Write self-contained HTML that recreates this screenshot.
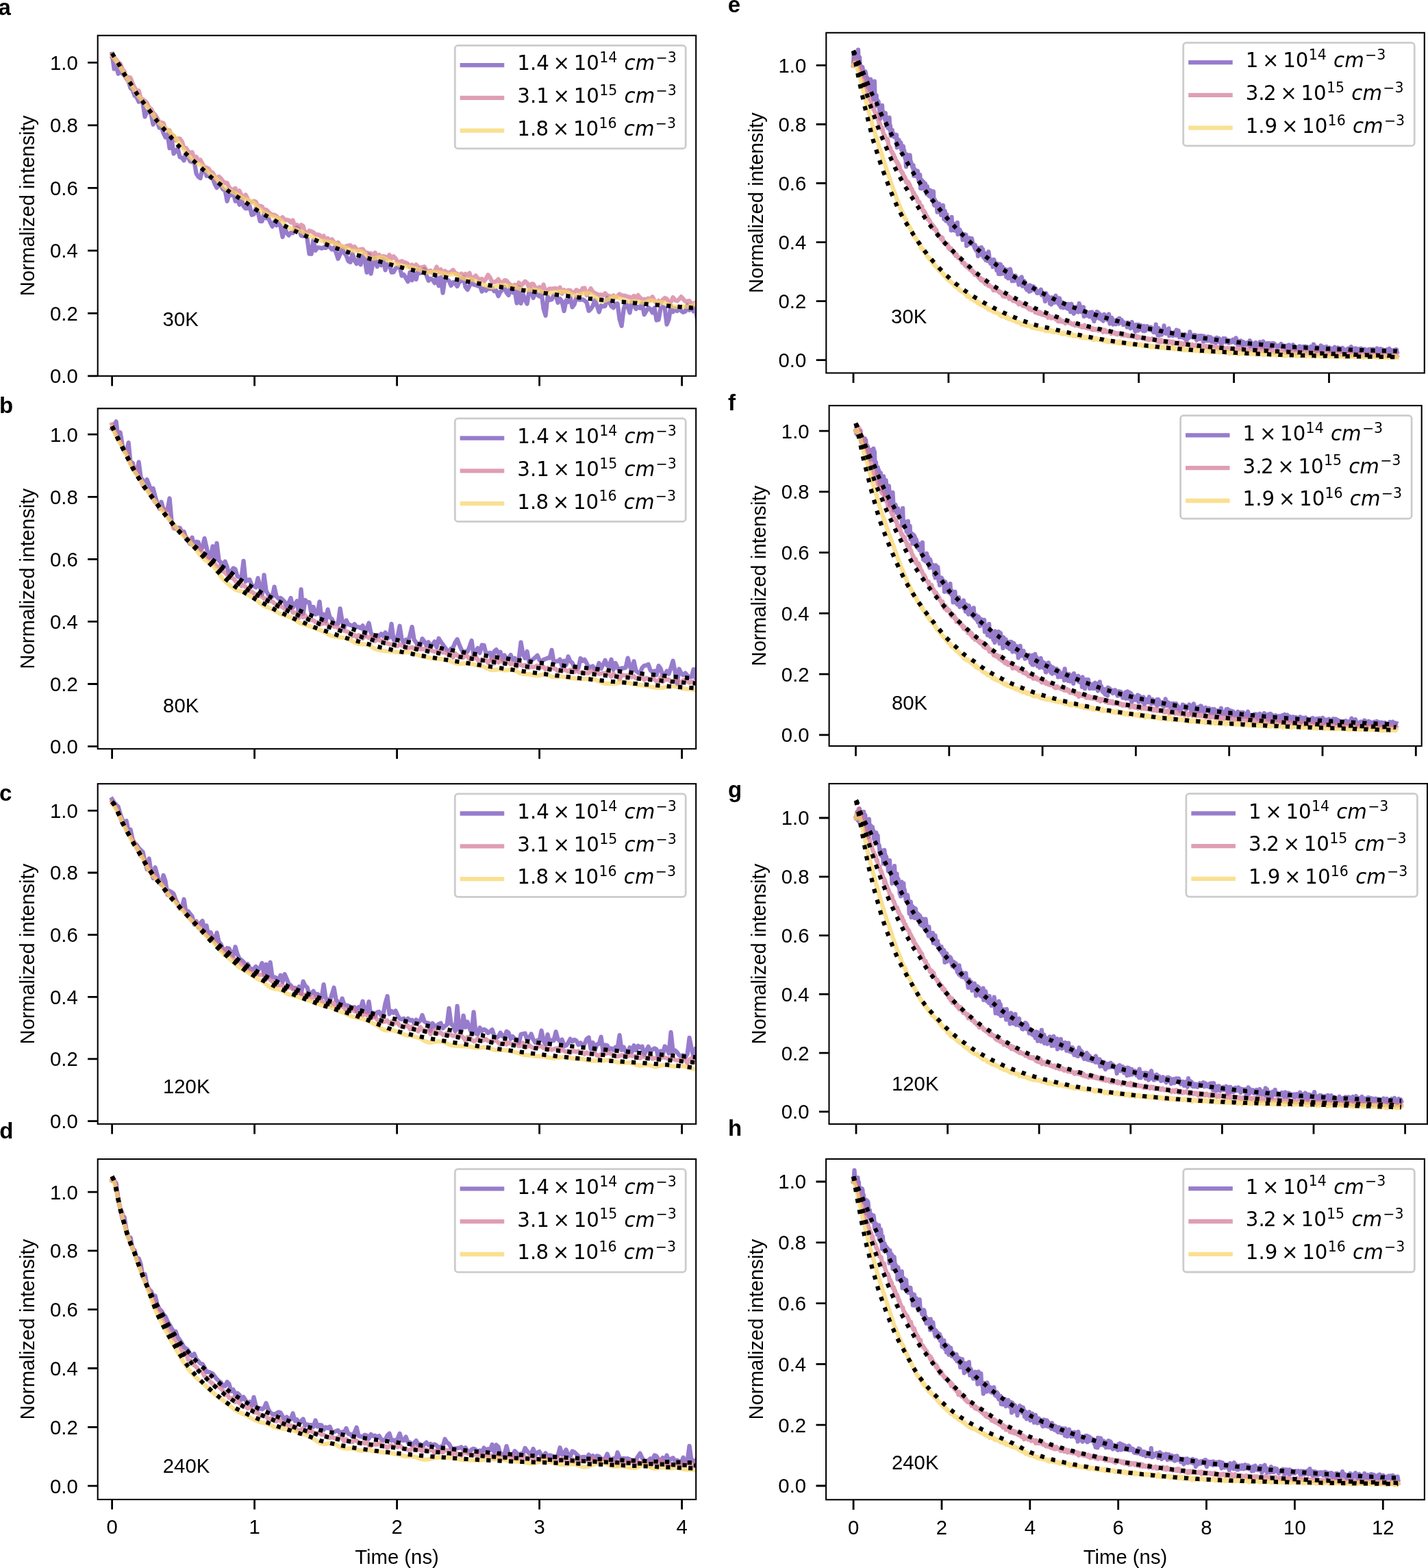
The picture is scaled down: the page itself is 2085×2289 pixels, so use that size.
<!DOCTYPE html>
<html><head><meta charset="utf-8"><title>Normalized intensity decay</title>
<style>html,body{margin:0;padding:0;background:#fff;} svg{display:block;}</style>
</head><body>
<svg xmlns="http://www.w3.org/2000/svg" width="2085" height="2289" viewBox="0 0 2085 2289">
<rect x="0" y="0" width="2085" height="2289" fill="#ffffff"/>
<defs>
<clipPath id="clipa"><rect x="142.7" y="51.8" width="873.5" height="497.1"/></clipPath>
<clipPath id="clipb"><rect x="142.7" y="596.3" width="873.5" height="496.9"/></clipPath>
<clipPath id="clipc"><rect x="142.7" y="1144.2" width="873.5" height="496.6"/></clipPath>
<clipPath id="clipd"><rect x="142.7" y="1692.1" width="873.5" height="496.9"/></clipPath>
<clipPath id="clipe"><rect x="1206.3" y="47.8" width="873.5" height="496.7"/></clipPath>
<clipPath id="clipf"><rect x="1210.6" y="592.1" width="865.1" height="497.0"/></clipPath>
<clipPath id="clipg"><rect x="1210.5" y="1144.0" width="873.5" height="496.9"/></clipPath>
<clipPath id="cliph"><rect x="1206.1" y="1691.9" width="873.8" height="497.4"/></clipPath>
</defs>
<g id="panel-a">
<g clip-path="url(#clipa)"><g transform="scale(0.1)" fill="none" stroke-linejoin="round" stroke-linecap="square">
<path d="M1636,789l30,217 30-49 30,121 30-127 30,122 30,26 30,48 30,38 30,102 30,28 30,81 30,24 30,66 30-28 30,51 30,195 30-80 30,9 30,31 30,153 30-104 30,67 30,85 30-12 30,90 30,61 30-45 30,204 30-135 30,216 30-38 30-38 30,125 30,9 30,41 30-109 30,62 30,58 30,10 30-10 30,180 30,48 30,19 30-135 30-14 30,117 30-2 30,29 30,6 30,86 30,53 30-56 30,29 30,49 30,14 30,160 30-100 30,10 30-43 30,132 30-27 30,78 30-79 30,101 30,35 30-3 30-30 30,127 30-10 30-86 30,52 30,135 30,1 30-114 30,70 30-12 30,75 30,57 30-70 30,54 30-40 30,53 30,157 30-138 30,77 30,36 30-39 30,7 30-54 30-28 30,24 30,94 30,7 30-41 30,82 30,218 30,2 30-205 30,155 30-44 30,3 30,10 30-14 30,7 30-23 30,12 30,33 30-24 30,68 30,93 30-66 30-78 30,57 30,40 30,80 30,16 30-127 30,104 30,46 30-78 30,90 30-127 30,53 30,189 30-261 30,279 30-162 30-57 30,117 30-78 30,57 30-92 30,163 30-90 30,3 30,120 30-3 30-56 30-18 30-3 30,130 30-17 30,51 30,51 30-136 30,116 30-101 30,88 30-139 30,47 30-29 30-29 30,88 30,81 30-30 30,19 30,45 30-85 30,126 30-124 30,228 30-214 30,22 30,15 30,70 30-49 30,16 30,43 30-63 30-17 30-54 30,144 30,41 30-60 30-82 30,67 30,6 30,14 30-10 30,90 30-43 30,31 30-37 30,12 30-17 30,50 30-9 30,80 30-60 30-32 30-42 30,86 30,34 30-133 30,96 30-27 30,182 30-231 30,233 30-136 30,87 30,56 30-183 30-28 30,126 30-92 30,47 30,21 30-47 30,229 30,99 30-279 30,50 30-6 30-63 30,6 30,104 30-58 30,42 30,137 30-155 30,22 30-71 30,148 30-41 30-107 30,37 30,4 30-6 30,17 30,27 30,123 30-27 30-46 30-87 30,80 30,96 30-92 30,12 30-7 30-120 30,66 30,57 30,23 30-56 30-5 30,227 30,99 30-241 30-100 30,60 30,88 30-158 30,51 30,52 30-31 30,19 30-70 30,164 30-51 30-50 30,20 30,53 30-68 30,179 30-7 30-168 30-19 30,15 30,241 30-77 30-197 30,90 30-49 30,36 30-60 30,59 30,20 30-12 30-90 30,71 30-54 30,70 30-56 30,220" stroke="#6f4ab8" stroke-opacity="0.72" stroke-width="63"/>
<path d="M1636,825l30,7 30,37 30,43 30,16 30,79 30,35 30,97 30-12 30,9 30,82 30,62 30,47 30-4 30,113 30,15 30,22 30,29 30,70 30,18 30,58 30,30 30,46 30,63 30,2 30,8 30,85 30,14 30,8 30,82 30-1 30,67 30-27 30-1 30,40 30,92 30,4 30,46 30,28 30-12 30,105 30-38 30,57 30-13 30,60 30,51 30,2 30,16 30,47 30,13 30,51 30,67 30-62 30,28 30,39 30,27 30-2 30,65 30,28 30,4 30-19 30,88 30-52 30,70 30,34 30-45 30,59 30,54 30-6 30-15 30,12 30,63 30-4 30,9 30,56 30-10 30,28 30,31 30,15 30,1 30,18 30,32 30,12 30-26 30,40 30-3 30,6 30,32 30-32 30,99 30-31 30,45 30-46 30,18 30,114 30-14 30-32 30,9 30,15 30,34 30-2 30,7 30,32 30-19 30,102 30-68 30,57 30-43 30,43 30,29 30-24 30,46 30,10 30,28 30-32 30-5 30-5 30,42 30-24 30,38 30,12 30-9 30-5 30,47 30,6 30,7 30,2 30,35 30-44 30,47 30-15 30,44 30-25 30,8 30,30 30-58 30,53 30-30 30,30 30,52 30,0 30-14 30,17 30,8 30,16 30,49 30-36 30,62 30-64 30,37 30,6 30-6 30-7 30,53 30,16 30-13 30,34 30-23 30-64 30,79 30-41 30,62 30-40 30,23 30-1 30-11 30-27 30,49 30,7 30,36 30-37 30,28 30-24 30,30 30-44 30,107 30-41 30-27 30,39 30,17 30-9 30,36 30-37 30-58 30,40 30,67 30-2 30-8 30-34 30,54 30,1 30-38 30,5 30,38 30,25 30,16 30-19 30,46 30-77 30,42 30-26 30-34 30,23 30,68 30-52 30-3 30,56 30,10 30-20 30,45 30-80 30,110 30-31 30-20 30,3 30-7 30,1 30,17 30-33 30,93 30-55 30,24 30-20 30,1 30,35 30-4 30-36 30,16 30,32 30-72 30-4 30,107 30-45 30-57 30,51 30,18 30,15 30,13 30-6 30,12 30-32 30,34 30,4 30,24 30-29 30,26 30-16 30-31 30,21 30-1 30,7 30,11 30,8 30,7 30-26 30,53 30-64 30,38 30,24 30-4 30,8 30-21 30,27 30-49 30,56 30,43 30-40 30,38 30-52 30-27 30,13 30,57 30-13 30-67 30,43 30,11 30-27 30-35 30,34 30,34 30-3 30-5 30,36 30,15 30-28 30,30" stroke="#d27895" stroke-opacity="0.72" stroke-width="63"/>
<path d="M1636,805l30,47 30,42 30,41 30,47 30,49 30,51 30,49 30,47 30,51 30,51 30,48 30,44 30,39 30,37 30,35 30,37 30,39 30,37 30,43 30,47 30,46 30,39 30,30 30,25 30,22 30,23 30,27 30,26 30,28 30,30 30,34 30,40 30,42 30,45 30,41 30,41 30,37 30,35 30,32 30,26 30,19 30,15 30,17 30,22 30,30 30,33 30,30 30,25 30,21 30,20 30,28 30,35 30,38 30,34 30,27 30,18 30,12 30,13 30,14 30,15 30,18 30,22 30,20 30,16 30,12 30,8 30,9 30,16 30,22 30,30 30,34 30,30 30,25 30,20 30,15 30,15 30,13 30,12 30,10 30,9 30,16 30,21 30,27 30,33 30,30 30,21 30,12 30,7 30,4 30,6 30,12 30,13 30,15 30,17 30,16 30,13 30,12 30,14 30,12 30,13 30,12 30,11 30,5 30,6 30,3 30,3 30,7 30,11 30,14 30,13 30,10 30,10 30,9 30,14 30,16 30,15 30,10 30,3 30,0 30,0 30,6 30,14 30,22 30,26 30,25 30,15 30,4 30-4 30-8 30-6 30,0 30,7 30,15 30,18 30,19 30,13 30,12 30,8 30,9 30,10 30,11 30,9 30,4 30,3 30,3 30,6 30,9 30,8 30,11 30,11 30,13 30,13 30,8 30,2 30-5 30-3 30,0 30,3 30,4 30,5 30,8 30,8 30,9 30,1 30-5 30-3 30,0 30,12 30,17 30,19 30,15 30,8 30,3 30,1 30,3 30,9 30,13 30,16 30,16 30,13 30,12 30,11 30,11 30,8 30,5 30-3 30-9 30-12 30-9 30-1 30,5 30,5 30,4 30,2 30,5 30,7 30,12 30,13 30,10 30,5 30,3 30,2 30-1 30-3 30,0 30,2 30,5 30,10 30,12 30,9 30,8 30,4 30,2 30-8 30-5 30-5 30-3 30-2 30,0 30,1 30,4 30,8 30,18 30,12 30,11 30,1 30-6 30-12 30-10 30-4 30-1 30,2 30,10 30,15 30,24 30,24 30,23 30,14 30,3 30-7 30-12 30-14 30-16 30-9 30,0 30,6 30,12 30,13 30,14 30,10 30,7 30,4 30-2 30-4 30,0 30,6 30,9 30,6 30-2 30-8 30-14 30-7 30,2 30,7 30,8 30,5 30,3 30,3 30,7 30,12 30,15 30,15 30,11 30,6 30,0 30-3 30-3 30-1 30,3 30,1 30-2 30-9 30-13 30-7 30-3" stroke="#f8d466" stroke-opacity="0.72" stroke-width="63"/>
<path d="M1636,777l30,50 30,49 30,48 30,52 30,55 30,52 30,47 30,44 30,45 30,48 30,50 30,47 30,42 30,41 30,39 30,40 30,38 30,39 30,40 30,43 30,43 30,40 30,37 30,34 30,34 30,35 30,35 30,35 30,35 30,34 30,34 30,34 30,33 30,32 30,32 30,31 30,29 30,29 30,28 30,27 30,28 30,28 30,27 30,27 30,28 30,29 30,29 30,28 30,26 30,24 30,22 30,23 30,22 30,25 30,25 30,25 30,24 30,21 30,19 30,19 30,18 30,19 30,20 30,21 30,21 30,21 30,21 30,21 30,20 30,20 30,19 30,18 30,18 30,18 30,18 30,17 30,18 30,17 30,16 30,17 30,16 30,16 30,16 30,15 30,16 30,15 30,15 30,14 30,15 30,14 30,14 30,14 30,13 30,14 30,13 30,13 30,13 30,13 30,12 30,13 30,12 30,12 30,12 30,11 30,12 30,11 30,11 30,11 30,11 30,11 30,10 30,11 30,10 30,10 30,10 30,9 30,10 30,9 30,9 30,9 30,9 30,9 30,9 30,9 30,8 30,9 30,8 30,9 30,8 30,8 30,9 30,8 30,9 30,8 30,8 30,8 30,8 30,8 30,8 30,8 30,8 30,7 30,7 30,8 30,7 30,7 30,7 30,7 30,7 30,7 30,7 30,6 30,7 30,7 30,6 30,7 30,6 30,7 30,6 30,6 30,6 30,6 30,7 30,6 30,5 30,6 30,6 30,6 30,6 30,5 30,6 30,5 30,6 30,5 30,5 30,6 30,5 30,5 30,5 30,5 30,5 30,5 30,5 30,5 30,4 30,5 30,5 30,4 30,5 30,5 30,4 30,5 30,4 30,4 30,5 30,4 30,4 30,5 30,4 30,4 30,4 30,4 30,5 30,4 30,4 30,4 30,4 30,4 30,4 30,4 30,4 30,3 30,4 30,4 30,4 30,4 30,4 30,3 30,4 30,4 30,3 30,4 30,4 30,3 30,4 30,3 30,4 30,3 30,4 30,3 30,3 30,4 30,3 30,3 30,4 30,3 30,3 30,3 30,3 30,3 30,3 30,3 30,3 30,3 30,3 30,3 30,3 30,3 30,2 30,3 30,3 30,3 30,2 30,3 30,2 30,3 30,3 30,2 30,3 30,2 30,3 30,2 30,3 30,2 30,3 30,2 30,3 30,3 30,2 30,3 30,2 30,3 30,2 30,3 30,2 30,3 30,2 30,3 30,2 30,3 30,2 30,3 30,2 30,3 30,2" stroke="#000" stroke-width="62" stroke-dasharray="62 102" stroke-linecap="butt"/>
</g></g>
<rect x="142.7" y="51.8" width="873.5" height="497.1" fill="none" stroke="#000" stroke-width="2.1" stroke-linejoin="miter"/>
<path d="M142.7,548.9 H128.1 M142.7,457.4 H128.1 M142.7,365.9 H128.1 M142.7,274.4 H128.1 M142.7,182.9 H128.1 M142.7,91.4 H128.1 M163.6,548.9 V563.5 M371.6,548.9 V563.5 M579.6,548.9 V563.5 M787.6,548.9 V563.5 M995.6,548.9 V563.5" stroke="#000" stroke-width="2.8" fill="none"/>
<g font-family="'Liberation Sans', Arial, sans-serif" font-size="29.3" fill="#000">
<text x="113.7" y="559.3" text-anchor="end">0.0</text>
<text x="113.7" y="467.8" text-anchor="end">0.2</text>
<text x="113.7" y="376.3" text-anchor="end">0.4</text>
<text x="113.7" y="284.8" text-anchor="end">0.6</text>
<text x="113.7" y="193.3" text-anchor="end">0.8</text>
<text x="113.7" y="101.8" text-anchor="end">1.0</text>
<text transform="translate(50.4,300.3) rotate(-90)" text-anchor="middle">Normalized intensity</text>
<text x="237.6" y="475.8">30K</text>
</g>
<text x="-2.5" y="21.5" font-family="'Liberation Sans', Arial, sans-serif" font-weight="bold" font-size="33" fill="#000">a</text>
<rect x="664.3" y="66.4" width="336.9" height="150.5" rx="4.5" ry="4.5" fill="#fff" fill-opacity="0.8" stroke="#cccccc" stroke-width="2.8"/>
<path d="M674.8,95.1 H733.1" stroke="#6f4ab8" stroke-opacity="0.72" stroke-width="6.3" stroke-linecap="square"/>
<text font-family="'DejaVu Sans', sans-serif" fill="#000"><tspan x="755.30" y="102.40" font-size="29.3">1</tspan><tspan x="773.91" y="102.40" font-size="29.3">.</tspan><tspan x="783.21" y="102.40" font-size="29.3">4</tspan><tspan x="807.52" y="102.40" font-size="29.3">×</tspan><tspan x="837.72" y="102.40" font-size="29.3">1</tspan><tspan x="856.33" y="102.40" font-size="29.3">0</tspan><tspan x="875.22" y="91.30" font-size="20.51">1</tspan><tspan x="888.25" y="91.30" font-size="20.51">4</tspan><tspan x="957.49" y="91.30" font-size="20.51">−</tspan><tspan x="974.64" y="91.30" font-size="20.51">3</tspan><tspan x="911.56" y="102.40" font-size="29.3" font-style="oblique">c</tspan><tspan x="927.65" y="102.40" font-size="29.3" font-style="oblique">m</tspan></text>
<path d="M674.8,142.9 H733.1" stroke="#d27895" stroke-opacity="0.72" stroke-width="6.3" stroke-linecap="square"/>
<text font-family="'DejaVu Sans', sans-serif" fill="#000"><tspan x="755.30" y="150.20" font-size="29.3">3</tspan><tspan x="773.91" y="150.20" font-size="29.3">.</tspan><tspan x="783.21" y="150.20" font-size="29.3">1</tspan><tspan x="807.52" y="150.20" font-size="29.3">×</tspan><tspan x="837.72" y="150.20" font-size="29.3">1</tspan><tspan x="856.33" y="150.20" font-size="29.3">0</tspan><tspan x="875.22" y="139.10" font-size="20.51">1</tspan><tspan x="888.25" y="139.10" font-size="20.51">5</tspan><tspan x="957.49" y="139.10" font-size="20.51">−</tspan><tspan x="974.64" y="139.10" font-size="20.51">3</tspan><tspan x="911.56" y="150.20" font-size="29.3" font-style="oblique">c</tspan><tspan x="927.65" y="150.20" font-size="29.3" font-style="oblique">m</tspan></text>
<path d="M674.8,190.7 H733.1" stroke="#f8d466" stroke-opacity="0.72" stroke-width="6.3" stroke-linecap="square"/>
<text font-family="'DejaVu Sans', sans-serif" fill="#000"><tspan x="755.30" y="198.00" font-size="29.3">1</tspan><tspan x="773.91" y="198.00" font-size="29.3">.</tspan><tspan x="782.46" y="198.00" font-size="29.3">8</tspan><tspan x="806.77" y="198.00" font-size="29.3">×</tspan><tspan x="836.97" y="198.00" font-size="29.3">1</tspan><tspan x="855.58" y="198.00" font-size="29.3">0</tspan><tspan x="874.47" y="186.90" font-size="20.51">1</tspan><tspan x="887.50" y="186.90" font-size="20.51">6</tspan><tspan x="956.74" y="186.90" font-size="20.51">−</tspan><tspan x="973.89" y="186.90" font-size="20.51">3</tspan><tspan x="910.81" y="198.00" font-size="29.3" font-style="oblique">c</tspan><tspan x="926.90" y="198.00" font-size="29.3" font-style="oblique">m</tspan></text>
</g>
<g id="panel-b">
<g clip-path="url(#clipb)"><g transform="scale(0.1)" fill="none" stroke-linejoin="round" stroke-linecap="square">
<path d="M1636,6259l30-42 30-64 30,246 30-86 30,183 30,92 30,20 30-147 30,307 30-11 30,116 30,46 30-174 30,223 30,49 30,55 30-71 30,80 30,75 30-25 30,115 30,98 30,81 30-98 30,107 30,4 30,2 30-165 30,340 30,46 30,56 30-11 30,0 30,64 30-9 30,97 30,41 30,41 30-92 30,142 30-81 30,4 30,114 30-35 30-133 30,132 30,147 30-2 30-162 30,181 30-225 30,254 30,27 30,86 30-101 30,78 30,121 30-54 30-47 30,16 30,104 30,11 30,0 30-237 30,300 30-22 30-4 30,87 30,5 30,20 30-135 30,129 30,112 30-285 30,230 30,52 30,26 30,7 30-143 30,139 30,32 30-9 30,24 30,34 30,80 30-70 30-66 30,136 30-46 30-47 30,202 30-372 30,355 30-199 30,31 30,0 30,164 30-95 30,109 30-12 30-173 30,267 30-83 30,101 30-172 30,115 30,25 30,64 30,6 30,0 30-223 30,183 30,97 30-108 30,58 30,11 30,14 30-29 30,44 30-2 30,19 30-37 30,143 30-108 30-73 30,146 30,33 30,41 30-46 30,18 30-35 30,32 30-53 30,49 30,25 30-198 30,229 30,17 30-66 30-150 30,197 30,50 30-48 30,40 30-104 30-122 30,187 30,40 30,53 30-2 30-105 30,39 30,60 30-49 30,55 30-20 30-42 30,81 30-128 30,48 30,41 30,41 30,43 30,15 30-39 30-18 30-71 30-48 30,81 30,67 30,54 30-25 30,4 30-75 30-86 30,213 30-55 30-49 30,72 30-116 30,1 30,123 30-6 30-5 30,103 30-124 30-25 30,52 30-18 30,113 30-66 30,52 30-4 30-52 30,68 30-21 30,61 30-52 30-240 30,171 30,59 30-97 30,164 30-27 30-25 30-25 30-29 30,68 30,26 30-32 30-10 30-15 30,2 30-118 30,182 30-18 30,0 30-26 30,98 30-78 30,60 30-123 30,68 30,24 30,67 30,25 30-20 30-138 30,38 30-21 30,56 30,65 30-13 30-10 30,53 30,0 30-98 30,80 30-57 30-64 30,78 30,6 30-95 30,149 30-98 30,62 30,58 30-44 30-1 30-8 30-140 30,109 30,92 30-154 30,139 30,26 30,5 30-76 30-28 30-7 30-15 30,86 30,29 30-17 30,59 30-135 30,39 30,107 30-12 30-57 30,42 30-92 30-98 30,150 30,191 30-222 30,62 30,26 30-29 30,34 30,27 30-5 30-111 30,130 30-185" stroke="#6f4ab8" stroke-opacity="0.72" stroke-width="63"/>
<path d="M1636,6195l30,72 30,79 30,64 30,15 30,95 30,60 30,27 30,67 30,71 30,75 30,3 30,86 30,46 30,61 30,70 30,43 30,10 30,39 30,51 30,58 30,46 30,21 30,60 30-3 30,34 30,8 30,73 30,64 30,41 30,83 30-16 30,27 30,13 30,38 30,31 30,36 30,22 30,14 30,75 30,18 30,45 30-26 30,33 30,38 30,63 30,2 30,34 30,21 30,31 30,13 30,42 30,2 30,36 30,34 30,20 30,30 30,0 30,43 30,12 30,34 30,42 30-22 30,56 30-13 30,24 30,56 30,5 30,10 30,23 30,24 30-17 30,35 30,4 30,31 30,2 30,34 30,3 30,4 30,26 30,24 30,27 30-8 30,12 30,25 30,24 30-10 30-21 30,64 30,1 30,11 30,65 30-37 30,27 30-26 30,42 30,23 30,3 30,5 30,25 30,2 30,35 30-11 30-8 30-12 30,32 30,18 30-6 30,13 30-2 30,20 30,32 30,2 30,11 30,7 30,11 30,27 30,33 30-17 30,33 30-30 30,10 30,38 30-35 30,5 30,22 30-21 30,5 30,64 30-32 30,18 30,8 30-3 30,37 30,4 30,11 30,4 30-6 30,30 30-1 30-24 30,18 30-3 30,47 30-14 30,1 30-5 30,17 30-22 30,24 30,4 30,6 30-8 30,27 30-23 30,17 30,11 30,8 30-4 30-3 30,6 30,16 30-4 30,19 30-16 30,29 30,42 30-57 30,27 30,29 30-13 30,17 30-49 30,34 30,42 30-34 30,22 30-38 30,59 30,26 30-37 30,12 30,5 30,36 30-42 30-19 30,70 30-52 30,36 30-49 30,39 30,16 30-19 30,14 30,25 30-20 30,26 30,28 30-66 30,47 30,9 30-13 30,38 30,0 30-11 30,4 30-7 30-15 30,32 30-14 30,2 30,35 30-21 30,25 30-33 30,15 30,11 30,29 30-23 30,19 30-23 30,18 30,16 30-28 30,7 30,27 30-29 30,30 30,4 30-5 30,19 30-2 30-2 30-28 30,4 30,35 30-31 30,33 30-5 30-6 30,14 30-36 30,43 30,29 30-43 30,35 30,1 30,51 30-69 30,6 30,3 30,0 30-11 30,35 30-15 30,33 30-4 30-23 30,15 30,34 30-28 30,12 30,14 30-20 30,18 30,24 30-6 30-50 30,63 30-29 30-5 30,2 30,36 30-13 30-6 30-10 30,29 30,12 30-37 30,0 30,16 30,20 30-16 30,8 30-11 30,40" stroke="#d27895" stroke-opacity="0.72" stroke-width="63"/>
<path d="M1636,6237l30,65 30,64 30,60 30,54 30,50 30,56 30,62 30,64 30,67 30,59 30,49 30,41 30,41 30,43 30,46 30,48 30,48 30,46 30,45 30,40 30,37 30,37 30,39 30,41 30,40 30,39 30,34 30,34 30,34 30,37 30,38 30,37 30,37 30,32 30,29 30,28 30,30 30,32 30,33 30,36 30,40 30,40 30,38 30,34 30,27 30,21 30,18 30,20 30,26 30,36 30,43 30,44 30,42 30,36 30,30 30,27 30,26 30,24 30,24 30,19 30,14 30,9 30,7 30,11 30,16 30,18 30,19 30,17 30,17 30,21 30,25 30,25 30,23 30,19 30,12 30,11 30,12 30,15 30,17 30,17 30,19 30,14 30,13 30,8 30,8 30,8 30,12 30,17 30,21 30,20 30,20 30,12 30,11 30,8 30,9 30,10 30,12 30,12 30,12 30,10 30,10 30,11 30,15 30,17 30,19 30,15 30,12 30,6 30,5 30,5 30,3 30,4 30,5 30,7 30,9 30,14 30,18 30,17 30,15 30,9 30,2 30-1 30,1 30,6 30,12 30,17 30,18 30,16 30,11 30,7 30,5 30,5 30,4 30,3 30,1 30,1 30,4 30,3 30,5 30,3 30,0 30-2 30,0 30,0 30,3 30,6 30,10 30,10 30,12 30,11 30,7 30,6 30,7 30,5 30,7 30,5 30,5 30,1 30,1 30,2 30,3 30,4 30,6 30,10 30,13 30,12 30,12 30,7 30,2 30-1 30-2 30-1 30-1 30,2 30,6 30,8 30,8 30,6 30,6 30,5 30,8 30,13 30,16 30,14 30,6 30-1 30-4 30-4 30,1 30,5 30,4 30,1 30-2 30-3 30,1 30,9 30,15 30,16 30,12 30,7 30,1 30,0 30,1 30,6 30,7 30,5 30,2 30-3 30-6 30-3 30,1 30,6 30,10 30,11 30,7 30-1 30-5 30-4 30,1 30,5 30,8 30,7 30,4 30,1 30,2 30,4 30,2 30,2 30,1 30,0 30-2 30,0 30,0 30,4 30,7 30,13 30,13 30,14 30,11 30,5 30,2 30,1 30,0 30,0 30-2 30-4 30-9 30-5 30-3 30,3 30,7 30,9 30,7 30,7 30,5 30,4 30,2 30,3 30,4 30,6 30,5 30,7 30,5 30,4 30,4 30,1 30,2 30-3 30-5 30-4 30-6 30-4 30-1 30,3 30,9 30,8 30,8 30,6 30,4 30,2 30,4 30,2 30,2 30,2 30,0" stroke="#f8d466" stroke-opacity="0.72" stroke-width="63"/>
<path d="M1636,6224l30,61 30,63 30,61 30,60 30,59 30,60 30,60 30,59 30,61 30,58 30,54 30,50 30,48 30,49 30,47 30,44 30,42 30,39 30,40 30,40 30,42 30,41 30,40 30,39 30,39 30,38 30,38 30,36 30,37 30,36 30,36 30,35 30,33 30,32 30,31 30,30 30,28 30,27 30,26 30,26 30,24 30,24 30,24 30,23 30,23 30,22 30,22 30,21 30,22 30,21 30,21 30,21 30,21 30,21 30,21 30,21 30,21 30,21 30,22 30,22 30,22 30,23 30,22 30,20 30,19 30,18 30,17 30,18 30,18 30,19 30,18 30,18 30,17 30,16 30,15 30,14 30,14 30,14 30,15 30,16 30,16 30,16 30,15 30,15 30,15 30,15 30,14 30,13 30,12 30,11 30,10 30,11 30,11 30,12 30,13 30,13 30,13 30,12 30,12 30,11 30,11 30,11 30,11 30,10 30,9 30,9 30,9 30,9 30,10 30,9 30,9 30,9 30,9 30,9 30,9 30,10 30,10 30,10 30,9 30,9 30,8 30,8 30,8 30,8 30,8 30,8 30,8 30,8 30,8 30,8 30,7 30,7 30,7 30,6 30,6 30,6 30,5 30,5 30,5 30,5 30,5 30,6 30,5 30,6 30,5 30,6 30,5 30,6 30,6 30,5 30,6 30,6 30,5 30,6 30,6 30,5 30,6 30,6 30,5 30,6 30,6 30,5 30,6 30,5 30,6 30,5 30,6 30,5 30,5 30,5 30,6 30,5 30,5 30,5 30,4 30,5 30,5 30,5 30,4 30,5 30,4 30,4 30,5 30,4 30,4 30,5 30,4 30,4 30,4 30,4 30,4 30,4 30,4 30,4 30,4 30,4 30,4 30,4 30,3 30,4 30,4 30,4 30,3 30,4 30,4 30,3 30,4 30,4 30,3 30,4 30,3 30,4 30,3 30,4 30,3 30,4 30,3 30,4 30,3 30,4 30,3 30,3 30,4 30,3 30,3 30,3 30,4 30,3 30,3 30,3 30,3 30,4 30,3 30,3 30,3 30,3 30,3 30,3 30,3 30,3 30,3 30,3 30,3 30,3 30,3 30,3 30,3 30,3 30,3 30,3 30,3 30,3 30,3 30,3 30,3 30,3 30,3 30,3 30,3 30,3 30,2 30,3 30,3 30,3 30,3 30,3 30,3 30,3 30,2 30,3 30,3 30,3 30,3 30,2 30,3 30,3 30,3 30,2 30,3 30,3 30,3 30,2 30,3 30,3 30,3" stroke="#000" stroke-width="62" stroke-dasharray="62 102" stroke-linecap="butt"/>
<path d="M1636,6224l30,61 30,63 30,61 30,60 30,59 30,60 30,60 30,59 30,61 30,58 30,54 30,50 30,48 30,49 30,47 30,44 30,42 30,39 30,40 30,40 30,42 30,41 30,40 30,39 30,39 30,38 30,38 30,36 30,37 30,36 30,36 30,35 30,33 30,32 30,30 30,30 30,29 30,29 30,29 30,29 30,29 30,28 30,28 30,27 30,28 30,27 30,27 30,26 30,26 30,26 30,25 30,25 30,25 30,24 30,24 30,23 30,24 30,22 30,23 30,22 30,22 30,21 30,20 30,19 30,19 30,18 30,18 30,18 30,18 30,18 30,17 30,17 30,16 30,16 30,15 30,15 30,16 30,15 30,16 30,16 30,15 30,15 30,15 30,14 30,15 30,14 30,14 30,13 30,13 30,12 30,11 30,12 30,11 30,13 30,12 30,13 30,13 30,13 30,12 30,11 30,11 30,10 30,10 30,9 30,10 30,10 30,10 30,10 30,10 30,10 30,9 30,9 30,10 30,9 30,9 30,9 30,9 30,9 30,9 30,8 30,8 30,9 30,7 30,8 30,8 30,9 30,8 30,8 30,8 30,8 30,7 30,7 30,7 30,6 30,6 30,6 30,6 30,6 30,5 30,6 30,6 30,6 30,6 30,5 30,6 30,6 30,5 30,6 30,5 30,6 30,5 30,6 30,5 30,6 30,5 30,6 30,5 30,5 30,6 30,5 30,5 30,5 30,6 30,5 30,5 30,5 30,5 30,5 30,5 30,5 30,5 30,5 30,4 30,5 30,5 30,4 30,5 30,5 30,4 30,5 30,4 30,4 30,5 30,4 30,5 30,4 30,4 30,5 30,4 30,4 30,4 30,4 30,4 30,5 30,4 30,4 30,4 30,4 30,4 30,4 30,4 30,4 30,3 30,4 30,4 30,4 30,4 30,3 30,4 30,4 30,3 30,4 30,4 30,3 30,4 30,3 30,4 30,3 30,4 30,3 30,4 30,3 30,3 30,4 30,3 30,3 30,4 30,3 30,3 30,3 30,3 30,3 30,4 30,3 30,3 30,3 30,3 30,3 30,3 30,3 30,3 30,3 30,3 30,3 30,3 30,3 30,3 30,2 30,3 30,3 30,3 30,3 30,3 30,2 30,3 30,3 30,3 30,2 30,3 30,3 30,2 30,3 30,3 30,2 30,3 30,3 30,2 30,3 30,2 30,3 30,2 30,3 30,2 30,3 30,2 30,3 30,2 30,3 30,2 30,2 30,3 30,2 30,2 30,3 30,2" stroke="#000" stroke-width="62" stroke-dasharray="62 102" stroke-linecap="butt"/>
<path d="M1636,6224l30,61 30,63 30,61 30,60 30,59 30,60 30,60 30,59 30,61 30,58 30,54 30,50 30,48 30,49 30,47 30,44 30,42 30,39 30,40 30,40 30,42 30,41 30,40 30,39 30,39 30,38 30,38 30,36 30,37 30,36 30,36 30,35 30,33 30,31 30,30 30,30 30,31 30,31 30,32 30,32 30,32 30,32 30,32 30,33 30,32 30,32 30,31 30,31 30,31 30,30 30,30 30,29 30,28 30,28 30,27 30,26 30,25 30,24 30,24 30,22 30,21 30,20 30,18 30,18 30,19 30,18 30,19 30,18 30,17 30,17 30,17 30,15 30,16 30,15 30,17 30,16 30,17 30,17 30,16 30,15 30,15 30,14 30,14 30,14 30,14 30,13 30,14 30,14 30,13 30,13 30,13 30,12 30,13 30,12 30,13 30,13 30,13 30,13 30,12 30,11 30,10 30,9 30,10 30,9 30,10 30,10 30,11 30,12 30,10 30,11 30,10 30,9 30,9 30,10 30,8 30,9 30,8 30,9 30,8 30,8 30,8 30,8 30,8 30,8 30,8 30,8 30,8 30,9 30,8 30,8 30,7 30,7 30,7 30,6 30,6 30,6 30,7 30,6 30,7 30,6 30,7 30,6 30,6 30,6 30,6 30,5 30,6 30,6 30,5 30,6 30,5 30,5 30,5 30,6 30,5 30,5 30,5 30,5 30,5 30,5 30,5 30,5 30,4 30,5 30,5 30,5 30,4 30,5 30,5 30,4 30,5 30,4 30,5 30,5 30,4 30,5 30,4 30,5 30,4 30,5 30,4 30,5 30,4 30,4 30,5 30,4 30,5 30,4 30,4 30,5 30,4 30,5 30,4 30,4 30,4 30,5 30,4 30,4 30,4 30,4 30,4 30,4 30,4 30,4 30,4 30,4 30,4 30,4 30,4 30,4 30,3 30,4 30,4 30,4 30,3 30,4 30,3 30,4 30,3 30,4 30,3 30,4 30,3 30,3 30,4 30,3 30,3 30,4 30,3 30,3 30,3 30,3 30,4 30,3 30,3 30,3 30,3 30,3 30,3 30,3 30,3 30,3 30,3 30,2 30,3 30,3 30,3 30,3 30,2 30,3 30,3 30,3 30,2 30,3 30,2 30,3 30,3 30,2 30,3 30,2 30,2 30,3 30,2 30,3 30,2 30,2 30,3 30,2 30,2 30,2 30,3 30,2 30,2 30,2 30,2 30,2 30,3 30,2 30,2 30,2 30,2 30,2 30,2 30,2 30,2" stroke="#000" stroke-width="62" stroke-dasharray="62 102" stroke-linecap="butt"/>
</g></g>
<rect x="142.7" y="596.3" width="873.5" height="496.9" fill="none" stroke="#000" stroke-width="2.1" stroke-linejoin="miter"/>
<path d="M142.7,1089.6 H128.1 M142.7,998.5 H128.1 M142.7,907.4 H128.1 M142.7,816.4 H128.1 M142.7,725.3 H128.1 M142.7,634.2 H128.1 M163.6,1093.2 V1107.8 M371.6,1093.2 V1107.8 M579.6,1093.2 V1107.8 M787.6,1093.2 V1107.8 M995.6,1093.2 V1107.8" stroke="#000" stroke-width="2.8" fill="none"/>
<g font-family="'Liberation Sans', Arial, sans-serif" font-size="29.3" fill="#000">
<text x="113.7" y="1100.0" text-anchor="end">0.0</text>
<text x="113.7" y="1008.9" text-anchor="end">0.2</text>
<text x="113.7" y="917.8" text-anchor="end">0.4</text>
<text x="113.7" y="826.8" text-anchor="end">0.6</text>
<text x="113.7" y="735.7" text-anchor="end">0.8</text>
<text x="113.7" y="644.6" text-anchor="end">1.0</text>
<text transform="translate(50.4,844.8) rotate(-90)" text-anchor="middle">Normalized intensity</text>
<text x="238.1" y="1039.5">80K</text>
</g>
<text x="-1.0" y="603.0" font-family="'Liberation Sans', Arial, sans-serif" font-weight="bold" font-size="33" fill="#000">b</text>
<rect x="664.3" y="610.9" width="336.9" height="150.5" rx="4.5" ry="4.5" fill="#fff" fill-opacity="0.8" stroke="#cccccc" stroke-width="2.8"/>
<path d="M674.8,639.6 H733.1" stroke="#6f4ab8" stroke-opacity="0.72" stroke-width="6.3" stroke-linecap="square"/>
<text font-family="'DejaVu Sans', sans-serif" fill="#000"><tspan x="755.30" y="646.90" font-size="29.3">1</tspan><tspan x="773.91" y="646.90" font-size="29.3">.</tspan><tspan x="783.21" y="646.90" font-size="29.3">4</tspan><tspan x="807.52" y="646.90" font-size="29.3">×</tspan><tspan x="837.72" y="646.90" font-size="29.3">1</tspan><tspan x="856.33" y="646.90" font-size="29.3">0</tspan><tspan x="875.22" y="635.80" font-size="20.51">1</tspan><tspan x="888.25" y="635.80" font-size="20.51">4</tspan><tspan x="957.49" y="635.80" font-size="20.51">−</tspan><tspan x="974.64" y="635.80" font-size="20.51">3</tspan><tspan x="911.56" y="646.90" font-size="29.3" font-style="oblique">c</tspan><tspan x="927.65" y="646.90" font-size="29.3" font-style="oblique">m</tspan></text>
<path d="M674.8,687.4 H733.1" stroke="#d27895" stroke-opacity="0.72" stroke-width="6.3" stroke-linecap="square"/>
<text font-family="'DejaVu Sans', sans-serif" fill="#000"><tspan x="755.30" y="694.70" font-size="29.3">3</tspan><tspan x="773.91" y="694.70" font-size="29.3">.</tspan><tspan x="783.21" y="694.70" font-size="29.3">1</tspan><tspan x="807.52" y="694.70" font-size="29.3">×</tspan><tspan x="837.72" y="694.70" font-size="29.3">1</tspan><tspan x="856.33" y="694.70" font-size="29.3">0</tspan><tspan x="875.22" y="683.60" font-size="20.51">1</tspan><tspan x="888.25" y="683.60" font-size="20.51">5</tspan><tspan x="957.49" y="683.60" font-size="20.51">−</tspan><tspan x="974.64" y="683.60" font-size="20.51">3</tspan><tspan x="911.56" y="694.70" font-size="29.3" font-style="oblique">c</tspan><tspan x="927.65" y="694.70" font-size="29.3" font-style="oblique">m</tspan></text>
<path d="M674.8,735.2 H733.1" stroke="#f8d466" stroke-opacity="0.72" stroke-width="6.3" stroke-linecap="square"/>
<text font-family="'DejaVu Sans', sans-serif" fill="#000"><tspan x="755.30" y="742.50" font-size="29.3">1</tspan><tspan x="773.91" y="742.50" font-size="29.3">.</tspan><tspan x="782.46" y="742.50" font-size="29.3">8</tspan><tspan x="806.77" y="742.50" font-size="29.3">×</tspan><tspan x="836.97" y="742.50" font-size="29.3">1</tspan><tspan x="855.58" y="742.50" font-size="29.3">0</tspan><tspan x="874.47" y="731.40" font-size="20.51">1</tspan><tspan x="887.50" y="731.40" font-size="20.51">6</tspan><tspan x="956.74" y="731.40" font-size="20.51">−</tspan><tspan x="973.89" y="731.40" font-size="20.51">3</tspan><tspan x="910.81" y="742.50" font-size="29.3" font-style="oblique">c</tspan><tspan x="926.90" y="742.50" font-size="29.3" font-style="oblique">m</tspan></text>
</g>
<g id="panel-c">
<g clip-path="url(#clipc)"><g transform="scale(0.1)" fill="none" stroke-linejoin="round" stroke-linecap="square">
<path d="M1636,11667l30,48 30,32 30,30 30,104 30,86 30,28 30-12 30,157 30-28 30,148 30,50 30,24 30,46 30,29 30,29 30,143 30,110 30-157 30,187 30,98 30-156 30,107 30,119 30,25 30-136 30,88 30,197 30-57 30,18 30,26 30,84 30,58 30,67 30-5 30-126 30,193 30-19 30,37 30,39 30,117 30-48 30,94 30-65 30-33 30,119 30-50 30,164 30-65 30,76 30,57 30-128 30,131 30,39 30,66 30,59 30-71 30,8 30,72 30,28 30-126 30,106 30,68 30,19 30,28 30,36 30-7 30,57 30,26 30-13 30-32 30,37 30-12 30-75 30,164 30-146 30,186 30-216 30,215 30,1 30,15 30,37 30-79 30,100 30-116 30,70 30,71 30,23 30,42 30-5 30,33 30-52 30,112 30-188 30,63 30,24 30,112 30-25 30-33 30,58 30-15 30,27 30,26 30-192 30,197 30,30 30,8 30-89 30-100 30,177 30,30 30,61 30-110 30,91 30,9 30,6 30,16 30,18 30-14 30,55 30-55 30,20 30-105 30,146 30,15 30-157 30,228 30-64 30,51 30-58 30-9 30,55 30-18 30-159 30-104 30,260 30-43 30,26 30-31 30,69 30,48 30,9 30-13 30,51 30-52 30,31 30-9 30,44 30-47 30,43 30-31 30-79 30,93 30,19 30,2 30,115 30-110 30,42 30-6 30-24 30-14 30,75 30-33 30-20 30-240 30,229 30,26 30,82 30-368 30,348 30,18 30-227 30,170 30-79 30,94 30,65 30-302 30,314 30,10 30-96 30,49 30-25 30,16 30,38 30-23 30-27 30,96 30,21 30-14 30-57 30,51 30,10 30-80 30,20 30,87 30-33 30,32 30,16 30,45 30-126 30-6 30-7 30,95 30-30 30-56 30,82 30,44 30-34 30,10 30-151 30,151 30,49 30-144 30,131 30-48 30,6 30-129 30,111 30,27 30-23 30,92 30-4 30-41 30-57 30,39 30-27 30,15 30,60 30-29 30,42 30-26 30-72 30-23 30,168 30-92 30,110 30-85 30-7 30-103 30,212 30-94 30,9 30,55 30-13 30,21 30-38 30,18 30-194 30,217 30-43 30,67 30,10 30-72 30,65 30-93 30,69 30-65 30,25 30-17 30,124 30-64 30-56 30,64 30-19 30-20 30,15 30,139 30-114 30,60 30-129 30,26 30,77 30-308 30,280 30-15 30,26 30,44 30,7 30-8 30,31 30-49 30-237 30,157 30,117 30-117 30,60" stroke="#6f4ab8" stroke-opacity="0.72" stroke-width="63"/>
<path d="M1636,11701l30,38 30,62 30,41 30,88 30,89 30,19 30,80 30,37 30,55 30,39 30,55 30,79 30,43 30,73 30,0 30,74 30,30 30,77 30,75 30-24 30,66 30,38 30,40 30,26 30,39 30,75 30-11 30,68 30,35 30-5 30,48 30,55 30,60 30-4 30,26 30,43 30,52 30,24 30,39 30,5 30,20 30,28 30,63 30,13 30,25 30,50 30,23 30-12 30,63 30,15 30,52 30,18 30,58 30-5 30,4 30,8 30,40 30,34 30,35 30,35 30,14 30,8 30,47 30-11 30,55 30,34 30,4 30,30 30,12 30-28 30,41 30,8 30-1 30,14 30,47 30-18 30,31 30,22 30,6 30,48 30,2 30,1 30,0 30,30 30,9 30-8 30,4 30,24 30,3 30,42 30,10 30,0 30,22 30,15 30-28 30,45 30,24 30-15 30-14 30,42 30-10 30,40 30,11 30,14 30,0 30-27 30,64 30-41 30,57 30-5 30-10 30,13 30,16 30,44 30-28 30,35 30-56 30,59 30,2 30,33 30-2 30,24 30-32 30,33 30-5 30,32 30,7 30-23 30,51 30,25 30-30 30,37 30-3 30-15 30,40 30-22 30,36 30-31 30,11 30,40 30,3 30,18 30-12 30-11 30,54 30-36 30,47 30-2 30,23 30-64 30,43 30,2 30,23 30-26 30,63 30-33 30-34 30,53 30-2 30-6 30,32 30-10 30-12 30,19 30,2 30,18 30-7 30,10 30-21 30,18 30,23 30,44 30-52 30,3 30,35 30,24 30-11 30-33 30,41 30-7 30-8 30-13 30,26 30,6 30,13 30-36 30,15 30,25 30,28 30-7 30-21 30,28 30-26 30,14 30,5 30-3 30,7 30,28 30-5 30-45 30,68 30-10 30-24 30,26 30,15 30,13 30-30 30-5 30-4 30,28 30-14 30,41 30-19 30,19 30-12 30-8 30-2 30,40 30-37 30,34 30,13 30-12 30,27 30-24 30-2 30,12 30-11 30,19 30-3 30,29 30-24 30,19 30-5 30-4 30-2 30,36 30,1 30-21 30-11 30,4 30-7 30-5 30,17 30,12 30,21 30,1 30-7 30-11 30,3 30,7 30,5 30-12 30,10 30,1 30,2 30,18 30,11 30-26 30,4 30,14 30,6 30-47 30,58 30-8 30-6 30,28 30-21 30-28 30,18 30,8 30,4 30,11 30-13 30,23 30,7 30-7 30-11 30,13 30-4 30,52 30-55 30-18 30,21 30,33 30,12" stroke="#d27895" stroke-opacity="0.72" stroke-width="63"/>
<path d="M1636,11737l30,27 30,51 30,55 30,59 30,65 30,62 30,63 30,61 30,58 30,50 30,43 30,40 30,45 30,55 30,64 30,64 30,60 30,55 30,43 30,35 30,29 30,27 30,31 30,34 30,40 30,43 30,43 30,42 30,38 30,31 30,28 30,29 30,33 30,36 30,40 30,38 30,35 30,30 30,27 30,28 30,30 30,34 30,36 30,33 30,31 30,28 30,28 30,26 30,29 30,31 30,33 30,36 30,35 30,32 30,28 30,25 30,24 30,25 30,28 30,27 30,26 30,22 30,19 30,19 30,17 30,18 30,18 30,21 30,21 30,21 30,17 30,16 30,16 30,20 30,24 30,24 30,21 30,13 30,6 30,5 30,6 30,11 30,14 30,18 30,16 30,13 30,10 30,9 30,7 30,7 30,9 30,12 30,8 30,10 30,11 30,9 30,9 30,10 30,12 30,13 30,14 30,12 30,5 30,3 30,5 30,8 30,13 30,16 30,15 30,12 30,11 30,12 30,12 30,15 30,14 30,13 30,8 30,8 30,7 30,7 30,5 30,7 30,10 30,12 30,14 30,15 30,15 30,13 30,17 30,21 30,22 30,18 30,10 30,1 30-2 30-1 30,5 30,8 30,11 30,14 30,13 30,12 30,9 30,6 30,4 30,5 30,6 30,7 30,9 30,12 30,15 30,19 30,15 30,8 30,2 30-5 30-6 30-4 30-1 30,3 30,6 30,10 30,13 30,12 30,11 30,6 30,2 30,2 30,3 30,1 30,1 30,0 30,1 30,4 30,7 30,7 30,4 30,0 30-2 30-4 30-1 30,3 30,8 30,9 30,10 30,9 30,4 30,0 30-2 30-1 30,1 30,5 30,7 30,8 30,6 30,5 30,7 30,9 30,10 30,8 30,6 30,3 30,1 30,3 30,5 30,5 30,3 30,1 30-1 30,2 30,5 30,7 30,7 30,4 30,1 30-4 30-4 30-3 30-2 30,0 30,2 30,3 30,6 30,6 30,6 30,2 30,0 30,1 30,2 30,7 30,8 30,6 30,3 30,0 30-1 30,1 30,1 30,0 30-2 30-5 30-3 30,1 30,6 30,9 30,8 30,7 30,4 30,3 30,1 30-1 30,0 30,0 30,6 30,11 30,12 30,9 30,3 30-3 30-6 30-2 30,3 30,8 30,8 30,8 30,0 30-6 30-7 30-8 30-3 30,1 30,6 30,7 30,4 30,1 30-2 30-3 30,0 30,2 30,7 30,9 30,10 30,9 30,5 30,3 30,2" stroke="#f8d466" stroke-opacity="0.72" stroke-width="63"/>
<path d="M1636,11706l30,36 30,59 30,65 30,68 30,69 30,60 30,56 30,56 30,55 30,55 30,52 30,50 30,50 30,52 30,54 30,51 30,48 30,46 30,43 30,42 30,40 30,38 30,38 30,37 30,37 30,37 30,38 30,38 30,36 30,35 30,33 30,33 30,32 30,33 30,32 30,32 30,32 30,31 30,32 30,31 30,30 30,29 30,28 30,27 30,27 30,27 30,26 30,27 30,26 30,26 30,26 30,26 30,25 30,25 30,24 30,23 30,24 30,22 30,23 30,22 30,21 30,21 30,21 30,20 30,19 30,19 30,18 30,18 30,18 30,17 30,17 30,17 30,16 30,16 30,15 30,15 30,15 30,15 30,14 30,13 30,14 30,13 30,13 30,12 30,12 30,13 30,11 30,12 30,12 30,11 30,11 30,11 30,11 30,11 30,10 30,11 30,10 30,11 30,10 30,11 30,10 30,10 30,10 30,10 30,10 30,10 30,10 30,9 30,10 30,9 30,10 30,9 30,9 30,9 30,9 30,8 30,9 30,9 30,8 30,8 30,9 30,8 30,8 30,8 30,8 30,8 30,7 30,8 30,7 30,8 30,7 30,7 30,8 30,7 30,7 30,7 30,7 30,6 30,7 30,7 30,6 30,7 30,6 30,6 30,7 30,6 30,6 30,7 30,6 30,6 30,6 30,6 30,6 30,6 30,6 30,6 30,6 30,5 30,6 30,6 30,5 30,6 30,5 30,6 30,5 30,5 30,6 30,5 30,5 30,5 30,5 30,5 30,5 30,5 30,5 30,5 30,4 30,5 30,5 30,4 30,5 30,4 30,5 30,4 30,4 30,4 30,5 30,4 30,4 30,4 30,4 30,4 30,4 30,4 30,3 30,4 30,4 30,4 30,3 30,4 30,4 30,3 30,4 30,3 30,4 30,3 30,4 30,3 30,4 30,3 30,3 30,4 30,3 30,3 30,3 30,4 30,3 30,3 30,3 30,4 30,3 30,3 30,3 30,3 30,3 30,3 30,4 30,3 30,3 30,3 30,3 30,3 30,3 30,3 30,3 30,3 30,3 30,3 30,3 30,3 30,2 30,3 30,3 30,3 30,3 30,3 30,2 30,3 30,3 30,3 30,2 30,3 30,3 30,2 30,3 30,3 30,2 30,3 30,3 30,2 30,3 30,2 30,3 30,2 30,3 30,2 30,3 30,2 30,2 30,3 30,2 30,2 30,3 30,2 30,2 30,2 30,3 30,2 30,2 30,2 30,2 30,2 30,2 30,2 30,2" stroke="#000" stroke-width="62" stroke-dasharray="62 102" stroke-linecap="butt"/>
<path d="M1636,11706l30,36 30,59 30,65 30,68 30,69 30,60 30,56 30,56 30,55 30,55 30,52 30,50 30,50 30,52 30,54 30,51 30,48 30,46 30,43 30,42 30,40 30,38 30,38 30,37 30,37 30,37 30,38 30,38 30,36 30,35 30,33 30,33 30,32 30,33 30,32 30,32 30,31 30,32 30,31 30,31 30,32 30,31 30,31 30,31 30,31 30,30 30,30 30,29 30,28 30,28 30,27 30,27 30,27 30,26 30,25 30,24 30,25 30,24 30,23 30,23 30,23 30,22 30,21 30,21 30,20 30,19 30,19 30,18 30,17 30,17 30,17 30,16 30,16 30,15 30,16 30,14 30,15 30,14 30,14 30,14 30,14 30,13 30,13 30,13 30,13 30,12 30,13 30,12 30,12 30,11 30,12 30,11 30,12 30,11 30,11 30,11 30,10 30,11 30,11 30,10 30,11 30,10 30,10 30,10 30,10 30,9 30,10 30,9 30,9 30,10 30,9 30,9 30,9 30,9 30,9 30,10 30,9 30,9 30,9 30,9 30,10 30,9 30,10 30,10 30,10 30,9 30,10 30,10 30,10 30,10 30,10 30,9 30,9 30,10 30,9 30,8 30,9 30,8 30,8 30,7 30,7 30,7 30,7 30,7 30,7 30,6 30,7 30,6 30,6 30,6 30,6 30,6 30,6 30,6 30,6 30,5 30,6 30,6 30,5 30,5 30,6 30,5 30,5 30,5 30,5 30,5 30,5 30,5 30,5 30,5 30,5 30,4 30,5 30,5 30,4 30,5 30,4 30,5 30,4 30,5 30,4 30,4 30,5 30,4 30,4 30,4 30,5 30,4 30,4 30,4 30,4 30,4 30,4 30,4 30,4 30,4 30,4 30,3 30,4 30,4 30,4 30,3 30,4 30,4 30,3 30,4 30,3 30,4 30,3 30,4 30,3 30,3 30,4 30,3 30,3 30,4 30,3 30,3 30,3 30,3 30,3 30,4 30,3 30,3 30,3 30,3 30,3 30,2 30,3 30,3 30,3 30,3 30,2 30,3 30,3 30,2 30,3 30,3 30,2 30,3 30,2 30,2 30,3 30,2 30,3 30,2 30,2 30,3 30,2 30,2 30,3 30,2 30,2 30,3 30,2 30,2 30,3 30,2 30,2 30,3 30,2 30,2 30,3 30,2 30,2 30,3 30,2 30,2 30,3 30,2 30,3 30,2 30,3 30,2 30,3 30,3 30,3 30,2 30,3 30,3 30,3 30,3 30,3 30,2 30,3" stroke="#000" stroke-width="62" stroke-dasharray="62 102" stroke-linecap="butt"/>
<path d="M1636,11706l30,36 30,59 30,65 30,68 30,69 30,60 30,56 30,56 30,55 30,55 30,52 30,50 30,50 30,52 30,54 30,51 30,48 30,46 30,43 30,42 30,40 30,38 30,38 30,37 30,37 30,37 30,38 30,38 30,36 30,35 30,33 30,33 30,32 30,33 30,32 30,32 30,31 30,31 30,31 30,32 30,32 30,34 30,35 30,34 30,35 30,34 30,33 30,31 30,30 30,30 30,29 30,28 30,27 30,27 30,27 30,25 30,26 30,25 30,25 30,24 30,24 30,23 30,22 30,21 30,21 30,19 30,19 30,18 30,17 30,17 30,16 30,16 30,16 30,15 30,15 30,14 30,15 30,14 30,14 30,14 30,14 30,14 30,13 30,13 30,13 30,13 30,13 30,12 30,13 30,12 30,12 30,11 30,12 30,12 30,11 30,11 30,11 30,11 30,11 30,11 30,11 30,10 30,10 30,9 30,10 30,9 30,10 30,9 30,9 30,9 30,9 30,9 30,10 30,9 30,9 30,10 30,9 30,10 30,10 30,10 30,11 30,10 30,12 30,11 30,12 30,12 30,12 30,13 30,12 30,12 30,12 30,12 30,11 30,12 30,10 30,11 30,10 30,9 30,9 30,9 30,7 30,8 30,7 30,7 30,7 30,7 30,7 30,6 30,6 30,7 30,6 30,6 30,5 30,6 30,6 30,5 30,6 30,5 30,5 30,5 30,5 30,5 30,5 30,5 30,5 30,4 30,5 30,5 30,4 30,5 30,4 30,5 30,4 30,4 30,5 30,4 30,4 30,5 30,4 30,4 30,4 30,5 30,4 30,4 30,4 30,5 30,4 30,4 30,4 30,4 30,4 30,4 30,4 30,4 30,4 30,4 30,4 30,4 30,4 30,4 30,4 30,3 30,4 30,4 30,4 30,3 30,4 30,3 30,4 30,3 30,4 30,3 30,4 30,3 30,3 30,3 30,4 30,3 30,3 30,3 30,3 30,3 30,3 30,3 30,3 30,3 30,3 30,2 30,3 30,3 30,2 30,3 30,2 30,2 30,3 30,2 30,2 30,2 30,2 30,3 30,2 30,2 30,2 30,2 30,2 30,1 30,2 30,2 30,2 30,2 30,2 30,2 30,2 30,2 30,2 30,2 30,2 30,2 30,2 30,2 30,2 30,2 30,2 30,3 30,2 30,2 30,3 30,2 30,3 30,2 30,3 30,2 30,3 30,3 30,3 30,3 30,4 30,3 30,3 30,4 30,4 30,3 30,4 30,3 30,4" stroke="#000" stroke-width="62" stroke-dasharray="62 102" stroke-linecap="butt"/>
</g></g>
<rect x="142.7" y="1144.2" width="873.5" height="496.6" fill="none" stroke="#000" stroke-width="2.1" stroke-linejoin="miter"/>
<path d="M142.7,1636.6 H128.1 M142.7,1545.9 H128.1 M142.7,1455.3 H128.1 M142.7,1364.6 H128.1 M142.7,1274.0 H128.1 M142.7,1183.3 H128.1 M163.6,1640.8 V1655.4 M371.6,1640.8 V1655.4 M579.6,1640.8 V1655.4 M787.6,1640.8 V1655.4 M995.6,1640.8 V1655.4" stroke="#000" stroke-width="2.8" fill="none"/>
<g font-family="'Liberation Sans', Arial, sans-serif" font-size="29.3" fill="#000">
<text x="113.7" y="1647.0" text-anchor="end">0.0</text>
<text x="113.7" y="1556.3" text-anchor="end">0.2</text>
<text x="113.7" y="1465.7" text-anchor="end">0.4</text>
<text x="113.7" y="1375.0" text-anchor="end">0.6</text>
<text x="113.7" y="1284.4" text-anchor="end">0.8</text>
<text x="113.7" y="1193.7" text-anchor="end">1.0</text>
<text transform="translate(50.4,1392.5) rotate(-90)" text-anchor="middle">Normalized intensity</text>
<text x="238.0" y="1596.3">120K</text>
</g>
<text x="-1.1" y="1168.7" font-family="'Liberation Sans', Arial, sans-serif" font-weight="bold" font-size="33" fill="#000">c</text>
<rect x="664.3" y="1158.8" width="336.9" height="150.5" rx="4.5" ry="4.5" fill="#fff" fill-opacity="0.8" stroke="#cccccc" stroke-width="2.8"/>
<path d="M674.8,1187.5 H733.1" stroke="#6f4ab8" stroke-opacity="0.72" stroke-width="6.3" stroke-linecap="square"/>
<text font-family="'DejaVu Sans', sans-serif" fill="#000"><tspan x="755.30" y="1194.80" font-size="29.3">1</tspan><tspan x="773.91" y="1194.80" font-size="29.3">.</tspan><tspan x="783.21" y="1194.80" font-size="29.3">4</tspan><tspan x="807.52" y="1194.80" font-size="29.3">×</tspan><tspan x="837.72" y="1194.80" font-size="29.3">1</tspan><tspan x="856.33" y="1194.80" font-size="29.3">0</tspan><tspan x="875.22" y="1183.70" font-size="20.51">1</tspan><tspan x="888.25" y="1183.70" font-size="20.51">4</tspan><tspan x="957.49" y="1183.70" font-size="20.51">−</tspan><tspan x="974.64" y="1183.70" font-size="20.51">3</tspan><tspan x="911.56" y="1194.80" font-size="29.3" font-style="oblique">c</tspan><tspan x="927.65" y="1194.80" font-size="29.3" font-style="oblique">m</tspan></text>
<path d="M674.8,1235.3 H733.1" stroke="#d27895" stroke-opacity="0.72" stroke-width="6.3" stroke-linecap="square"/>
<text font-family="'DejaVu Sans', sans-serif" fill="#000"><tspan x="755.30" y="1242.60" font-size="29.3">3</tspan><tspan x="773.91" y="1242.60" font-size="29.3">.</tspan><tspan x="783.21" y="1242.60" font-size="29.3">1</tspan><tspan x="807.52" y="1242.60" font-size="29.3">×</tspan><tspan x="837.72" y="1242.60" font-size="29.3">1</tspan><tspan x="856.33" y="1242.60" font-size="29.3">0</tspan><tspan x="875.22" y="1231.50" font-size="20.51">1</tspan><tspan x="888.25" y="1231.50" font-size="20.51">5</tspan><tspan x="957.49" y="1231.50" font-size="20.51">−</tspan><tspan x="974.64" y="1231.50" font-size="20.51">3</tspan><tspan x="911.56" y="1242.60" font-size="29.3" font-style="oblique">c</tspan><tspan x="927.65" y="1242.60" font-size="29.3" font-style="oblique">m</tspan></text>
<path d="M674.8,1283.1 H733.1" stroke="#f8d466" stroke-opacity="0.72" stroke-width="6.3" stroke-linecap="square"/>
<text font-family="'DejaVu Sans', sans-serif" fill="#000"><tspan x="755.30" y="1290.40" font-size="29.3">1</tspan><tspan x="773.91" y="1290.40" font-size="29.3">.</tspan><tspan x="782.46" y="1290.40" font-size="29.3">8</tspan><tspan x="806.77" y="1290.40" font-size="29.3">×</tspan><tspan x="836.97" y="1290.40" font-size="29.3">1</tspan><tspan x="855.58" y="1290.40" font-size="29.3">0</tspan><tspan x="874.47" y="1279.30" font-size="20.51">1</tspan><tspan x="887.50" y="1279.30" font-size="20.51">6</tspan><tspan x="956.74" y="1279.30" font-size="20.51">−</tspan><tspan x="973.89" y="1279.30" font-size="20.51">3</tspan><tspan x="910.81" y="1290.40" font-size="29.3" font-style="oblique">c</tspan><tspan x="926.90" y="1290.40" font-size="29.3" font-style="oblique">m</tspan></text>
</g>
<g id="panel-d">
<g clip-path="url(#clipd)"><g transform="scale(0.1)" fill="none" stroke-linejoin="round" stroke-linecap="square">
<path d="M1636,17229l30,10 30,35 30,231 30,138 30,152 30-26 30,193 30,104 30,1 30,161 30,26 30,113 30,4 30,86 30,191 30-46 30,162 30,60 30,25 30,64 30,4 30,126 30,66 30,27 30,47 30,36 30,71 30,44 30,58 30,47 30-2 30,86 30,38 30,48 30,56 30,21 30,26 30,57 30,28 30-33 30,78 30,29 30,34 30,7 30,50 30,67 30-2 30,13 30,13 30,43 30,36 30,29 30,20 30,50 30,4 30-61 30,31 30,105 30-24 30,72 30-21 30,27 30,67 30-37 30,50 30,32 30-11 30,53 30-122 30,128 30,50 30-17 30,16 30-21 30-69 30,86 30,53 30,19 30,10 30-18 30-20 30,9 30,53 30,50 30-39 30,29 30,5 30-88 30,111 30-21 30,66 30-44 30-29 30,95 30-16 30,10 30-3 30,27 30-94 30,92 30-24 30,5 30,65 30-37 30,13 30-21 30,81 30-5 30-12 30-10 30,43 30-20 30,7 30-61 30,83 30,4 30,34 30-58 30-75 30,124 30,8 30,3 30-27 30,11 30,45 30-64 30,27 30-9 30,24 30-19 30,51 30,11 30-3 30-67 30-26 30,104 30-10 30,28 30-50 30-72 30,100 30,1 30-53 30,85 30-3 30,40 30-34 30-32 30,55 30-4 30,28 30-27 30-26 30,39 30-18 30,20 30-13 30,17 30,38 30-24 30-1 30-107 30,49 30,22 30,52 30,27 30-15 30-1 30-5 30-12 30,35 30-26 30,50 30,23 30-48 30-11 30,16 30,30 30-20 30,26 30-65 30,42 30-24 30,16 30-81 30,112 30-107 30,27 30,115 30-7 30,3 30-120 30,115 30,8 30,11 30-63 30,30 30,37 30-29 30,8 30-89 30,43 30,36 30,2 30-69 30,92 30-39 30-13 30,61 30-3 30-36 30,52 30-21 30,8 30,16 30-7 30-14 30-115 30,100 30-12 30-57 30,80 30,19 30-77 30,13 30,29 30,29 30,36 30-24 30,0 30,34 30-67 30,39 30-23 30,60 30-58 30,7 30,36 30,3 30-6 30-69 30,78 30,15 30-26 30,30 30-118 30,76 30,17 30-7 30,6 30-3 30,12 30,20 30-10 30-2 30-54 30-41 30,66 30,47 30,0 30-9 30-29 30,21 30-69 30,15 30,47 30,13 30-38 30,43 30-79 30,86 30-34 30-15 30,48 30-14 30,20 30,14 30-73 30,76 30-26 30-219 30,220 30-6 30,18 30-62" stroke="#6f4ab8" stroke-opacity="0.72" stroke-width="63"/>
<path d="M1636,17229l30-16 30,135 30,156 30,144 30,48 30,170 30,127 30,78 30,73 30,71 30,67 30,103 30,58 30,100 30,94 30,64 30,65 30,51 30,78 30,84 30,61 30,61 30,28 30,102 30,36 30,50 30,82 30,31 30,49 30,58 30,30 30,41 30,44 30,66 30,33 30,0 30,96 30,13 30,23 30,47 30,24 30,39 30,20 30,19 30,55 30,22 30,33 30,35 30,21 30,45 30-6 30,8 30,25 30,32 30,62 30-19 30,60 30,9 30-13 30,68 30-15 30,28 30,24 30,29 30-6 30,31 30-11 30,11 30,59 30-2 30,10 30,28 30,12 30-8 30,18 30,37 30-6 30-7 30,42 30,6 30-32 30,16 30,60 30,6 30-20 30,37 30-6 30,13 30-7 30,62 30,4 30-7 30-29 30,29 30,36 30-29 30,6 30,26 30,11 30-4 30-4 30,27 30,0 30,17 30,13 30,16 30-14 30,16 30,5 30-15 30,14 30-1 30,47 30-31 30,25 30,9 30,6 30-31 30,11 30,32 30,11 30-15 30,13 30-32 30,57 30,11 30-23 30-1 30,2 30-7 30-19 30,46 30,7 30,24 30-30 30-7 30,22 30-21 30,23 30-22 30,24 30,27 30-4 30,19 30,7 30-31 30-7 30-16 30,38 30,6 30,18 30-32 30,13 30,20 30-19 30,5 30,45 30-42 30,13 30,12 30,3 30-34 30,6 30-2 30,54 30-6 30-24 30,39 30-6 30,21 30-60 30,16 30,13 30,6 30,14 30,2 30-16 30,25 30-31 30,32 30,9 30-35 30,27 30-10 30,18 30,34 30-46 30,34 30-40 30,47 30,7 30-35 30,0 30,7 30,24 30-34 30,42 30-16 30,7 30-5 30-20 30,27 30-19 30-1 30,43 30-8 30-12 30,5 30-14 30,40 30-44 30,0 30,17 30,23 30-23 30,11 30-18 30,12 30-12 30,21 30-31 30,66 30-21 30-25 30,36 30-38 30,35 30-21 30,18 30-6 30-10 30,6 30,6 30-42 30,38 30,18 30-31 30,3 30-6 30-8 30,48 30-33 30,0 30,20 30-2 30,57 30-41 30-39 30,62 30-20 30-13 30-4 30-16 30,59 30-30 30-13 30,39 30-21 30-32 30,11 30,15 30,55 30-41 30-8 30,13 30-3 30-53 30,58 30,14 30-19 30,10 30,1 30-2 30-14 30,10 30,26 30-17 30-9 30,17 30-27 30,8 30,31 30-21 30-28 30,9" stroke="#d27895" stroke-opacity="0.72" stroke-width="63"/>
<path d="M1636,17229l30,15 30,127 30,150 30,140 30,112 30,102 30,100 30,95 30,89 30,75 30,76 30,85 30,85 30,80 30,78 30,74 30,77 30,83 30,83 30,81 30,77 30,69 30,63 30,56 30,57 30,58 30,56 30,58 30,54 30,53 30,52 30,52 30,52 30,52 30,48 30,46 30,41 30,35 30,33 30,32 30,31 30,30 30,26 30,25 30,25 30,26 30,28 30,28 30,27 30,26 30,25 30,24 30,21 30,19 30,21 30,23 30,26 30,26 30,26 30,21 30,18 30,16 30,14 30,12 30,13 30,15 30,17 30,18 30,16 30,14 30,12 30,10 30,7 30,6 30,8 30,10 30,13 30,14 30,13 30,10 30,7 30,5 30,5 30,3 30,3 30,3 30,6 30,8 30,11 30,12 30,11 30,11 30,9 30,10 30,12 30,14 30,17 30,19 30,19 30,20 30,16 30,12 30,5 30,0 30-4 30-4 30,0 30,7 30,14 30,18 30,16 30,12 30,7 30,3 30-1 30-1 30,2 30,7 30,8 30,9 30,5 30,1 30-2 30-3 30,0 30,4 30,5 30,5 30,5 30,4 30,4 30,3 30,3 30,2 30,3 30,5 30,5 30,6 30,6 30,8 30,8 30,8 30,4 30,2 30-1 30,0 30,4 30,8 30,11 30,11 30,8 30,4 30,0 30-3 30-9 30-8 30-5 30-6 30-2 30,1 30,0 30,1 30,0 30,3 30,3 30,4 30,6 30,5 30,6 30,5 30,5 30,3 30,1 30-1 30,1 30,0 30,2 30,1 30,0 30-5 30-6 30-6 30-2 30,0 30,1 30,1 30-1 30-2 30,0 30,3 30,6 30,8 30,8 30,5 30,1 30,2 30,0 30,2 30,4 30,5 30,5 30,6 30,6 30,3 30-2 30-5 30-10 30-11 30-8 30-3 30,2 30,5 30,8 30,8 30,8 30,8 30,8 30,6 30,4 30,2 30-1 30-4 30-4 30-2 30,1 30,6 30,11 30,11 30,11 30,4 30-4 30-8 30-11 30-12 30-10 30-10 30-7 30-4 30,1 30,7 30,12 30,15 30,12 30,8 30,3 30-1 30-4 30,0 30,2 30,5 30,5 30,7 30,6 30,2 30-3 30-10 30-14 30-12 30-5 30,4 30,12 30,16 30,13 30,6 30-1 30-7 30-7 30-3 30,4 30,7 30,5 30,1 30-6 30-4 30-1 30,6 30,8 30,8 30,4 30,2 30-2 30,1 30,2 30,5 30,4" stroke="#f8d466" stroke-opacity="0.72" stroke-width="63"/>
<path d="M1636,17174l30,63 30,124 30,147 30,141 30,115 30,108 30,103 30,93 30,83 30,70 30,73 30,86 30,85 30,83 30,78 30,76 30,69 30,63 30,58 30,56 30,55 30,54 30,52 30,52 30,53 30,54 30,54 30,49 30,47 30,45 30,46 30,45 30,43 30,38 30,34 30,33 30,32 30,34 30,35 30,35 30,32 30,29 30,28 30,28 30,28 30,30 30,31 30,30 30,29 30,28 30,27 30,26 30,26 30,25 30,26 30,25 30,24 30,22 30,21 30,20 30,20 30,19 30,19 30,19 30,18 30,17 30,16 30,15 30,14 30,14 30,13 30,14 30,14 30,14 30,13 30,13 30,13 30,13 30,13 30,12 30,12 30,12 30,11 30,10 30,11 30,11 30,10 30,10 30,10 30,10 30,9 30,10 30,9 30,9 30,8 30,9 30,8 30,8 30,8 30,7 30,7 30,7 30,7 30,6 30,6 30,7 30,6 30,5 30,6 30,6 30,5 30,6 30,5 30,5 30,5 30,5 30,5 30,5 30,5 30,4 30,5 30,4 30,5 30,4 30,4 30,5 30,4 30,4 30,4 30,4 30,4 30,4 30,4 30,4 30,4 30,4 30,4 30,3 30,4 30,4 30,4 30,4 30,3 30,4 30,4 30,3 30,4 30,4 30,4 30,3 30,4 30,3 30,4 30,4 30,3 30,4 30,3 30,4 30,3 30,4 30,3 30,3 30,4 30,3 30,3 30,3 30,4 30,3 30,3 30,3 30,3 30,3 30,3 30,3 30,3 30,3 30,3 30,2 30,3 30,3 30,2 30,3 30,3 30,2 30,3 30,2 30,2 30,3 30,2 30,2 30,3 30,2 30,2 30,2 30,2 30,2 30,2 30,2 30,2 30,2 30,2 30,2 30,2 30,2 30,2 30,2 30,1 30,2 30,2 30,2 30,1 30,2 30,2 30,2 30,1 30,2 30,1 30,2 30,2 30,1 30,2 30,1 30,2 30,1 30,2 30,1 30,2 30,1 30,2 30,1 30,2 30,1 30,1 30,2 30,1 30,2 30,1 30,1 30,2 30,1 30,1 30,2 30,1 30,1 30,2 30,1 30,1 30,1 30,2 30,1 30,1 30,1 30,1 30,2 30,1 30,1 30,1 30,1 30,1 30,2 30,1 30,1 30,1 30,1 30,1 30,1 30,1 30,1 30,1 30,1 30,1 30,1 30,1 30,1 30,1 30,1 30,1 30,1 30,1 30,1 30,1 30,1 30,1 30,1 30,1" stroke="#000" stroke-width="62" stroke-dasharray="62 102" stroke-linecap="butt"/>
<path d="M1636,17174l30,63 30,124 30,147 30,141 30,115 30,108 30,103 30,93 30,83 30,70 30,73 30,86 30,85 30,83 30,78 30,74 30,73 30,72 30,71 30,70 30,68 30,64 30,59 30,56 30,54 30,55 30,54 30,50 30,49 30,47 30,48 30,48 30,47 30,42 30,40 30,37 30,37 30,35 30,35 30,35 30,32 30,31 30,29 30,29 30,29 30,29 30,29 30,29 30,27 30,27 30,25 30,25 30,25 30,25 30,24 30,23 30,21 30,21 30,19 30,19 30,18 30,17 30,18 30,16 30,17 30,15 30,15 30,14 30,14 30,13 30,14 30,13 30,13 30,13 30,12 30,13 30,12 30,12 30,12 30,11 30,11 30,11 30,11 30,10 30,10 30,10 30,10 30,9 30,10 30,10 30,9 30,9 30,10 30,9 30,9 30,10 30,9 30,9 30,10 30,10 30,9 30,8 30,7 30,7 30,7 30,7 30,6 30,6 30,6 30,6 30,6 30,6 30,5 30,6 30,5 30,5 30,5 30,5 30,4 30,5 30,5 30,4 30,5 30,4 30,4 30,4 30,4 30,4 30,4 30,4 30,4 30,4 30,3 30,4 30,4 30,3 30,4 30,3 30,4 30,3 30,3 30,4 30,3 30,4 30,3 30,3 30,3 30,4 30,3 30,3 30,3 30,3 30,3 30,4 30,3 30,3 30,3 30,2 30,3 30,3 30,3 30,3 30,3 30,2 30,3 30,3 30,2 30,3 30,3 30,2 30,3 30,2 30,2 30,3 30,2 30,3 30,2 30,2 30,2 30,3 30,2 30,2 30,2 30,2 30,2 30,2 30,2 30,2 30,2 30,2 30,1 30,2 30,2 30,2 30,1 30,2 30,1 30,2 30,2 30,1 30,2 30,1 30,2 30,1 30,2 30,1 30,1 30,2 30,1 30,1 30,2 30,1 30,1 30,2 30,1 30,1 30,2 30,1 30,1 30,1 30,2 30,1 30,1 30,1 30,2 30,1 30,1 30,1 30,2 30,1 30,1 30,1 30,2 30,1 30,1 30,1 30,2 30,1 30,1 30,1 30,2 30,1 30,1 30,1 30,2 30,1 30,1 30,1 30,2 30,1 30,1 30,1 30,1 30,2 30,1 30,1 30,1 30,1 30,2 30,1 30,1 30,1 30,1 30,2 30,1 30,1 30,1 30,1 30,1 30,2 30,1 30,1 30,1 30,1 30,1 30,1 30,2 30,1 30,1 30,1 30,1 30,1 30,1 30,1 30,1" stroke="#000" stroke-width="62" stroke-dasharray="62 102" stroke-linecap="butt"/>
<path d="M1636,17174l30,63 30,124 30,147 30,141 30,115 30,108 30,103 30,93 30,83 30,70 30,73 30,86 30,85 30,83 30,78 30,73 30,75 30,82 30,84 30,84 30,81 30,74 30,66 30,60 30,56 30,55 30,54 30,52 30,50 30,49 30,50 30,51 30,50 30,47 30,45 30,43 30,40 30,37 30,36 30,34 30,33 30,32 30,30 30,30 30,30 30,28 30,27 30,27 30,26 30,26 30,24 30,24 30,24 30,23 30,22 30,21 30,20 30,19 30,17 30,17 30,17 30,15 30,16 30,15 30,14 30,15 30,13 30,14 30,13 30,13 30,13 30,12 30,13 30,12 30,12 30,11 30,12 30,11 30,11 30,10 30,10 30,10 30,10 30,10 30,9 30,10 30,9 30,10 30,9 30,9 30,10 30,9 30,10 30,9 30,10 30,10 30,10 30,11 30,12 30,12 30,12 30,9 30,8 30,8 30,7 30,7 30,7 30,6 30,7 30,6 30,6 30,6 30,5 30,6 30,5 30,6 30,5 30,5 30,4 30,5 30,5 30,4 30,4 30,5 30,4 30,4 30,4 30,4 30,3 30,4 30,4 30,3 30,4 30,3 30,3 30,4 30,3 30,3 30,3 30,3 30,3 30,3 30,3 30,3 30,3 30,3 30,3 30,2 30,3 30,3 30,3 30,2 30,3 30,2 30,3 30,2 30,3 30,2 30,3 30,2 30,2 30,2 30,3 30,2 30,2 30,2 30,2 30,2 30,2 30,2 30,2 30,2 30,2 30,2 30,2 30,1 30,2 30,2 30,2 30,1 30,2 30,2 30,1 30,2 30,1 30,2 30,1 30,2 30,1 30,2 30,1 30,1 30,2 30,1 30,1 30,1 30,2 30,1 30,1 30,1 30,1 30,1 30,1 30,1 30,1 30,1 30,1 30,1 30,1 30,1 30,1 30,1 30,1 30,1 30,1 30,1 30,1 30,1 30,1 30,0 30,1 30,1 30,1 30,1 30,1 30,1 30,1 30,1 30,1 30,1 30,1 30,2 30,1 30,1 30,1 30,1 30,1 30,1 30,2 30,1 30,1 30,1 30,1 30,2 30,1 30,1 30,1 30,1 30,2 30,1 30,1 30,1 30,1 30,2 30,1 30,1 30,1 30,2 30,1 30,1 30,1 30,2 30,1 30,1 30,1 30,2 30,1 30,1 30,2 30,1 30,1 30,1 30,2 30,1 30,1 30,2 30,1 30,1 30,1 30,2 30,1 30,1 30,1 30,2 30,1" stroke="#000" stroke-width="62" stroke-dasharray="62 102" stroke-linecap="butt"/>
</g></g>
<rect x="142.7" y="1692.1" width="873.5" height="496.9" fill="none" stroke="#000" stroke-width="2.1" stroke-linejoin="miter"/>
<path d="M142.7,2169.1 H128.1 M142.7,2083.3 H128.1 M142.7,1997.5 H128.1 M142.7,1911.7 H128.1 M142.7,1825.9 H128.1 M142.7,1740.1 H128.1 M163.6,2189.0 V2203.6 M371.6,2189.0 V2203.6 M579.6,2189.0 V2203.6 M787.6,2189.0 V2203.6 M995.6,2189.0 V2203.6" stroke="#000" stroke-width="2.8" fill="none"/>
<g font-family="'Liberation Sans', Arial, sans-serif" font-size="29.3" fill="#000">
<text x="113.7" y="2179.5" text-anchor="end">0.0</text>
<text x="113.7" y="2093.7" text-anchor="end">0.2</text>
<text x="113.7" y="2007.9" text-anchor="end">0.4</text>
<text x="113.7" y="1922.1" text-anchor="end">0.6</text>
<text x="113.7" y="1836.3" text-anchor="end">0.8</text>
<text x="113.7" y="1750.5" text-anchor="end">1.0</text>
<text x="163.6" y="2239.3" text-anchor="middle">0</text>
<text x="371.6" y="2239.3" text-anchor="middle">1</text>
<text x="579.6" y="2239.3" text-anchor="middle">2</text>
<text x="787.6" y="2239.3" text-anchor="middle">3</text>
<text x="995.6" y="2239.3" text-anchor="middle">4</text>
<text x="579.5" y="2282.8" text-anchor="middle">Time (ns)</text>
<text transform="translate(50.4,1940.5) rotate(-90)" text-anchor="middle">Normalized intensity</text>
<text x="237.8" y="2149.5">240K</text>
</g>
<text x="-0.7" y="1662.0" font-family="'Liberation Sans', Arial, sans-serif" font-weight="bold" font-size="33" fill="#000">d</text>
<rect x="664.3" y="1706.7" width="336.9" height="150.5" rx="4.5" ry="4.5" fill="#fff" fill-opacity="0.8" stroke="#cccccc" stroke-width="2.8"/>
<path d="M674.8,1735.4 H733.1" stroke="#6f4ab8" stroke-opacity="0.72" stroke-width="6.3" stroke-linecap="square"/>
<text font-family="'DejaVu Sans', sans-serif" fill="#000"><tspan x="755.30" y="1742.70" font-size="29.3">1</tspan><tspan x="773.91" y="1742.70" font-size="29.3">.</tspan><tspan x="783.21" y="1742.70" font-size="29.3">4</tspan><tspan x="807.52" y="1742.70" font-size="29.3">×</tspan><tspan x="837.72" y="1742.70" font-size="29.3">1</tspan><tspan x="856.33" y="1742.70" font-size="29.3">0</tspan><tspan x="875.22" y="1731.60" font-size="20.51">1</tspan><tspan x="888.25" y="1731.60" font-size="20.51">4</tspan><tspan x="957.49" y="1731.60" font-size="20.51">−</tspan><tspan x="974.64" y="1731.60" font-size="20.51">3</tspan><tspan x="911.56" y="1742.70" font-size="29.3" font-style="oblique">c</tspan><tspan x="927.65" y="1742.70" font-size="29.3" font-style="oblique">m</tspan></text>
<path d="M674.8,1783.2 H733.1" stroke="#d27895" stroke-opacity="0.72" stroke-width="6.3" stroke-linecap="square"/>
<text font-family="'DejaVu Sans', sans-serif" fill="#000"><tspan x="755.30" y="1790.50" font-size="29.3">3</tspan><tspan x="773.91" y="1790.50" font-size="29.3">.</tspan><tspan x="783.21" y="1790.50" font-size="29.3">1</tspan><tspan x="807.52" y="1790.50" font-size="29.3">×</tspan><tspan x="837.72" y="1790.50" font-size="29.3">1</tspan><tspan x="856.33" y="1790.50" font-size="29.3">0</tspan><tspan x="875.22" y="1779.40" font-size="20.51">1</tspan><tspan x="888.25" y="1779.40" font-size="20.51">5</tspan><tspan x="957.49" y="1779.40" font-size="20.51">−</tspan><tspan x="974.64" y="1779.40" font-size="20.51">3</tspan><tspan x="911.56" y="1790.50" font-size="29.3" font-style="oblique">c</tspan><tspan x="927.65" y="1790.50" font-size="29.3" font-style="oblique">m</tspan></text>
<path d="M674.8,1831.0 H733.1" stroke="#f8d466" stroke-opacity="0.72" stroke-width="6.3" stroke-linecap="square"/>
<text font-family="'DejaVu Sans', sans-serif" fill="#000"><tspan x="755.30" y="1838.30" font-size="29.3">1</tspan><tspan x="773.91" y="1838.30" font-size="29.3">.</tspan><tspan x="782.46" y="1838.30" font-size="29.3">8</tspan><tspan x="806.77" y="1838.30" font-size="29.3">×</tspan><tspan x="836.97" y="1838.30" font-size="29.3">1</tspan><tspan x="855.58" y="1838.30" font-size="29.3">0</tspan><tspan x="874.47" y="1827.20" font-size="20.51">1</tspan><tspan x="887.50" y="1827.20" font-size="20.51">6</tspan><tspan x="956.74" y="1827.20" font-size="20.51">−</tspan><tspan x="973.89" y="1827.20" font-size="20.51">3</tspan><tspan x="910.81" y="1838.30" font-size="29.3" font-style="oblique">c</tspan><tspan x="926.90" y="1838.30" font-size="29.3" font-style="oblique">m</tspan></text>
</g>
<g id="panel-e">
<g clip-path="url(#clipe)"><g transform="scale(0.1)" fill="none" stroke-linejoin="round" stroke-linecap="square">
<path d="M12460,954l7-149 7,98 7-63 7-26 7,34 7-66 7,91 7-15 7,81 7-213 7,166 7,23 7-75 7,138 7-20 7,65 7-39 7,41 7-47 7,59 7,46 7-4 7,4 7,41 7-79 7,33 7,50 7,103 7-95 7,133 7-77 7,27 7,58 7,33 7,8 7-159 7,163 7,11 7-61 7,48 7-28 7,158 7,3 7-266 7,226 7,29 7-14 7-38 7,152 7-75 7,36 7-26 7,48 7,60 7,37 7,112 7-194 7,164 7-52 7-112 7,140 7-50 7,63 7-42 7,53 7,46 7-99 7,111 7,78 7-47 7-38 7,113 7-100 7,15 7-66 7,177 7-63 7,150 7-60 7-18 7-5 7,40 7,15 7,43 7,3 7-31 7-2 7,9 7-8 7,2 7,184 7-60 7-8 7,40 7-84 7,30 7,61 7,0 7-52 7,104 7,10 7-56 7,37 7-41 7,71 7-9 7,84 7,34 7-40 7,159 7-158 7-19 7,62 7,29 7-60 7,75 7-44 7-54 7,93 7,1 7,36 7,25 7,11 7,23 7-43 7,157 7-61 7-38 7,92 7-29 7,43 7-49 7-11 7-20 7,61 7,75 7-40 7-6 7-33 7,197 7-121 7,125 7-122 7,25 7,8 7-10 7,36 7,64 7-41 7-33 7,77 7,3 7,74 7-111 7,95 7,22 7-5 7,30 7-21 7-67 7,34 7-22 7,7 7,129 7-59 7-41 7-30 7,194 7,10 7-84 7,49 7,42 7-58 7,67 7,82 7-101 7,2 7-16 7-6 7,47 7,29 7,30 7,57 7-49 7-61 7,26 7-58 7,115 7,87 7-116 7-1 7,114 7,30 7-76 7-18 7,96 7-28 7,29 7,27 7,15 7-60 7,32 7,23 7,99 7-196 7,134 7-29 7,54 7-62 7,95 7-66 7,21 7-43 7,100 7-12 7-12 7-99 7,171 7-73 7,51 7-37 7-8 7,31 7,2 7,6 7,47 7-10 7,72 7-51 7,25 7-16 7-37 7,23 7,3 7-21 7,162 7-118 7,28 7,10 7,60 7-75 7-19 7,12 7,56 7-25 7-5 7-32 7,33 7,54 7,9 7,4 7,4 7,38 7-48 7,70 7,12 7-43 7,46 7-7 7,85 7-116 7,41 7,12 7-19 7,17 7,45 7-107 7,110 7-54 7-29 7,109 7-24 7,44 7-71 7,63 7,38 7-94 7,22 7,81 7-80 7,47 7-98 7,47 7,99 7-7 7,31 7-36 7,9 7-22 7,31 7,69 7-21 7-85 7,16 7,58 7,4 7,7 7-3 7,74 7-98 7,67 7-27 7,111 7-104 7-39 7,146 7-143 7,46 7,53 7,38 7-103 7,40 7-8 7,39 7,25 7-60 7,76 7-68 7,105 7-24 7,25 7-102 7,122 7-19 7-64 7,21 7-71 7,18 7,52 7,1 7,101 7-32 7-17 7-1 7,50 7-13 7,2 7-68 7,28 7,33 7,2 7-17 7,42 7-12 7,58 7-85 7-6 7,26 7,0 7,9 7-58 7,72 7,61 7-6 7-61 7-9 7,15 7,2 7,28 7,65 7-24 7,44 7-47 7,39 7-49 7,14 7,69 7-93 7,3 7,81 7-51 7-16 7,40 7-37 7,28 7-28 7,36 7,17 7-20 7-6 7,23 7,29 7,16 7-11 7,11 7-24 7,5 7,13 7,1 7-2 7-45 7,16 7,66 7-31 7,30 7-4 7,8 7,17 7,29 7,42 7-89 7-30 7,76 7-45 7,34 7-19 7,41 7-17 7,0 7,81 7-85 7,15 7,83 7-102 7,26 7-4 7-2 7,29 7,26 7-18 7,3 7-86 7,16 7,82 7,0 7-21 7-5 7,45 7,14 7-94 7,32 7,89 7,10 7-28 7-31 7-8 7,33 7,44 7-57 7-9 7,22 7,19 7-32 7,24 7,37 7-37 7,48 7-70 7,19 7,50 7-37 7-30 7,112 7-62 7-55 7,105 7-41 7,43 7-41 7,77 7-22 7-33 7-19 7-5 7,1 7-20 7,17 7,1 7,57 7-24 7-103 7,32 7,48 7,5 7-6 7,47 7-72 7,75 7-6 7-69 7,136 7-74 7,67 7-31 7-15 7,10 7-14 7,31 7-18 7,36 7-23 7,33 7-61 7,63 7-59 7,36 7-1 7-44 7,35 7,64 7-71 7,106 7-95 7,23 7,32 7-43 7,14 7-68 7,76 7-70 7,19 7,62 7,9 7-63 7,46 7-7 7,15 7,30 7-23 7,20 7,19 7-35 7-61 7,7 7,53 7-4 7-10 7-23 7,33 7,26 7-1 7-43 7-42 7,97 7,44 7-82 7,28 7-5 7-30 7,36 7,43 7,20 7-54 7,34 7-40 7,47 7-25 7,35 7-31 7,4 7-28 7-20 7,46 7,21 7-79 7,48 7-6 7,2 7-23 7,15 7,11 7,0 7,48 7-6 7-12 7-4 7,4 7-7 7,10 7,14 7,36 7-68 7,9 7,43 7-37 7,4 7,11 7,55 7-16 7-15 7-61 7,71 7-12 7,23 7-16 7-22 7,69 7,23 7-96 7,19 7,20 7-42 7,1 7,86 7-51 7-34 7,51 7-9 7-33 7,35 7,27 7-12 7,19 7-50 7,64 7-73 7,73 7-44 7,42 7-29 7-35 7-1 7-3 7,39 7-4 7-2 7-9 7,29 7-39 7,22 7-20 7,19 7-4 7,39 7-7 7,25 7-25 7-2 7-25 7,56 7-117 7,90 7-35 7,7 7,95 7-58 7-44 7,104 7-83 7,46 7-11 7-16 7,55 7-52 7,23 7,4 7-36 7-71 7,83 7-4 7,17 7,18 7-24 7-31 7,36 7-17 7,30 7-69 7,108 7-56 7,2 7,9 7,36 7,2 7-22 7-7 7,34 7-2 7-40 7-11 7,42 7,4 7,2 7-79 7,51 7,15 7-25 7-31 7,29 7,66 7-33 7,10 7-1 7,23 7-19 7,18 7-34 7,8 7,37 7,9 7-30 7-26 7,5 7,15 7,80 7-68 7,7 7-8 7,22 7-18 7,7 7-81 7,50 7,22 7-2 7,3 7-7 7,16 7-9 7-24 7,6 7,14 7-24 7,28 7,30 7,19 7-24 7-14 7-10 7-16 7,41 7,6 7-36 7-9 7,40 7-18 7-24 7,26 7,10 7,49 7-80 7,17 7,13 7,15 7,19 7-26 7,2 7-28 7,55 7-61 7,34 7-26 7,51 7-30 7-19 7,27 7,37 7-25 7-20 7,46 7,2 7-38 7,28 7-36 7,43 7,16 7-23 7-51 7,54 7-18 7-5 7,28 7-46 7,22 7-5 7,49 7,2 7,23 7-57 7,2 7-21 7-16 7,40 7,1 7-15 7-24 7,54 7-32 7,21 7,2 7-24 7,36 7,7 7-38 7,16 7,7 7-3 7-13 7,20 7-24 7,8 7-22 7,5 7,10 7,24 7-6 7,16 7-74 7,68 7-17 7-16 7,60 7-11 7-9 7,14 7,6 7-15 7-39 7,13 7,16 7,1 7,37 7-50 7,7 7,33 7-27 7,9 7,8 7,10 7-6 7,7 7-30 7,3 7,2 7,11 7,6 7-52 7,84 7-64 7,18 7,7 7,13 7-6 7,21 7,5 7-26 7,33 7-52 7-5 7,96 7-39 7-37 7,2 7,2 7-5 7-7 7-1 7-19 7,37 7-16 7,52 7-31 7,24 7-54 7-19 7,38 7,39 7-24 7-3 7-3 7-17 7,3 7,75 7-82 7,38 7,2 7-40 7,35 7,24 7-1 7-28 7-16 7-12 7,35 7,6 7-42 7,43 7-38 7,25 7,1 7,10 7-10 7,15 7,5 7-10 7,11 7-19 7,5 7,7 7,0 7,1 7-39 7,35 7,13 7-6 7-19 7,18 7,0 7,2 7-8 7-4 7,0 7,41 7-10 7,31 7-67 7-6 7-3 7,23 7-19 7,23 7,2 7,29 7-15 7-3 7-29 7-14 7,42 7-16 7,2 7,21 7,19 7-18 7,13 7-21 7-3 7,1 7,0 7-12 7,28 7-35 7,50 7-33 7-6 7,23 7,16 7-43 7,26 7-28 7,1 7,15 7,0 7-18 7,12 7,25 7-20 7-7 7,7 7,0 7,7 7,0 7,16 7,10 7-49 7,34 7-16 7,34 7-32 7,19 7-71 7,76 7-1 7-36 7-3 7,62 7-45 7-11 7,40 7-36 7,24 7,9 7-12 7,2 7,18 7-68 7,51 7,6 7-30 7,18 7-26 7,30 7-11 7,5 7-1 7,8 7-2 7-33 7,44 7-2 7-3 7-17 7,4 7-10 7,42 7-29 7,9 7,2 7-8 7,39 7-41 7,3 7,29 7-24 7-30 7,36 7-18 7,16 7,11 7,2 7-9 7-31 7,9 7,28 7-30 7,20 7,11 7-20 7,24 7,13 7-52 7,57 7-43 7,38 7-27 7,3 7,5 7,32 7-37 7-1 7,15 7-14 7-19 7,31 7-17 7,25 7-27 7-4 7-33 7,28 7,9 7-17 7,43 7-36 7,29 7,1 7-30 7,16 7-20 7,50 7-30 7,14 7-4 7,29 7-50 7,13 7,21 7,7 7-8 7-40 7,27 7,4 7-14 7,8 7-3 7-9 7,7 7-9 7,37 7-22 7,7 7-7 7,2 7,11 7-5 7-22 7,26 7,12 7-31 7-7 7,22 7-7 7,17 7-11 7-22 7,5 7,12 7,8 7,23 7-33 7-3 7-10 7-16 7,29 7-10 7,36 7-40 7,6 7-8 7,12 7,4 7-18 7,37 7-22 7-7 7,32 7,6 7-27 7,6 7-8 7-1 7,25 7-19 7-13 7,25 7-1 7,14 7-32 7-20 7,57 7-36 7-2 7,25 7-3 7,11 7-4 7-16 7-8 7,9 7-12 7,11 7,24 7-45 7,5 7,32" stroke="#6f4ab8" stroke-opacity="0.72" stroke-width="63"/>
<path d="M12460,954l7-18 7-22 7-19 7,2 7-19 7,17 7,5 7-16 7,32 7,16 7,18 7,14 7,8 7,43 7-16 7,12 7,28 7,49 7,40 7,2 7,12 7,10 7,40 7,24 7-9 7,60 7-7 7,24 7,60 7-6 7,36 7,27 7,36 7,15 7-14 7,32 7,8 7,40 7,6 7,17 7,39 7,20 7-16 7,24 7,37 7,6 7,6 7,0 7,64 7-7 7-6 7,51 7-5 7,83 7-49 7,40 7,47 7-26 7,12 7,14 7,16 7,35 7,27 7,11 7,9 7,8 7,30 7,7 7,3 7,25 7-15 7,18 7,68 7,7 7,28 7,13 7-10 7,39 7,17 7,3 7-1 7,33 7,16 7-5 7,22 7,15 7,8 7,44 7-5 7,27 7-11 7,17 7,42 7-23 7,52 7-22 7,28 7,29 7,17 7,1 7,9 7,24 7-6 7,42 7-8 7,13 7,40 7-19 7,36 7,31 7-16 7,7 7-4 7,33 7-16 7,13 7,17 7,9 7,27 7,26 7-5 7,7 7,23 7,20 7,31 7-20 7,17 7,37 7-8 7,3 7,25 7-1 7,13 7,45 7-5 7,2 7,6 7,6 7,60 7-14 7,2 7,5 7,6 7,50 7,5 7,22 7-14 7,42 7-22 7,16 7,18 7,49 7-9 7-7 7,41 7-4 7,10 7-3 7,20 7,11 7,21 7,5 7,12 7-1 7,23 7-6 7,48 7-29 7,29 7-8 7,25 7-1 7,2 7,37 7,1 7,13 7,5 7,34 7-10 7,10 7,17 7,1 7,27 7-30 7,22 7-10 7,45 7,13 7-11 7,35 7-17 7,21 7,3 7,1 7,11 7-16 7,25 7,33 7-22 7,38 7-11 7,25 7,2 7-20 7,32 7,8 7,7 7,4 7-15 7,41 7,8 7-16 7,35 7-9 7-12 7,22 7,13 7,10 7,10 7,3 7-2 7-7 7,11 7,26 7,9 7-10 7,38 7-10 7,6 7,17 7,6 7-10 7,32 7-2 7,4 7-2 7,25 7-24 7,24 7,7 7,8 7,11 7,10 7-19 7,18 7,11 7-7 7,28 7-10 7,14 7,17 7-13 7,33 7-19 7,25 7-10 7-5 7,16 7,20 7-1 7,10 7,15 7,6 7-8 7,0 7,33 7-15 7-1 7,11 7,18 7-18 7,32 7-16 7-6 7,48 7-21 7,5 7,6 7,17 7,0 7,18 7-13 7,1 7,19 7,8 7,0 7-1 7,5 7,6 7,3 7,21 7,21 7-33 7-5 7,37 7-4 7-6 7-3 7,8 7-2 7,19 7,0 7,4 7,14 7-14 7,11 7,0 7,19 7-11 7,27 7-12 7,38 7-14 7-16 7,18 7-3 7,24 7-32 7,15 7,11 7-1 7,4 7-8 7,17 7,23 7-10 7-13 7,12 7,14 7-7 7,9 7-2 7,28 7-4 7-13 7,13 7-2 7-14 7,29 7-3 7,13 7,4 7-2 7,18 7,11 7-34 7,20 7-10 7,15 7,3 7-2 7,3 7,24 7-22 7,27 7-9 7-21 7,30 7-14 7,25 7-6 7,9 7,0 7,16 7,4 7-9 7,23 7-4 7-12 7,16 7,6 7,6 7-10 7,8 7-2 7,7 7-18 7,27 7,19 7-19 7,5 7,1 7,21 7-25 7,15 7,3 7,19 7-19 7,9 7-12 7,21 7,11 7-11 7,14 7-11 7,18 7-7 7,4 7,0 7,8 7,5 7-4 7,7 7-4 7,7 7,22 7-19 7-12 7,13 7,0 7,4 7,11 7,11 7-18 7,0 7,7 7,4 7,3 7,6 7,0 7,5 7-1 7,15 7-1 7-9 7,11 7,23 7-23 7,26 7-38 7,14 7,2 7,16 7,7 7-7 7,0 7,10 7-7 7-3 7,3 7,18 7,13 7-18 7,8 7-8 7-10 7,2 7,15 7-6 7-3 7,17 7,0 7-3 7,10 7,6 7,4 7-5 7,8 7-11 7,12 7-15 7,4 7,25 7-20 7,16 7-15 7,10 7,7 7-5 7,13 7-7 7,1 7,7 7-3 7,14 7-12 7,18 7-16 7,3 7,0 7,13 7-31 7,31 7-2 7,10 7-18 7,19 7-12 7,19 7-10 7,8 7-10 7,12 7,7 7-10 7,16 7-1 7-14 7,25 7-22 7,12 7,6 7-9 7-2 7,13 7-3 7-7 7,2 7,8 7,8 7,3 7-2 7-9 7,2 7,4 7-9 7,17 7,2 7,1 7-19 7,37 7-20 7,0 7,5 7-18 7,11 7,5 7,16 7-11 7,9 7-2 7,0 7,7 7-9 7-7 7,7 7,8 7,20 7-25 7,1 7,13 7,3 7-8 7,14 7-13 7,18 7,0 7-7 7,14 7-11 7-4 7,17 7-18 7,14 7-8 7,4 7,7 7,2 7,11 7-7 7,2 7-19 7,6 7,22 7-17 7,6 7,6 7-6 7-1 7,13 7-2 7-2 7,11 7-9 7,4 7,6 7,2 7-8 7-3 7,5 7,12 7-13 7,6 7-2 7-3 7,18 7-5 7,5 7,3 7-22 7,10 7,23 7-16 7,9 7-13 7,10 7,3 7-1 7-1 7,4 7,3 7,1 7-4 7,14 7-8 7,3 7,4 7-9 7,18 7-7 7,5 7-10 7,10 7-3 7-2 7,17 7-15 7,11 7-3 7,0 7-7 7,2 7-7 7,14 7,6 7,2 7-9 7-6 7,11 7,9 7-6 7,1 7,3 7,7 7,16 7-15 7-12 7,8 7,20 7-16 7,16 7-30 7,16 7,12 7-15 7,13 7-9 7,5 7,11 7-14 7,17 7-20 7,11 7,9 7,8 7-26 7,2 7,22 7-21 7,12 7,4 7,0 7,2 7-12 7,11 7,17 7-30 7,10 7,17 7-5 7,5 7-6 7-2 7,2 7,7 7,3 7-12 7,8 7-17 7,25 7-12 7,7 7,7 7-15 7,10 7,9 7-4 7-9 7,18 7-19 7,6 7,8 7-12 7-2 7,10 7,4 7-12 7,4 7,19 7-5 7,1 7,2 7,9 7-17 7,7 7,1 7-9 7,15 7-3 7-1 7,6 7-2 7-6 7,7 7-9 7,16 7-6 7,13 7-10 7,6 7-15 7,5 7,3 7-10 7,4 7,6 7,12 7,6 7-10 7,3 7,3 7-2 7,11 7-23 7,20 7-2 7-9 7,17 7-18 7,0 7,10 7,7 7-4 7,11 7-24 7,11 7,6 7,2 7-10 7-7 7,22 7-5 7,9 7-17 7,4 7-15 7,19 7,3 7,2 7-11 7,19 7-17 7,4 7,7 7,3 7-14 7-5 7,17 7-6 7-9 7,18 7-2 7,8 7-8 7,0 7,3 7,3 7,7 7-1 7-2 7-12 7,9 7,3 7-10 7,1 7,10 7,0 7-9 7,2 7,10 7-8 7,3 7-8 7,15 7-12 7,3 7,11 7-14 7,1 7,17 7-24 7,24 7-1 7-4 7-8 7,2 7,5 7-10 7,8 7-7 7-10 7,20 7,20 7-15 7,5 7-8 7,0 7,11 7-1 7-6 7,0 7,18 7-25 7,7 7,1 7-2 7,10 7-7 7-7 7,0 7,5 7,6 7,4 7-15 7,6 7,7 7,13 7-9 7,8 7-22 7,8 7,7 7-3 7-21 7,11 7,19 7-8 7,8 7,4 7-14 7-16 7,7 7,12 7,3 7-4 7-6 7,19 7,4 7-28 7,13 7-10 7,11 7-9 7,16 7-8 7-8 7,5 7,11 7-10 7,12 7,6 7-14 7-6 7,5 7,15 7-15 7,2 7,9 7,15 7-26 7,2 7,3 7,17 7-2 7-18 7,2 7,3 7,6 7-5 7,7 7-1 7,4 7-7 7,5 7-10 7,2 7,12 7-19 7,22 7-11 7-5 7-1 7,26 7-23 7-1 7-2 7,27 7-11 7-3 7,2 7-12 7,15 7-14 7,5 7,15 7-3 7-3 7-4 7-6 7,9 7-8 7,19 7,11 7-20 7-5 7,6 7,5 7-10 7-11 7,16 7,4 7,2 7-21 7,15 7-4 7-4 7,1 7,15 7-13 7,1 7,3 7-4 7,12 7-3 7,3 7-9 7,11 7-7 7,11 7-7 7,2 7-1 7-2 7,3 7,0 7,14 7-23 7,13 7-2 7,4 7-13 7,14 7-10 7-4 7-3 7,3 7,5 7,13 7-17 7,1 7,2 7,1 7,5 7,5 7-11 7-1 7,16 7-13 7,5 7-4 7,4 7-5 7,1 7,1 7,16 7-15 7,6 7,8 7-13 7,15 7-15 7-6 7,16 7-10 7,4 7-1 7,14 7-13 7,3 7-4 7,6 7-8 7,6 7-2 7-5 7,9 7-6 7,6 7-2 7,8 7-9 7-3 7,9 7-5 7,2 7,11 7-10 7-6 7,13 7,9 7-14 7,6 7-17 7,14 7,0 7,4 7-5 7,5 7,3 7-6 7,6 7-15 7,18 7-8 7,5 7,5 7-21 7,26 7-24 7,20 7-10 7-14 7,30 7-5 7-18 7,8 7,5 7-3 7,6 7-7 7-9 7,13 7-3 7-7 7-5 7,17 7-6 7,6 7,1 7-1 7,2 7,7 7,2 7-8 7-6 7-7 7,12 7-2 7-5 7-1 7,6 7,0 7-13 7,15 7,2 7,8 7-14 7,5 7-14 7,15 7-8 7,0 7-5 7,20 7-19 7,11 7,1 7,1 7,1 7,0 7,13 7-18 7,3 7,7 7-6 7-15 7,13 7,5 7-14 7,17 7-4 7,3 7-2 7-6 7,1 7,9 7-4 7-1 7,3 7-2 7,5 7,0 7-5 7,7 7-9 7,4 7,5 7-2 7,0 7-2 7-2 7,2 7,5 7-15 7,4 7,5 7-5 7,4 7,4 7-2 7-17 7,11 7,0 7,10" stroke="#d27895" stroke-opacity="0.72" stroke-width="63"/>
<path d="M12460,954l7-11 7-11 7-14 7,17 7,5 7,16 7,8 7,24 7,22 7,26 7,21 7,19 7,47 7,14 7,29 7,27 7,38 7,11 7,38 7,25 7,30 7,35 7,20 7,36 7,19 7,21 7,23 7,25 7,27 7,11 7,37 7,37 7,23 7,27 7,24 7,30 7,30 7,12 7,38 7,28 7,23 7,22 7,11 7,27 7,16 7,48 7-1 7,18 7,17 7,35 7,35 7,8 7,30 7,31 7,14 7,11 7,21 7,25 7,33 7-2 7,45 7,14 7,31 7,3 7,27 7,18 7,27 7,22 7,20 7,34 7,3 7,22 7,29 7,19 7,19 7,12 7,28 7,23 7,24 7,27 7,15 7,15 7,22 7,18 7,15 7,22 7,20 7,17 7,22 7,20 7,15 7,32 7-1 7,34 7,4 7,22 7,10 7,24 7,23 7,3 7,22 7,16 7,15 7,10 7,16 7,18 7,26 7,7 7,11 7,4 7,23 7,17 7,5 7,22 7,13 7,12 7,24 7-3 7,16 7,18 7,18 7,4 7,6 7,25 7,16 7,3 7,25 7,17 7,0 7,14 7,10 7,13 7,6 7,16 7,14 7,10 7,5 7,9 7,12 7,12 7,37 7-4 7,6 7,7 7,22 7-9 7,17 7,16 7,5 7,13 7,13 7,1 7,16 7,16 7,4 7,6 7,15 7-6 7,24 7-9 7,14 7,21 7,2 7,2 7,17 7,15 7,0 7-4 7,31 7-5 7,11 7,9 7,10 7,8 7-1 7,11 7,18 7-9 7,26 7-5 7,11 7,1 7,13 7,3 7,14 7,1 7,11 7-4 7,26 7-5 7,12 7,9 7,11 7,1 7,19 7,7 7-7 7,21 7-12 7,18 7,3 7,8 7,4 7,11 7,7 7,5 7-1 7,6 7,5 7,12 7,10 7,16 7-9 7,4 7,14 7-2 7,3 7,14 7-1 7,11 7,19 7-3 7,5 7,0 7,14 7,3 7,9 7-1 7,5 7-1 7,7 7,9 7,5 7,6 7,5 7-4 7,31 7-10 7,2 7-1 7,20 7-5 7,2 7,13 7,14 7-5 7,10 7-7 7,14 7-12 7,15 7,11 7,3 7,8 7-5 7-3 7,16 7-3 7,16 7-4 7-8 7,28 7-13 7,5 7,24 7,1 7,1 7-8 7,13 7,2 7-1 7,7 7,4 7,7 7-5 7,16 7-12 7,17 7,7 7-6 7,5 7,20 7-11 7,14 7,1 7-7 7,14 7-4 7,8 7-11 7,17 7,10 7,3 7,3 7-4 7,5 7-3 7,9 7,3 7,3 7,6 7,1 7,0 7,3 7,12 7,11 7-2 7-4 7,21 7-10 7-2 7,9 7,7 7-15 7,5 7,14 7-7 7,3 7,19 7-22 7,27 7-2 7,9 7-5 7,12 7-5 7-4 7,8 7,6 7-9 7,19 7-9 7,11 7-1 7,4 7,2 7,4 7,7 7,2 7-4 7,6 7,9 7,0 7,3 7-2 7,1 7,4 7,7 7-2 7,12 7,12 7-15 7,12 7-2 7,5 7-10 7,14 7-7 7,8 7,7 7,4 7-10 7,2 7,0 7-4 7,12 7,2 7,5 7,1 7,5 7,5 7-16 7,27 7-12 7,1 7,3 7,10 7-4 7,4 7,6 7-5 7,4 7,2 7-6 7,13 7-8 7,8 7-5 7,3 7,1 7,9 7,0 7,2 7-6 7-2 7-1 7,12 7-3 7,12 7,6 7-8 7,0 7,7 7,3 7-13 7,10 7,7 7-25 7,16 7,4 7-5 7,11 7-14 7,22 7-1 7-6 7,6 7-13 7,21 7-4 7-5 7-1 7-1 7,5 7-10 7,18 7-2 7-3 7,9 7,1 7,2 7,3 7,4 7-2 7,8 7-11 7,14 7-22 7,3 7,5 7,10 7,4 7-10 7,8 7-1 7,9 7-10 7,13 7-4 7,13 7-5 7-7 7,8 7,1 7-6 7,6 7-7 7,25 7-18 7,2 7,14 7,0 7-13 7,14 7-1 7-7 7,7 7-4 7,10 7-6 7-4 7,6 7,18 7-17 7,5 7,7 7-13 7,21 7-22 7,17 7-13 7,12 7,10 7-8 7-1 7,0 7-2 7,14 7-8 7,0 7,7 7,6 7,1 7-10 7,1 7,12 7,4 7-15 7,19 7-10 7,8 7,7 7-11 7,3 7-9 7-5 7,17 7-6 7,1 7,11 7,3 7-15 7,14 7-1 7,3 7,0 7,4 7-8 7-2 7,12 7,7 7-8 7,11 7-4 7-11 7-6 7,13 7,11 7-11 7,20 7-9 7-13 7,6 7,15 7,3 7-16 7,7 7,5 7-6 7,8 7,9 7-16 7,10 7,3 7,3 7-9 7,8 7-8 7,6 7-7 7,10 7,3 7,9 7-5 7-11 7-14 7,29 7-1 7-7 7,0 7,8 7-4 7,12 7-8 7-7 7-4 7,13 7,1 7-3 7-4 7,5 7,9 7-6 7-4 7,12 7,5 7-11 7,2 7-3 7,6 7,6 7-1 7,5 7,0 7-2 7,1 7-10 7,16 7-7 7,5 7-13 7,9 7,5 7-7 7,5 7,5 7-12 7,6 7-6 7,4 7,4 7,4 7,9 7-11 7,5 7-3 7,5 7,5 7,3 7-10 7-3 7,11 7-4 7-5 7,15 7-3 7,6 7-14 7,6 7,6 7,8 7-9 7-6 7,9 7,1 7-6 7,13 7-8 7-3 7,10 7,1 7-6 7,3 7,1 7-2 7,1 7,8 7-1 7-7 7-3 7-1 7,15 7-12 7,3 7,5 7-2 7-2 7-5 7,19 7-10 7,5 7,1 7-8 7,3 7,12 7-4 7-2 7,11 7-14 7,7 7-1 7-1 7-9 7,12 7,3 7-12 7,15 7,0 7,7 7-16 7,6 7-1 7,3 7,3 7,4 7,1 7-7 7,2 7-9 7,16 7-1 7,4 7-15 7,17 7-12 7-3 7,10 7-5 7,19 7-11 7,9 7-11 7,2 7,5 7-10 7,4 7,6 7,1 7,6 7-7 7-14 7,18 7-7 7,7 7-8 7,3 7,5 7,10 7-7 7-11 7,10 7-5 7,7 7,10 7-14 7,1 7,6 7-1 7-3 7,6 7-6 7,4 7,14 7-13 7,3 7,2 7-7 7,6 7-6 7-3 7,6 7,12 7-5 7-10 7,8 7,4 7-4 7-4 7,2 7-2 7,10 7-3 7,1 7-1 7,13 7-11 7,7 7-17 7,0 7-1 7,6 7,9 7-9 7,8 7-5 7,10 7-1 7-6 7-8 7,12 7-15 7-2 7,26 7-8 7,7 7-5 7,3 7-3 7-6 7,1 7,4 7,2 7,0 7,0 7-2 7,4 7-3 7,12 7-13 7-5 7,10 7,10 7-17 7,11 7,18 7-18 7-4 7,1 7-5 7,5 7,3 7,14 7-5 7-8 7-3 7,12 7-3 7-6 7,15 7,1 7-11 7-2 7,5 7,12 7-15 7,9 7-12 7,5 7-2 7-2 7,8 7-8 7-3 7,6 7-6 7,13 7-9 7,4 7,9 7-6 7,3 7,1 7-4 7-6 7,9 7-2 7,11 7-10 7-7 7,3 7,2 7,7 7,3 7-5 7,8 7,0 7-14 7,13 7-17 7,21 7-12 7,11 7-9 7,8 7-6 7,1 7,3 7-6 7-6 7,13 7-9 7,6 7,1 7-14 7,28 7-9 7,7 7-9 7,0 7-26 7,23 7-9 7,3 7,11 7-5 7-7 7,9 7,0 7-1 7,13 7-4 7-7 7-1 7,9 7-3 7-1 7,0 7-5 7,4 7,0 7,10 7-2 7-8 7,12 7-11 7,6 7,1 7-9 7,9 7,1 7-1 7-4 7-17 7,31 7-13 7,2 7-8 7,9 7,14 7-25 7,16 7-6 7,8 7-1 7-4 7-8 7,0 7,10 7-7 7,6 7-3 7,0 7-3 7,8 7-3 7-2 7,1 7,6 7-16 7,14 7-7 7,3 7-6 7,22 7-27 7,15 7,7 7-9 7-13 7,11 7,11 7-4 7-12 7,18 7-8 7,1 7-15 7,16 7-10 7,12 7,1 7-11 7,3 7,15 7-15 7,0 7,8 7-5 7,0 7,5 7,1 7,0 7-2 7,7 7-8 7,9 7-10 7,2 7,6 7-12 7-7 7,4 7,18 7-17 7,7 7,2 7,3 7-3 7-9 7,6 7,6 7,2 7-2 7-6 7-8 7,19 7-7 7,3 7,2 7-7 7-1 7,13 7-2 7-15 7,6 7-1 7,7 7-1 7-5 7,6 7,4 7-7 7-5 7,12 7-13 7,2 7,10 7-5 7,0 7-4 7,0 7,13 7,0 7-15 7,6 7-2 7,1 7-7 7,17 7-14 7,12 7-10 7-4 7,18 7-11 7,4 7,0 7-2 7,8 7-1 7-10 7-1 7,9 7,6 7-24 7,8 7,4 7,9 7-2 7-5 7,7 7-16 7,10 7-2 7,9 7,0 7-1 7-7 7,4 7,0 7-4 7,1 7-8 7,11 7,5 7-6 7-9 7,13 7-4 7,3 7-5 7,1 7,7 7-4 7-7 7-1 7,1 7,1 7,7 7,1 7-8 7,13 7-7 7,12 7-10 7,3 7,3 7-11 7,8 7-2 7-1 7,3 7-13 7,12 7-4 7,9 7-5 7-1 7,0 7,2 7-4 7-9 7,10 7,1 7,1 7-18 7,6 7,7 7-1 7,9 7-4 7-2 7,1 7,6 7,0 7-9 7,2 7,15 7-14 7-7 7,12 7-5 7,11 7-15 7,13 7,0 7-5 7-17 7,19 7,4 7-11 7,2 7-9 7,18 7,2 7-8 7-4 7,0 7-4 7,16 7-4 7-4 7-6 7,2 7,6 7,4 7-12 7-1 7-11 7,18 7-11 7,18 7-4 7,1" stroke="#f8d466" stroke-opacity="0.72" stroke-width="63"/>
<path d="M12460,739l7,14 7,15 7,15 7,15 7,15 7,15 7,16 7,15 7,16 7,16 7,16 7,16 7,16 7,16 7,16 7,16 7,17 7,16 7,16 7,17 7,17 7,16 7,17 7,16 7,17 7,17 7,16 7,17 7,17 7,18 7,18 7,18 7,18 7,18 7,18 7,17 7,16 7,15 7,14 7,14 7,13 7,13 7,13 7,13 7,14 7,14 7,15 7,15 7,16 7,17 7,18 7,17 7,18 7,17 7,17 7,16 7,16 7,15 7,14 7,14 7,14 7,13 7,13 7,14 7,13 7,14 7,13 7,14 7,14 7,15 7,14 7,14 7,14 7,14 7,14 7,14 7,14 7,14 7,13 7,13 7,14 7,13 7,13 7,13 7,13 7,12 7,13 7,13 7,13 7,13 7,13 7,13 7,13 7,13 7,12 7,13 7,13 7,12 7,13 7,13 7,12 7,12 7,12 7,12 7,12 7,12 7,12 7,12 7,12 7,12 7,12 7,12 7,12 7,12 7,12 7,12 7,12 7,12 7,12 7,12 7,12 7,12 7,12 7,11 7,12 7,11 7,11 7,11 7,11 7,11 7,10 7,11 7,11 7,10 7,11 7,10 7,11 7,10 7,10 7,11 7,10 7,10 7,10 7,10 7,10 7,10 7,9 7,10 7,10 7,10 7,9 7,10 7,9 7,10 7,9 7,10 7,9 7,9 7,9 7,10 7,9 7,9 7,9 7,9 7,9 7,9 7,9 7,9 7,9 7,9 7,9 7,9 7,9 7,8 7,9 7,9 7,9 7,8 7,9 7,9 7,8 7,9 7,8 7,9 7,8 7,9 7,8 7,9 7,8 7,9 7,8 7,8 7,8 7,9 7,8 7,8 7,8 7,8 7,8 7,8 7,8 7,8 7,8 7,8 7,8 7,7 7,8 7,8 7,7 7,8 7,7 7,8 7,7 7,8 7,7 7,7 7,8 7,7 7,7 7,7 7,7 7,8 7,7 7,7 7,7 7,7 7,6 7,7 7,7 7,7 7,7 7,7 7,7 7,6 7,7 7,7 7,7 7,7 7,6 7,7 7,7 7,6 7,7 7,7 7,7 7,6 7,7 7,7 7,6 7,7 7,7 7,7 7,6 7,7 7,7 7,6 7,7 7,7 7,6 7,7 7,6 7,7 7,6 7,7 7,6 7,6 7,7 7,6 7,6 7,7 7,6 7,6 7,6 7,6 7,6 7,6 7,6 7,6 7,5 7,6 7,6 7,5 7,6 7,5 7,6 7,5 7,6 7,5 7,6 7,5 7,5 7,6 7,5 7,5 7,5 7,5 7,6 7,5 7,5 7,5 7,5 7,5 7,5 7,5 7,5 7,5 7,5 7,4 7,5 7,5 7,5 7,5 7,5 7,4 7,5 7,5 7,5 7,4 7,5 7,5 7,4 7,5 7,5 7,4 7,5 7,4 7,5 7,4 7,5 7,4 7,5 7,4 7,4 7,5 7,4 7,4 7,5 7,4 7,4 7,5 7,4 7,4 7,4 7,5 7,4 7,4 7,4 7,5 7,4 7,4 7,4 7,4 7,4 7,5 7,4 7,4 7,4 7,4 7,4 7,5 7,4 7,4 7,4 7,4 7,4 7,4 7,4 7,4 7,5 7,4 7,4 7,4 7,4 7,4 7,4 7,4 7,4 7,4 7,4 7,4 7,4 7,4 7,3 7,4 7,4 7,4 7,4 7,4 7,4 7,3 7,4 7,4 7,4 7,3 7,4 7,4 7,3 7,4 7,4 7,3 7,4 7,4 7,3 7,4 7,3 7,4 7,3 7,4 7,4 7,3 7,4 7,3 7,4 7,3 7,4 7,3 7,3 7,4 7,3 7,4 7,3 7,3 7,4 7,3 7,3 7,4 7,3 7,3 7,3 7,3 7,4 7,3 7,3 7,3 7,3 7,3 7,3 7,3 7,3 7,3 7,3 7,3 7,3 7,3 7,2 7,3 7,3 7,3 7,3 7,3 7,2 7,3 7,3 7,3 7,2 7,3 7,3 7,2 7,3 7,3 7,2 7,3 7,2 7,3 7,2 7,3 7,3 7,2 7,3 7,2 7,3 7,2 7,3 7,2 7,2 7,3 7,2 7,3 7,2 7,3 7,2 7,2 7,3 7,2 7,2 7,3 7,2 7,2 7,3 7,2 7,2 7,2 7,3 7,2 7,2 7,2 7,3 7,2 7,2 7,2 7,2 7,2 7,3 7,2 7,2 7,2 7,2 7,2 7,2 7,3 7,2 7,2 7,2 7,2 7,2 7,2 7,2 7,2 7,2 7,2 7,2 7,2 7,2 7,2 7,2 7,2 7,2 7,2 7,2 7,2 7,2 7,2 7,2 7,2 7,2 7,2 7,2 7,2 7,2 7,2 7,1 7,2 7,2 7,2 7,2 7,2 7,2 7,2 7,2 7,1 7,2 7,2 7,2 7,2 7,2 7,1 7,2 7,2 7,2 7,2 7,2 7,1 7,2 7,2 7,2 7,1 7,2 7,2 7,2 7,2 7,1 7,2 7,2 7,1 7,2 7,2 7,2 7,1 7,2 7,2 7,1 7,2 7,2 7,2 7,1 7,2 7,2 7,1 7,2 7,2 7,1 7,2 7,1 7,2 7,2 7,1 7,2 7,2 7,1 7,2 7,1 7,2 7,1 7,2 7,2 7,1 7,2 7,1 7,2 7,1 7,2 7,1 7,2 7,2 7,1 7,2 7,1 7,2 7,1 7,2 7,1 7,2 7,1 7,1 7,2 7,1 7,2 7,1 7,2 7,1 7,2 7,1 7,1 7,2 7,1 7,2 7,1 7,2 7,1 7,1 7,2 7,1 7,1 7,2 7,1 7,2 7,1 7,1 7,2 7,1 7,1 7,2 7,1 7,1 7,1 7,2 7,1 7,1 7,2 7,1 7,1 7,2 7,1 7,1 7,1 7,2 7,1 7,1 7,1 7,2 7,1 7,1 7,1 7,1 7,2 7,1 7,1 7,1 7,1 7,2 7,1 7,1 7,1 7,1 7,1 7,2 7,1 7,1 7,1 7,1 7,1 7,1 7,2 7,1 7,1 7,1 7,1 7,1 7,1 7,1 7,1 7,1 7,2 7,1 7,1 7,1 7,1 7,1 7,1 7,1 7,1 7,1 7,1 7,1 7,1 7,1 7,1 7,1 7,1 7,1 7,1 7,1 7,1 7,1 7,1 7,1 7,1 7,1 7,1 7,1 7,1 7,1 7,1 7,1 7,1 7,1 7,0 7,1 7,1 7,1 7,1 7,1 7,1 7,1 7,1 7,1 7,1 7,0 7,1 7,1 7,1 7,1 7,1 7,1 7,1 7,1 7,0 7,1 7,1 7,1 7,1 7,1 7,1 7,0 7,1 7,1 7,1 7,1 7,1 7,1 7,0 7,1 7,1 7,1 7,1 7,1 7,0 7,1 7,1 7,1 7,1 7,0 7,1 7,1 7,1 7,1 7,0 7,1 7,1 7,1 7,1 7,0 7,1 7,1 7,1 7,0 7,1 7,1 7,1 7,1 7,0 7,1 7,1 7,1 7,0 7,1 7,1 7,0 7,1 7,1 7,1 7,0 7,1 7,1 7,1 7,0 7,1 7,1 7,0 7,1 7,1 7,0 7,1 7,1 7,1 7,0 7,1 7,1 7,0 7,1 7,1 7,0 7,1 7,1 7,0 7,1 7,1 7,0 7,1 7,1 7,0 7,1 7,0 7,1 7,1 7,0 7,1 7,1 7,0 7,1 7,0 7,1 7,1 7,0 7,1 7,0 7,1 7,1 7,0 7,1 7,0 7,1 7,1 7,0 7,1 7,0 7,1 7,0 7,1 7,1 7,0 7,1 7,0 7,1 7,0 7,1 7,0 7,1 7,1 7,0 7,1 7,0 7,1 7,0 7,1 7,0 7,1 7,0 7,1 7,0 7,1 7,0 7,1 7,0 7,1 7,0 7,1 7,0 7,1 7,0 7,1 7,0 7,1 7,0 7,0 7,1 7,0 7,1 7,0 7,1 7,0 7,1 7,0 7,1 7,0 7,0 7,1 7,0 7,1 7,0 7,1 7,0 7,0 7,1 7,0 7,1 7,0 7,0 7,1 7,0 7,1 7,0 7,0 7,1 7,0 7,1 7,0 7,0 7,1 7,0 7,0 7,1 7,0 7,1 7,0 7,0 7,1 7,0 7,1 7,0 7,0 7,1 7,0 7,0 7,1 7,0 7,0 7,1 7,0 7,1 7,0 7,0 7,1 7,0 7,0 7,1 7,0 7,0 7,1 7,0 7,0 7,1 7,0 7,0 7,1 7,0 7,1 7,0 7,0 7,1 7,0 7,0 7,1 7,0 7,0 7,1 7,0 7,0 7,0 7,1 7,0 7,0 7,1 7,0 7,0 7,1 7,0 7,0 7,1 7,0 7,0 7,1 7,0 7,0 7,1 7,0 7,0 7,0 7,1 7,0 7,0 7,1 7,0 7,0 7,1 7,0 7,0 7,0 7,1 7,0 7,0 7,1 7,0 7,0 7,0 7,1 7,0 7,0 7,0 7,1 7,0 7,0 7,1 7,0 7,0 7,0 7,1 7,0 7,0 7,0 7,1 7,0 7,0 7,1 7,0 7,0 7,0 7,1 7,0 7,0 7,0 7,1 7,0 7,0 7,0 7,1 7,0 7,0 7,0 7,1 7,0 7,0 7,0 7,0 7,1 7,0 7,0 7,0 7,1 7,0 7,0 7,0 7,1 7,0 7,0 7,0 7,0 7,1 7,0 7,0 7,0 7,1 7,0 7,0 7,0 7,0 7,1 7,0 7,0 7,0 7,1 7,0 7,0 7,0 7,0 7,1 7,0 7,0 7,0 7,0 7,1 7,0 7,0 7,0 7,0 7,1 7,0 7,0 7,0 7,0 7,1 7,0 7,0 7,0 7,0 7,0 7,1 7,0 7,0 7,0 7,0 7,1 7,0 7,0 7,0 7,0 7,0 7,1 7,0 7,0 7,0 7,0 7,0 7,1" stroke="#000" stroke-width="62" stroke-dasharray="62 102" stroke-linecap="butt"/>
<path d="M12460,739l7,20 7,21 7,21 7,21 7,21 7,22 7,21 7,22 7,22 7,21 7,22 7,23 7,22 7,22 7,23 7,23 7,23 7,24 7,23 7,24 7,25 7,24 7,24 7,24 7,24 7,24 7,24 7,24 7,23 7,23 7,23 7,22 7,22 7,22 7,21 7,20 7,20 7,20 7,19 7,20 7,19 7,20 7,20 7,20 7,21 7,21 7,20 7,21 7,20 7,19 7,20 7,19 7,18 7,19 7,18 7,18 7,17 7,18 7,17 7,18 7,17 7,16 7,17 7,17 7,16 7,16 7,17 7,17 7,16 7,17 7,17 7,17 7,16 7,17 7,16 7,17 7,16 7,16 7,16 7,16 7,16 7,16 7,15 7,16 7,15 7,15 7,15 7,14 7,14 7,14 7,14 7,13 7,14 7,13 7,13 7,13 7,13 7,13 7,13 7,13 7,13 7,12 7,12 7,13 7,12 7,12 7,12 7,12 7,12 7,11 7,12 7,11 7,12 7,11 7,12 7,11 7,12 7,11 7,11 7,11 7,11 7,11 7,11 7,11 7,11 7,11 7,11 7,11 7,11 7,11 7,11 7,11 7,11 7,11 7,11 7,11 7,11 7,11 7,11 7,11 7,11 7,11 7,11 7,11 7,11 7,11 7,11 7,11 7,11 7,11 7,10 7,11 7,10 7,10 7,11 7,10 7,10 7,10 7,9 7,10 7,9 7,10 7,9 7,9 7,9 7,9 7,9 7,9 7,9 7,9 7,8 7,9 7,9 7,8 7,8 7,9 7,8 7,8 7,9 7,8 7,8 7,8 7,8 7,8 7,7 7,8 7,8 7,8 7,7 7,8 7,7 7,8 7,7 7,8 7,7 7,7 7,7 7,7 7,7 7,7 7,7 7,7 7,7 7,6 7,7 7,7 7,6 7,7 7,7 7,6 7,7 7,6 7,7 7,7 7,6 7,7 7,6 7,7 7,6 7,7 7,6 7,7 7,7 7,6 7,7 7,6 7,7 7,7 7,6 7,7 7,7 7,7 7,6 7,7 7,7 7,6 7,7 7,6 7,7 7,7 7,6 7,7 7,6 7,7 7,6 7,7 7,6 7,6 7,7 7,6 7,6 7,6 7,6 7,6 7,6 7,6 7,6 7,6 7,6 7,6 7,5 7,6 7,6 7,5 7,6 7,5 7,6 7,5 7,6 7,5 7,6 7,5 7,5 7,6 7,5 7,5 7,6 7,5 7,5 7,5 7,5 7,5 7,5 7,5 7,5 7,5 7,5 7,5 7,5 7,4 7,5 7,5 7,5 7,4 7,5 7,4 7,5 7,4 7,5 7,4 7,5 7,4 7,4 7,4 7,5 7,4 7,4 7,4 7,4 7,4 7,4 7,4 7,4 7,4 7,4 7,4 7,4 7,4 7,4 7,3 7,4 7,4 7,4 7,4 7,3 7,4 7,4 7,4 7,3 7,4 7,4 7,3 7,4 7,4 7,4 7,3 7,4 7,4 7,3 7,4 7,4 7,4 7,3 7,4 7,4 7,3 7,4 7,4 7,3 7,4 7,4 7,3 7,4 7,4 7,3 7,4 7,3 7,4 7,3 7,4 7,4 7,3 7,4 7,3 7,3 7,4 7,3 7,4 7,3 7,3 7,4 7,3 7,3 7,4 7,3 7,3 7,4 7,3 7,3 7,3 7,3 7,3 7,3 7,3 7,3 7,3 7,4 7,2 7,3 7,3 7,3 7,3 7,3 7,3 7,3 7,3 7,3 7,2 7,3 7,3 7,3 7,3 7,2 7,3 7,3 7,3 7,2 7,3 7,3 7,2 7,3 7,3 7,2 7,3 7,3 7,2 7,3 7,2 7,3 7,3 7,2 7,3 7,2 7,3 7,2 7,3 7,2 7,3 7,3 7,2 7,3 7,2 7,3 7,2 7,3 7,2 7,2 7,3 7,2 7,3 7,2 7,2 7,3 7,2 7,2 7,2 7,3 7,2 7,2 7,2 7,2 7,2 7,3 7,2 7,2 7,2 7,2 7,2 7,2 7,2 7,2 7,2 7,2 7,2 7,2 7,2 7,2 7,2 7,2 7,2 7,2 7,2 7,1 7,2 7,2 7,2 7,2 7,2 7,2 7,1 7,2 7,2 7,2 7,2 7,1 7,2 7,2 7,2 7,1 7,2 7,2 7,1 7,2 7,2 7,2 7,1 7,2 7,2 7,1 7,2 7,2 7,1 7,2 7,1 7,2 7,2 7,1 7,2 7,1 7,2 7,2 7,1 7,2 7,1 7,2 7,1 7,2 7,2 7,1 7,2 7,1 7,2 7,1 7,2 7,1 7,2 7,1 7,2 7,1 7,2 7,1 7,2 7,1 7,2 7,1 7,2 7,1 7,2 7,1 7,1 7,2 7,1 7,2 7,1 7,2 7,1 7,1 7,2 7,1 7,2 7,1 7,2 7,1 7,1 7,2 7,1 7,2 7,1 7,1 7,2 7,1 7,2 7,1 7,1 7,2 7,1 7,1 7,2 7,1 7,2 7,1 7,1 7,2 7,1 7,1 7,2 7,1 7,1 7,2 7,1 7,1 7,2 7,1 7,1 7,2 7,1 7,1 7,2 7,1 7,1 7,2 7,1 7,1 7,2 7,1 7,1 7,1 7,2 7,1 7,1 7,2 7,1 7,1 7,1 7,2 7,1 7,1 7,1 7,2 7,1 7,1 7,1 7,2 7,1 7,1 7,1 7,1 7,2 7,1 7,1 7,1 7,1 7,2 7,1 7,1 7,1 7,1 7,2 7,1 7,1 7,1 7,1 7,1 7,1 7,2 7,1 7,1 7,1 7,1 7,1 7,1 7,1 7,2 7,1 7,1 7,1 7,1 7,1 7,1 7,1 7,1 7,1 7,1 7,1 7,1 7,1 7,2 7,1 7,1 7,1 7,1 7,1 7,1 7,1 7,1 7,1 7,1 7,1 7,1 7,1 7,1 7,1 7,1 7,1 7,0 7,1 7,1 7,1 7,1 7,1 7,1 7,1 7,1 7,1 7,1 7,1 7,1 7,1 7,0 7,1 7,1 7,1 7,1 7,1 7,1 7,1 7,0 7,1 7,1 7,1 7,1 7,1 7,0 7,1 7,1 7,1 7,1 7,0 7,1 7,1 7,1 7,1 7,0 7,1 7,1 7,1 7,1 7,0 7,1 7,1 7,1 7,0 7,1 7,1 7,1 7,0 7,1 7,1 7,0 7,1 7,1 7,0 7,1 7,1 7,1 7,0 7,1 7,1 7,0 7,1 7,1 7,0 7,1 7,1 7,0 7,1 7,0 7,1 7,1 7,0 7,1 7,1 7,0 7,1 7,0 7,1 7,1 7,0 7,1 7,0 7,1 7,0 7,1 7,1 7,0 7,1 7,0 7,1 7,0 7,1 7,1 7,0 7,1 7,0 7,1 7,0 7,1 7,0 7,1 7,0 7,1 7,0 7,1 7,0 7,1 7,0 7,1 7,0 7,1 7,0 7,1 7,0 7,1 7,0 7,1 7,0 7,1 7,0 7,1 7,0 7,1 7,0 7,1 7,0 7,1 7,0 7,1 7,0 7,1 7,0 7,0 7,1 7,0 7,1 7,0 7,1 7,0 7,1 7,0 7,0 7,1 7,0 7,1 7,0 7,1 7,0 7,0 7,1 7,0 7,1 7,0 7,1 7,0 7,0 7,1 7,0 7,1 7,0 7,0 7,1 7,0 7,1 7,0 7,0 7,1 7,0 7,1 7,0 7,0 7,1 7,0 7,1 7,0 7,0 7,1 7,0 7,0 7,1 7,0 7,1 7,0 7,0 7,1 7,0 7,0 7,1 7,0 7,1 7,0 7,0 7,1 7,0 7,0 7,1 7,0 7,0 7,1 7,0 7,1 7,0 7,0 7,1 7,0 7,0 7,1 7,0 7,0 7,1 7,0 7,0 7,1 7,0 7,0 7,1 7,0 7,0 7,1 7,0 7,1 7,0 7,0 7,1 7,0 7,0 7,1 7,0 7,0 7,1 7,0 7,0 7,1 7,0 7,0 7,1 7,0 7,0 7,1 7,0 7,0 7,1 7,0 7,0 7,0 7,1 7,0 7,0 7,1 7,0 7,0 7,1 7,0 7,0 7,1 7,0 7,0 7,1 7,0 7,0 7,1 7,0 7,0 7,1 7,0 7,0 7,1 7,0 7,0 7,0 7,1 7,0 7,0 7,1 7,0 7,0 7,1 7,0 7,0 7,1 7,0 7,0 7,0 7,1 7,0 7,0 7,1 7,0 7,0 7,1 7,0 7,0 7,0 7,1 7,0 7,0 7,1 7,0 7,0 7,0 7,1 7,0 7,0 7,1 7,0 7,0 7,0 7,1 7,0 7,0 7,1 7,0 7,0 7,0 7,1 7,0 7,0 7,0 7,1 7,0 7,0 7,1 7,0 7,0 7,0 7,1 7,0 7,0 7,0 7,1 7,0 7,0 7,0 7,1 7,0 7,0 7,0 7,1 7,0 7,0 7,0 7,1 7,0 7,0 7,0 7,1 7,0 7,0 7,1 7,0 7,0 7,0 7,0 7,1 7,0 7,0 7,0 7,1 7,0 7,0 7,0 7,1 7,0 7,0 7,0 7,1 7,0 7,0 7,0 7,1 7,0 7,0 7,0 7,1 7,0 7,0 7,0 7,0 7,1 7,0 7,0 7,0 7,1 7,0 7,0 7,0 7,0 7,1 7,0 7,0 7,0 7,1 7,0 7,0 7,0 7,0 7,1 7,0 7,0 7,0 7,1 7,0 7,0 7,0 7,0 7,1 7,0 7,0 7,0 7,0 7,1 7,0 7,0 7,0 7,0 7,1 7,0 7,0 7,0 7,1 7,0 7,0 7,0 7,0 7,1 7,0 7,0 7,0 7,0 7,1 7,0 7,0 7,0 7,0 7,0 7,1 7,0 7,0 7,0 7,0 7,1 7,0 7,0 7,0 7,0 7,1 7,0 7,0 7,0 7,0 7,1 7,0 7,0 7,0 7,0 7,0" stroke="#000" stroke-width="62" stroke-dasharray="62 102" stroke-linecap="butt"/>
<path d="M12460,747l7,37 7,37 7,37 7,36 7,36 7,35 7,36 7,35 7,35 7,34 7,35 7,34 7,34 7,33 7,33 7,33 7,33 7,33 7,32 7,33 7,32 7,31 7,31 7,30 7,29 7,28 7,27 7,28 7,28 7,28 7,29 7,28 7,29 7,28 7,29 7,29 7,30 7,30 7,28 7,27 7,25 7,23 7,22 7,22 7,21 7,21 7,22 7,22 7,23 7,23 7,23 7,22 7,23 7,22 7,21 7,21 7,21 7,20 7,21 7,20 7,19 7,20 7,20 7,19 7,19 7,20 7,19 7,19 7,19 7,19 7,18 7,19 7,18 7,19 7,18 7,18 7,18 7,17 7,18 7,17 7,17 7,17 7,17 7,17 7,16 7,16 7,16 7,16 7,16 7,15 7,15 7,15 7,15 7,15 7,14 7,14 7,14 7,14 7,13 7,13 7,13 7,13 7,13 7,12 7,12 7,12 7,12 7,12 7,12 7,11 7,12 7,11 7,11 7,12 7,11 7,11 7,11 7,11 7,11 7,11 7,11 7,11 7,11 7,11 7,11 7,11 7,10 7,11 7,11 7,11 7,10 7,11 7,11 7,10 7,11 7,10 7,10 7,10 7,10 7,11 7,10 7,9 7,10 7,10 7,10 7,9 7,9 7,10 7,9 7,9 7,9 7,9 7,9 7,9 7,9 7,8 7,9 7,9 7,8 7,8 7,9 7,8 7,8 7,8 7,9 7,8 7,8 7,8 7,7 7,8 7,8 7,8 7,7 7,8 7,8 7,7 7,8 7,7 7,8 7,7 7,7 7,8 7,7 7,7 7,7 7,7 7,7 7,7 7,7 7,7 7,7 7,7 7,7 7,7 7,6 7,7 7,7 7,6 7,7 7,6 7,7 7,6 7,6 7,7 7,6 7,6 7,6 7,6 7,6 7,6 7,6 7,6 7,6 7,6 7,6 7,5 7,6 7,5 7,6 7,6 7,5 7,5 7,6 7,5 7,5 7,6 7,5 7,5 7,5 7,5 7,5 7,6 7,5 7,5 7,4 7,5 7,5 7,5 7,5 7,5 7,4 7,5 7,5 7,5 7,4 7,5 7,4 7,5 7,4 7,5 7,4 7,5 7,4 7,5 7,4 7,4 7,5 7,4 7,4 7,4 7,5 7,4 7,4 7,4 7,4 7,4 7,4 7,4 7,4 7,4 7,4 7,4 7,4 7,4 7,4 7,4 7,3 7,4 7,4 7,4 7,3 7,4 7,4 7,4 7,3 7,4 7,4 7,3 7,4 7,3 7,4 7,4 7,3 7,4 7,3 7,4 7,3 7,4 7,3 7,4 7,3 7,3 7,4 7,3 7,4 7,3 7,3 7,4 7,3 7,3 7,3 7,4 7,3 7,3 7,3 7,4 7,3 7,3 7,3 7,3 7,3 7,3 7,4 7,3 7,3 7,3 7,3 7,3 7,3 7,3 7,3 7,2 7,3 7,3 7,3 7,3 7,3 7,3 7,2 7,3 7,3 7,3 7,3 7,2 7,3 7,3 7,3 7,2 7,3 7,3 7,3 7,2 7,3 7,3 7,2 7,3 7,3 7,2 7,3 7,2 7,3 7,2 7,3 7,2 7,3 7,2 7,3 7,2 7,2 7,3 7,2 7,2 7,2 7,3 7,2 7,2 7,2 7,2 7,2 7,2 7,2 7,2 7,2 7,2 7,1 7,2 7,2 7,2 7,1 7,2 7,1 7,2 7,1 7,2 7,1 7,2 7,2 7,1 7,2 7,1 7,2 7,1 7,2 7,1 7,2 7,2 7,1 7,2 7,2 7,1 7,2 7,1 7,2 7,2 7,1 7,2 7,2 7,1 7,2 7,2 7,1 7,2 7,2 7,1 7,2 7,1 7,2 7,2 7,1 7,2 7,2 7,1 7,2 7,1 7,2 7,2 7,1 7,2 7,1 7,2 7,2 7,1 7,2 7,1 7,2 7,1 7,2 7,2 7,1 7,2 7,1 7,2 7,1 7,2 7,2 7,1 7,2 7,1 7,2 7,1 7,2 7,1 7,2 7,1 7,2 7,1 7,2 7,1 7,2 7,1 7,2 7,1 7,2 7,1 7,2 7,1 7,2 7,1 7,1 7,2 7,1 7,2 7,1 7,2 7,1 7,1 7,2 7,1 7,2 7,1 7,1 7,2 7,1 7,1 7,2 7,1 7,2 7,1 7,1 7,2 7,1 7,1 7,1 7,2 7,1 7,1 7,2 7,1 7,1 7,2 7,1 7,1 7,1 7,2 7,1 7,1 7,1 7,2 7,1 7,1 7,1 7,1 7,2 7,1 7,1 7,1 7,1 7,2 7,1 7,1 7,1 7,1 7,1 7,2 7,1 7,1 7,1 7,1 7,1 7,1 7,1 7,2 7,1 7,1 7,1 7,1 7,1 7,1 7,1 7,1 7,1 7,1 7,1 7,1 7,1 7,1 7,1 7,1 7,1 7,1 7,1 7,1 7,1 7,1 7,1 7,1 7,1 7,1 7,1 7,1 7,1 7,1 7,1 7,1 7,1 7,0 7,1 7,1 7,1 7,1 7,1 7,1 7,1 7,1 7,1 7,0 7,1 7,1 7,1 7,1 7,1 7,1 7,1 7,0 7,1 7,1 7,1 7,1 7,1 7,1 7,0 7,1 7,1 7,1 7,1 7,0 7,1 7,1 7,1 7,1 7,1 7,0 7,1 7,1 7,1 7,0 7,1 7,1 7,1 7,1 7,0 7,1 7,1 7,1 7,0 7,1 7,1 7,1 7,0 7,1 7,1 7,1 7,0 7,1 7,1 7,1 7,0 7,1 7,1 7,0 7,1 7,1 7,0 7,1 7,1 7,1 7,0 7,1 7,1 7,0 7,1 7,1 7,0 7,1 7,1 7,0 7,1 7,1 7,0 7,1 7,1 7,0 7,1 7,1 7,0 7,1 7,1 7,0 7,1 7,0 7,1 7,1 7,0 7,1 7,0 7,1 7,1 7,0 7,1 7,1 7,0 7,1 7,0 7,1 7,1 7,0 7,1 7,0 7,1 7,0 7,1 7,1 7,0 7,1 7,0 7,1 7,0 7,1 7,0 7,1 7,1 7,0 7,1 7,0 7,1 7,0 7,1 7,0 7,1 7,0 7,1 7,0 7,1 7,1 7,0 7,1 7,0 7,1 7,0 7,1 7,0 7,1 7,0 7,1 7,0 7,1 7,0 7,1 7,0 7,1 7,0 7,1 7,0 7,0 7,1 7,0 7,1 7,0 7,1 7,0 7,1 7,0 7,1 7,0 7,1 7,0 7,0 7,1 7,0 7,1 7,0 7,1 7,0 7,1 7,0 7,0 7,1 7,0 7,1 7,0 7,1 7,0 7,0 7,1 7,0 7,1 7,0 7,1 7,0 7,0 7,1 7,0 7,1 7,0 7,0 7,1 7,0 7,1 7,0 7,1 7,0 7,0 7,1 7,0 7,1 7,0 7,0 7,1 7,0 7,1 7,0 7,0 7,1 7,0 7,0 7,1 7,0 7,1 7,0 7,0 7,1 7,0 7,0 7,1 7,0 7,1 7,0 7,0 7,1 7,0 7,0 7,1 7,0 7,1 7,0 7,0 7,1 7,0 7,0 7,1 7,0 7,0 7,1 7,0 7,0 7,1 7,0 7,0 7,1 7,0 7,0 7,1 7,0 7,0 7,1 7,0 7,0 7,1 7,0 7,0 7,1 7,0 7,0 7,1 7,0 7,0 7,1 7,0 7,0 7,0 7,1 7,0 7,0 7,1 7,0 7,0 7,1 7,0 7,0 7,0 7,1 7,0 7,0 7,1 7,0 7,0 7,0 7,1 7,0 7,0 7,1 7,0 7,0 7,0 7,1 7,0 7,0 7,0 7,1 7,0 7,0 7,0 7,1 7,0 7,0 7,0 7,1 7,0 7,0 7,0 7,1 7,0 7,0 7,0 7,1 7,0 7,0 7,0 7,1 7,0 7,0 7,0 7,1 7,0 7,0 7,0 7,0 7,1 7,0 7,0 7,0 7,1 7,0 7,0 7,0 7,0 7,1 7,0 7,0 7,0 7,0 7,1 7,0 7,0 7,0 7,0 7,1 7,0 7,0 7,0 7,0 7,0 7,1 7,0 7,0 7,0 7,0 7,1 7,0 7,0 7,0 7,0 7,0 7,1 7,0 7,0 7,0 7,0 7,0 7,1 7,0 7,0 7,0 7,0 7,0 7,1 7,0 7,0 7,0 7,0 7,0 7,1 7,0 7,0 7,0 7,0 7,0 7,1 7,0 7,0 7,0 7,0 7,0 7,0 7,1 7,0 7,0 7,0 7,0 7,0 7,0 7,1 7,0 7,0 7,0 7,0 7,0 7,0 7,1 7,0 7,0 7,0 7,0 7,0 7,0 7,1 7,0 7,0 7,0 7,0 7,0 7,0 7,1 7,0 7,0 7,0 7,0 7,0 7,0 7,0 7,1 7,0 7,0 7,0 7,0 7,0 7,0 7,0 7,1 7,0 7,0 7,0 7,0 7,0 7,0 7,0 7,1 7,0 7,0 7,0 7,0 7,0 7,0 7,0 7,1 7,0 7,0 7,0 7,0 7,0 7,0 7,0 7,0 7,1 7,0 7,0 7,0 7,0 7,0 7,0 7,0 7,0 7,0 7,1 7,0 7,0 7,0 7,0 7,0 7,0 7,0 7,0 7,1 7,0 7,0 7,0 7,0 7,0 7,0 7,0 7,0 7,0 7,0 7,1 7,0 7,0 7,0 7,0 7,0 7,0 7,0 7,0 7,0 7,1 7,0 7,0 7,0 7,0 7,0 7,0 7,0 7,0 7,0 7,0 7,0 7,1 7,0 7,0 7,0 7,0 7,0 7,0 7,0 7,0 7,0 7,0 7,0 7,1 7,0 7,0 7,0 7,0 7,0 7,0 7,0 7,0 7,0 7,0 7,0 7,0 7,0 7,1 7,0 7,0 7,0 7,0 7,0 7,0 7,0 7,0 7,0 7,0 7,0 7,0" stroke="#000" stroke-width="62" stroke-dasharray="62 102" stroke-linecap="butt"/>
</g></g>
<rect x="1206.3" y="47.8" width="873.5" height="496.7" fill="none" stroke="#000" stroke-width="2.1" stroke-linejoin="miter"/>
<path d="M1206.3,525.7 H1191.7 M1206.3,439.6 H1191.7 M1206.3,353.6 H1191.7 M1206.3,267.5 H1191.7 M1206.3,181.5 H1191.7 M1206.3,95.4 H1191.7 M1246.0,544.5 V559.1 M1384.9,544.5 V559.1 M1523.8,544.5 V559.1 M1662.7,544.5 V559.1 M1801.6,544.5 V559.1 M1940.5,544.5 V559.1" stroke="#000" stroke-width="2.8" fill="none"/>
<g font-family="'Liberation Sans', Arial, sans-serif" font-size="29.3" fill="#000">
<text x="1177.3" y="536.1" text-anchor="end">0.0</text>
<text x="1177.3" y="450.0" text-anchor="end">0.2</text>
<text x="1177.3" y="364.0" text-anchor="end">0.4</text>
<text x="1177.3" y="277.9" text-anchor="end">0.6</text>
<text x="1177.3" y="191.9" text-anchor="end">0.8</text>
<text x="1177.3" y="105.8" text-anchor="end">1.0</text>
<text transform="translate(1114.0,296.1) rotate(-90)" text-anchor="middle">Normalized intensity</text>
<text x="1301.1" y="471.5">30K</text>
</g>
<text x="1062.8" y="17.7" font-family="'Liberation Sans', Arial, sans-serif" font-weight="bold" font-size="33" fill="#000">e</text>
<rect x="1727.7" y="62.4" width="337.5" height="150.5" rx="4.5" ry="4.5" fill="#fff" fill-opacity="0.8" stroke="#cccccc" stroke-width="2.8"/>
<path d="M1738.3,91.1 H1796.6" stroke="#6f4ab8" stroke-opacity="0.72" stroke-width="6.3" stroke-linecap="square"/>
<text font-family="'DejaVu Sans', sans-serif" fill="#000"><tspan x="1818.70" y="98.40" font-size="29.3">1</tspan><tspan x="1843.01" y="98.40" font-size="29.3">×</tspan><tspan x="1873.22" y="98.40" font-size="29.3">1</tspan><tspan x="1891.83" y="98.40" font-size="29.3">0</tspan><tspan x="1910.71" y="87.30" font-size="20.51">1</tspan><tspan x="1923.74" y="87.30" font-size="20.51">4</tspan><tspan x="1992.98" y="87.30" font-size="20.51">−</tspan><tspan x="2010.13" y="87.30" font-size="20.51">3</tspan><tspan x="1947.06" y="98.40" font-size="29.3" font-style="oblique">c</tspan><tspan x="1963.14" y="98.40" font-size="29.3" font-style="oblique">m</tspan></text>
<path d="M1738.3,138.9 H1796.6" stroke="#d27895" stroke-opacity="0.72" stroke-width="6.3" stroke-linecap="square"/>
<text font-family="'DejaVu Sans', sans-serif" fill="#000"><tspan x="1818.70" y="146.20" font-size="29.3">3</tspan><tspan x="1837.31" y="146.20" font-size="29.3">.</tspan><tspan x="1844.98" y="146.20" font-size="29.3">2</tspan><tspan x="1869.29" y="146.20" font-size="29.3">×</tspan><tspan x="1899.50" y="146.20" font-size="29.3">1</tspan><tspan x="1918.11" y="146.20" font-size="29.3">0</tspan><tspan x="1936.99" y="135.10" font-size="20.51">1</tspan><tspan x="1950.02" y="135.10" font-size="20.51">5</tspan><tspan x="2019.26" y="135.10" font-size="20.51">−</tspan><tspan x="2036.42" y="135.10" font-size="20.51">3</tspan><tspan x="1973.34" y="146.20" font-size="29.3" font-style="oblique">c</tspan><tspan x="1989.42" y="146.20" font-size="29.3" font-style="oblique">m</tspan></text>
<path d="M1738.3,186.7 H1796.6" stroke="#f8d466" stroke-opacity="0.72" stroke-width="6.3" stroke-linecap="square"/>
<text font-family="'DejaVu Sans', sans-serif" fill="#000"><tspan x="1818.70" y="194.00" font-size="29.3">1</tspan><tspan x="1837.31" y="194.00" font-size="29.3">.</tspan><tspan x="1846.61" y="194.00" font-size="29.3">9</tspan><tspan x="1870.92" y="194.00" font-size="29.3">×</tspan><tspan x="1901.12" y="194.00" font-size="29.3">1</tspan><tspan x="1919.73" y="194.00" font-size="29.3">0</tspan><tspan x="1938.62" y="182.90" font-size="20.51">1</tspan><tspan x="1951.65" y="182.90" font-size="20.51">6</tspan><tspan x="2020.89" y="182.90" font-size="20.51">−</tspan><tspan x="2038.04" y="182.90" font-size="20.51">3</tspan><tspan x="1974.96" y="194.00" font-size="29.3" font-style="oblique">c</tspan><tspan x="1991.05" y="194.00" font-size="29.3" font-style="oblique">m</tspan></text>
</g>
<g id="panel-f">
<g clip-path="url(#clipf)"><g transform="scale(0.1)" fill="none" stroke-linejoin="round" stroke-linecap="square">
<path d="M12495,6291l7,33 7,10 7,13 7,0 7,5 7-66 7,39 7-7 7-28 7,56 7,104 7-29 7,36 7,69 7-127 7,105 7,20 7,1 7-121 7,98 7-75 7,91 7,40 7-52 7,15 7,49 7,95 7-23 7,64 7-48 7-10 7-80 7,18 7,63 7-5 7,63 7-158 7,99 7-60 7,168 7,14 7-25 7,75 7,9 7,104 7-111 7,70 7-28 7,83 7,118 7-134 7-28 7,174 7-5 7-29 7,11 7,109 7-210 7,63 7,120 7,91 7-125 7-90 7,88 7-7 7,147 7-61 7,123 7-209 7,102 7,181 7-5 7-135 7,33 7,40 7-46 7-75 7,114 7,148 7-90 7,84 7-18 7-57 7,44 7,68 7-51 7,62 7-70 7,61 7-26 7,53 7-50 7,67 7,5 7,46 7-31 7,128 7-256 7,214 7-35 7,47 7,13 7-41 7,67 7,7 7,69 7-15 7,27 7-164 7,198 7-4 7-62 7-61 7,195 7,3 7-87 7-1 7,114 7,33 7-38 7-88 7,56 7-34 7,60 7,6 7-26 7,54 7-9 7,77 7-6 7-50 7,52 7,41 7-68 7,18 7,43 7,54 7-82 7-78 7,198 7,52 7-31 7,20 7,29 7,7 7-101 7,10 7-23 7,52 7,78 7-75 7,103 7-4 7,55 7-121 7,22 7,90 7,1 7-9 7,1 7-26 7,52 7-9 7,111 7-55 7,89 7-183 7,30 7,46 7-12 7-39 7,66 7,143 7-64 7,122 7-72 7,32 7-56 7-12 7,79 7-25 7-20 7,33 7,11 7,125 7-91 7-53 7,38 7,100 7-52 7-17 7,74 7-74 7,85 7-15 7-2 7-110 7,138 7,20 7-57 7,67 7-26 7,130 7-122 7,23 7,71 7-126 7,87 7,4 7,63 7,23 7-46 7,55 7-92 7-11 7,82 7,56 7-51 7,41 7-52 7,8 7,37 7-16 7-39 7-24 7,116 7-52 7,54 7,47 7-106 7,50 7,19 7-3 7,31 7,49 7-128 7,48 7,37 7-27 7-9 7,77 7-31 7,49 7-39 7,49 7-120 7,138 7-34 7,9 7,44 7-53 7,54 7,22 7-12 7,41 7-83 7,33 7-10 7,114 7-68 7,54 7-32 7-48 7,52 7,26 7-52 7,11 7-32 7,174 7-93 7,40 7,26 7-39 7,64 7,53 7-54 7-22 7-90 7,122 7,25 7,42 7-67 7,1 7-12 7,76 7-24 7,72 7-102 7,82 7,57 7-165 7,34 7,12 7,6 7,66 7-87 7,98 7-123 7,78 7,95 7-112 7-42 7,101 7-51 7,60 7,23 7,89 7-158 7,77 7-30 7,69 7-4 7-81 7,69 7,5 7,41 7-56 7-19 7,57 7-7 7,48 7-104 7,89 7-15 7-71 7,84 7,59 7-21 7-19 7-83 7,69 7,23 7-39 7-15 7,90 7-86 7,28 7,22 7,119 7-100 7-44 7,72 7-101 7,96 7,48 7-61 7,17 7-18 7,47 7-57 7,79 7-24 7,60 7-14 7-36 7,38 7-4 7-5 7-15 7-16 7,4 7-6 7,36 7,34 7,45 7-45 7,22 7,44 7-133 7,141 7-82 7-4 7,35 7-107 7,104 7,35 7-95 7,103 7,29 7-14 7-10 7-23 7-8 7,76 7-69 7-69 7,117 7-19 7-28 7-16 7,75 7,15 7,5 7-77 7,11 7,120 7,2 7-31 7,13 7-68 7,10 7-62 7,47 7,29 7-37 7,81 7,22 7-50 7-31 7,99 7-91 7,5 7,54 7-22 7,19 7-10 7-23 7,62 7-64 7,9 7,2 7,108 7-1 7-90 7,50 7,7 7,5 7,25 7-36 7,19 7,1 7-38 7,63 7-81 7,124 7-167 7,142 7-67 7-9 7,36 7-24 7,33 7,62 7-72 7-25 7,63 7,43 7-36 7-30 7,4 7-25 7,22 7,4 7,92 7-146 7,79 7-26 7,45 7-4 7-4 7-50 7,5 7,34 7-45 7,85 7-29 7,37 7-58 7,46 7-30 7-23 7,134 7-143 7,66 7,24 7,58 7-53 7,71 7-79 7,12 7-66 7,76 7-45 7,0 7-28 7,81 7-32 7,80 7-12 7-25 7-6 7,42 7-24 7-35 7,42 7-8 7,27 7-73 7-11 7,55 7,13 7-57 7,42 7,40 7,25 7-23 7-89 7,94 7-112 7,97 7,9 7-48 7,54 7-19 7,49 7,9 7-15 7-29 7,31 7,44 7-76 7,22 7,6 7,13 7,55 7-121 7,68 7-30 7-26 7,11 7,31 7,9 7-8 7-17 7,12 7,35 7-26 7,4 7-8 7,17 7-35 7,39 7-20 7,29 7,21 7,14 7-23 7-20 7-21 7,44 7,15 7,2 7-54 7,38 7,21 7-37 7,65 7-42 7,6 7,5 7,33 7-64 7-20 7,94 7-42 7-15 7-47 7,83 7,18 7-27 7-60 7,61 7-5 7-44 7,120 7,3 7-92 7,6 7,67 7-56 7,16 7-4 7,32 7-9 7,15 7-27 7,10 7-55 7,33 7,67 7-58 7-28 7,35 7-22 7,35 7-21 7,50 7-49 7,65 7-77 7,84 7,19 7-76 7,22 7-7 7-8 7,15 7,26 7-30 7-3 7-3 7-42 7,81 7-22 7-13 7,31 7,23 7-17 7-46 7,40 7-24 7,40 7-33 7,34 7,6 7-26 7,3 7-39 7,89 7-59 7-30 7,8 7,51 7,10 7-4 7-21 7,4 7-3 7-6 7,48 7,3 7,4 7,5 7-34 7-10 7-61 7,57 7,16 7-38 7,61 7-29 7-16 7,6 7,12 7,22 7,26 7-29 7,14 7-35 7,24 7-18 7,61 7-70 7,52 7,20 7-4 7-19 7-47 7,13 7,52 7-33 7,6 7,41 7-14 7,29 7-31 7,50 7-49 7,4 7-2 7,2 7-53 7,42 7-15 7-13 7-2 7,7 7,34 7,15 7-7 7-7 7-12 7,3 7-30 7,33 7-49 7,21 7,41 7-34 7,99 7-111 7,27 7,1 7,56 7-110 7,74 7-2 7-32 7,36 7,18 7-39 7,45 7-45 7,17 7-25 7,62 7-63 7,26 7-43 7,69 7-64 7,31 7-1 7,40 7-32 7-2 7,39 7,9 7-8 7-57 7,34 7-19 7,18 7,5 7-2 7,18 7-41 7,27 7,0 7,42 7-42 7,26 7-4 7-38 7,55 7-22 7-20 7-12 7,43 7-21 7,2 7,36 7,27 7-5 7-62 7,13 7,37 7-17 7-5 7,0 7-8 7-54 7,75 7-22 7,23 7-3 7,7 7-15 7,9 7-22 7,5 7,28 7-69 7,77 7-37 7-43 7,71 7-49 7-2 7,28 7,54 7-79 7,33 7,16 7-43 7,49 7-43 7,40 7-25 7,40 7-16 7,13 7-4 7-21 7,10 7-8 7-26 7,34 7,43 7-37 7-8 7-22 7,0 7,3 7,29 7-20 7,51 7-65 7,21 7-1 7,22 7-10 7,18 7-28 7,45 7-54 7,11 7-34 7,49 7,2 7-6 7,5 7,4 7,24 7,1 7-13 7-5 7,21 7,0 7-20 7-23 7,23 7-20 7-6 7,5 7,29 7,0 7,34 7-26 7-27 7,37 7-56 7-1 7,42 7-29 7,55 7-8 7-15 7-8 7,5 7,16 7-65 7,40 7,0 7-8 7,12 7,10 7,8 7,26 7-72 7,56 7,18 7-19 7,19 7-82 7,38 7-23 7-1 7,21 7,1 7,30 7-14 7,12 7-14 7,17 7-44 7,12 7,21 7,35 7-52 7-4 7,22 7,27 7-37 7-13 7,67 7-55 7,53 7-41 7-37 7,37 7-8 7,19 7-7 7-52 7,23 7,38 7,2 7-9 7-47 7,44 7-19 7,33 7,21 7-57 7,31 7,16 7-1 7,0 7-1 7,21 7-60 7,19 7-13 7,30 7-15 7,5 7-22 7,8 7,11 7,22 7,13 7-8 7-4 7-1 7,16 7-63 7,31 7,50 7-20 7,6 7-33 7-18 7,45 7-34 7,20 7-31 7-4 7,23 7-8 7,16 7,8 7,18 7-32 7,9 7,8 7-7 7,3 7,19 7-11 7-35 7,30 7-34 7,55 7,4 7-31 7-13 7,31 7-27 7-6 7-2 7,25 7-1 7,34 7-34 7-5 7-24 7,57 7-8 7,3 7-39 7,72 7-30 7-65 7,30 7,42 7-26 7-19 7,7 7,16 7,13 7-34 7,18 7-16 7,9 7,18 7-39 7,40 7-18 7,22 7-8 7,1 7,9 7-18 7-22 7-11 7,10 7,33 7-33 7,22 7-28 7,63 7-56 7,43 7-35 7,33 7-28 7,25 7,33 7-18 7-15 7-5 7,47 7-21 7-9 7-10 7-9 7,22 7,14 7-36 7,13 7-24 7,29 7-23 7,31 7-23 7,4 7-7 7,28 7-16 7,15 7-13 7-15 7-47 7,59 7-13 7,12 7-20 7,14 7-11 7,14 7-40 7,20 7,62 7-40 7,5 7,45 7-26 7-7 7,6 7-17 7,38 7-50 7,0 7,9 7,14 7-7 7,10 7-31 7,13 7-29 7,46 7-35 7,40 7-7 7,17 7-30 7,11 7-12 7-17 7,30 7-8 7-9 7,18 7,10 7-17 7-2 7-5 7-1 7,29 7-21 7-15 7,33 7-15 7,19 7-15 7-30 7,30 7,23 7-25 7,3 7-17 7,48 7-9 7-16 7,29 7-51 7,60 7-22 7,13 7-16 7-27 7,4 7-6 7,7 7,50 7-44 7,41 7-25 7-2 7,3 7-19 7,25 7-48 7,22 7-11 7,8 7-2 7,18 7-37 7,57 7-28 7,8 7,5 7-10 7,20 7-30" stroke="#6f4ab8" stroke-opacity="0.72" stroke-width="63"/>
<path d="M12495,6291l7-4 7-45 7,63 7-83 7,50 7-14 7-10 7,75 7,6 7-48 7,64 7,14 7,11 7,2 7,14 7,42 7,27 7,14 7,14 7,1 7,43 7-11 7,70 7-5 7-1 7,32 7,41 7,47 7,21 7,13 7,14 7,33 7,44 7,9 7-1 7,15 7,60 7,1 7,41 7-2 7-56 7,79 7,24 7,21 7,27 7,27 7-16 7,19 7-16 7,69 7-22 7-1 7,73 7-31 7,55 7-21 7,0 7,43 7,12 7,34 7,0 7,3 7,39 7,15 7,6 7,8 7,57 7-15 7,28 7-6 7,5 7,27 7-2 7,53 7,5 7,25 7-3 7,14 7,19 7,32 7-4 7,20 7-3 7,29 7-10 7,29 7,48 7-14 7,34 7-26 7,6 7,38 7,6 7,45 7,27 7-13 7,10 7,35 7-11 7,12 7,9 7,1 7,27 7,34 7,8 7,7 7,41 7-23 7,22 7,33 7,21 7-57 7,62 7,12 7,0 7,27 7,25 7,5 7,39 7-13 7,49 7-18 7,10 7,46 7-42 7,60 7-22 7,37 7-1 7,27 7-36 7,35 7,0 7,27 7,14 7,20 7,18 7-2 7,19 7,17 7,30 7-5 7-2 7,28 7-1 7,19 7,25 7,10 7,8 7,5 7,11 7-10 7,44 7,26 7-30 7,28 7,6 7-29 7,27 7,23 7,6 7,23 7-2 7,33 7,12 7,7 7-20 7,11 7,41 7-15 7,29 7-8 7,30 7-9 7,26 7,12 7,6 7,7 7,20 7,21 7-35 7,40 7,29 7,16 7,17 7-23 7-19 7,52 7-10 7,30 7-33 7,20 7,9 7-6 7,4 7,17 7,31 7,19 7,4 7,19 7-42 7,36 7,3 7,7 7-18 7,44 7-16 7,19 7,14 7,33 7-33 7,31 7,3 7-2 7,9 7-7 7,32 7-4 7,5 7,11 7-2 7,20 7-13 7,33 7,17 7-13 7-10 7,30 7,9 7,2 7,0 7,11 7,0 7,34 7-36 7,18 7,26 7-23 7,19 7-8 7,42 7-32 7,28 7,35 7-32 7,21 7,15 7-4 7,29 7-28 7,17 7,7 7-17 7,25 7,15 7,9 7-5 7-9 7,27 7,12 7-20 7,17 7,7 7-21 7,49 7-13 7,31 7-13 7-6 7-1 7,37 7-22 7,7 7,17 7-27 7,38 7,17 7-11 7,35 7-38 7,13 7,23 7-7 7,7 7-12 7,38 7,14 7,15 7-16 7,22 7-12 7-2 7,16 7,12 7-22 7,23 7,0 7-4 7,34 7,0 7-37 7,38 7,16 7-5 7,9 7,13 7-5 7,0 7,4 7-2 7,33 7,1 7-24 7,20 7-16 7,16 7,25 7-20 7,23 7-11 7-8 7-6 7,30 7-5 7,9 7-2 7,44 7-22 7-4 7,2 7,18 7-15 7,1 7,16 7,7 7,6 7-3 7-8 7,0 7,27 7,9 7,2 7-17 7,12 7,3 7,2 7,5 7,9 7,15 7-1 7-5 7,0 7,13 7,4 7-17 7,25 7-5 7,10 7,10 7,12 7-8 7,7 7-16 7,27 7-5 7-9 7,12 7-3 7-1 7,33 7-11 7,9 7-23 7,21 7-4 7-10 7,26 7-1 7-1 7,11 7-14 7,9 7,1 7,14 7,7 7,4 7,3 7,17 7-19 7-2 7,12 7,8 7-3 7,1 7,2 7-14 7,33 7-11 7-1 7,10 7,6 7,11 7-2 7-12 7-5 7,26 7-10 7,2 7-3 7,11 7,1 7-3 7,25 7-10 7,22 7,5 7-11 7,11 7-20 7-3 7,17 7,0 7,4 7,2 7-2 7,0 7,12 7,5 7,0 7-12 7,16 7-18 7,20 7-14 7,29 7-3 7-10 7,2 7,10 7-21 7,23 7,0 7,11 7-21 7,11 7,7 7,24 7-19 7,11 7-6 7-4 7,20 7-8 7-4 7,9 7,8 7,10 7-2 7,8 7-21 7,12 7,15 7-10 7,16 7,22 7-44 7,3 7,29 7-6 7-7 7,8 7,7 7-2 7,0 7,5 7-6 7,6 7,8 7-6 7,19 7-30 7,34 7-15 7-2 7,1 7,3 7-8 7,26 7-9 7,0 7,8 7,3 7-17 7,22 7-1 7,0 7,1 7-2 7,5 7-4 7,4 7-2 7-7 7,24 7-23 7,22 7-9 7,6 7,7 7,18 7-34 7,25 7,2 7-17 7,11 7-16 7,4 7,11 7,6 7-3 7,21 7-13 7,2 7,8 7-6 7,18 7-21 7-2 7,26 7-12 7-13 7,13 7,15 7,1 7-16 7-8 7,30 7-10 7,9 7-3 7-4 7,4 7,8 7-25 7,23 7,1 7-11 7,12 7,4 7-10 7,20 7-16 7-1 7,5 7,9 7,0 7,17 7-13 7-3 7-4 7,8 7,6 7,6 7-7 7,0 7-9 7,13 7,6 7-3 7,5 7-1 7,20 7-5 7-3 7-14 7,6 7-1 7-8 7,22 7-19 7,8 7,11 7-19 7,28 7-1 7-8 7-4 7,6 7,19 7-15 7-1 7-23 7,12 7,12 7,12 7-12 7,15 7-11 7-1 7,9 7-5 7,6 7,3 7-18 7,10 7,9 7,5 7-7 7-3 7-1 7-5 7,11 7,15 7-28 7,9 7,4 7-3 7,26 7-9 7,3 7-15 7,23 7-7 7-16 7,9 7,11 7-20 7,30 7-15 7,7 7-6 7,8 7,6 7-8 7,15 7-16 7,9 7-10 7,13 7,3 7-9 7-6 7,30 7-19 7-3 7,19 7-4 7-12 7,14 7-1 7-20 7,24 7,1 7,13 7-10 7,3 7-26 7,6 7,23 7-28 7,11 7,10 7-8 7,4 7,11 7,10 7-7 7-7 7,4 7,5 7-15 7,19 7-16 7,13 7-5 7,12 7-9 7,8 7,9 7-14 7,1 7-7 7,6 7,12 7-3 7,17 7-11 7-20 7-1 7,7 7,5 7-2 7,2 7,20 7-7 7-17 7,1 7,9 7,6 7,1 7,2 7,4 7,10 7-17 7,6 7-2 7-16 7,11 7,12 7-10 7,18 7-21 7,8 7,4 7-6 7-6 7,17 7,5 7-26 7,19 7-12 7,19 7-8 7,10 7-11 7,9 7,4 7-18 7,11 7,21 7-15 7,7 7,3 7-5 7,0 7-4 7,8 7,10 7-11 7-11 7,20 7-16 7,2 7,8 7-6 7,10 7-2 7,6 7-12 7-7 7,18 7-15 7,28 7-9 7,1 7-22 7,20 7-11 7,25 7-18 7-3 7,6 7,23 7-24 7-5 7-3 7,8 7,18 7-11 7-9 7,15 7-11 7,9 7-4 7-5 7,13 7-29 7,23 7-1 7,10 7-6 7,3 7,11 7,1 7-15 7,4 7,22 7-3 7-15 7-2 7-5 7,16 7-14 7,8 7,2 7-2 7-9 7,4 7-2 7,14 7-3 7,8 7-5 7-1 7,2 7-10 7,3 7-2 7,6 7-7 7,8 7-6 7,4 7-1 7,7 7,10 7,3 7-28 7,13 7,1 7,5 7,3 7-27 7,34 7-9 7,1 7,9 7,2 7-4 7-3 7,2 7-10 7,17 7-13 7-8 7,6 7,17 7,15 7-31 7,4 7,9 7-15 7,15 7-4 7,10 7-11 7,7 7,1 7-12 7,7 7,15 7-18 7,0 7,14 7-3 7-3 7,3 7-3 7-4 7,10 7-20 7,23 7-1 7-20 7-3 7,20 7,2 7,8 7-18 7,8 7,9 7-9 7-8 7,6 7-12 7,9 7,7 7,4 7-4 7-5 7,3 7-1 7,7 7-4 7-3 7,12 7,9 7-24 7,10 7,9 7-5 7,4 7,12 7-12 7,11 7-13 7,3 7-9 7,10 7-4 7,6 7,1 7,9 7-19 7,7 7,7 7-6 7,5 7,3 7-7 7-8 7,13 7,9 7-6 7-19 7,22 7-16 7,12 7-7 7,7 7,12 7-9 7-20 7,18 7-5 7,8 7-1 7-4 7,0 7-14 7,18 7,2 7,4 7,6 7,2 7-17 7,20 7-25 7,4 7,10 7,7 7-9 7,1 7-9 7,15 7-2 7-2 7,2 7,3 7,9 7,0 7-8 7-3 7-9 7-10 7,5 7,11 7-11 7,15 7,4 7-22 7,27 7-5 7-1 7-13 7,17 7-11 7,10 7,7 7-11 7,0 7,11 7-2 7,0 7-13 7,4 7,2 7-2 7,8 7-7 7,9 7,6 7-5 7-7 7,2 7-8 7,22 7-11 7-4 7,10 7-9 7,6 7,6 7-17 7,19 7-18 7,11 7,5 7,0 7-1 7,1 7-8 7,16 7-23 7,3 7-4 7,19 7,10 7-12 7-4 7-3 7,7 7-3 7-2 7,13 7-25 7,23 7-11 7-6 7,15 7-6 7-12 7,15 7-10 7,6 7,1 7-4 7,8 7,0 7-9 7,6 7-2 7,14 7-9 7-9 7,2 7,5 7,7 7,1 7-8 7-7 7,11 7-10 7,13 7-11 7,17 7-9 7,10 7-13 7,1 7,11 7-1 7-2 7,8 7-4 7,0 7-12 7-4 7,14 7-1 7-4 7,6 7-2 7-8 7,5 7,3 7,4 7-16 7,16 7-5 7,9 7-3 7-5 7,4 7-7 7,4 7,11 7,7 7-24 7,12 7-16 7,12 7,6 7-10 7,7 7-2 7,7 7-12 7-3 7,13 7-18 7,18 7-6 7,15 7,2 7-30 7,6 7,2 7,21 7-14 7-1 7,3 7-2 7,10 7-6 7,8 7-6 7-5 7,9 7-4 7,1 7-3 7-6 7,5 7-1 7,14 7-8 7-8 7,12 7-3 7,5 7-17 7,13 7,2 7-9 7-4 7,5" stroke="#d27895" stroke-opacity="0.72" stroke-width="63"/>
<path d="M12495,6291l7-3 7-1 7-9 7,37 7,6 7,0 7,25 7,25 7,7 7,31 7,37 7,23 7,19 7,22 7,52 7,11 7,29 7,32 7,14 7,33 7,17 7,10 7,32 7,22 7,26 7,27 7,21 7,40 7,21 7,19 7,37 7,24 7,14 7,22 7,37 7,24 7,14 7,25 7,30 7,16 7,25 7,27 7,6 7,35 7,28 7,22 7,11 7,35 7,35 7,16 7,24 7,26 7,15 7,21 7,22 7,22 7,11 7,35 7,3 7,25 7,18 7,38 7-6 7,42 7,15 7,11 7,28 7,19 7,32 7,9 7,15 7,17 7,27 7,16 7,19 7,27 7,20 7,2 7,38 7,6 7,27 7,10 7,33 7,12 7,20 7,22 7,15 7,26 7,14 7,20 7,11 7,24 7,26 7,12 7,16 7,23 7,2 7,24 7,14 7,27 7,15 7,7 7,32 7,5 7,17 7,20 7,11 7,23 7,6 7,25 7,14 7-3 7,28 7,23 7-7 7,25 7,32 7-10 7,7 7,16 7,4 7,24 7,8 7,23 7,4 7,3 7,19 7,14 7,26 7,1 7,17 7-2 7,21 7,4 7,21 7-8 7,31 7,2 7-5 7,26 7,18 7,0 7,8 7,11 7,29 7-4 7,26 7-17 7,22 7,13 7,3 7,11 7,20 7-8 7,21 7,20 7-11 7,8 7,11 7,14 7,19 7-3 7,4 7,16 7,4 7,24 7-2 7,10 7,25 7,10 7,3 7,3 7,7 7,13 7,8 7,9 7,8 7,5 7,9 7,12 7,7 7,13 7,0 7,17 7-6 7,19 7,6 7,15 7,5 7,4 7,9 7,12 7,11 7,0 7,6 7,5 7,2 7,17 7,19 7-6 7,18 7,3 7-8 7,9 7,15 7,7 7,3 7,17 7-8 7,12 7-8 7,26 7-7 7,18 7-4 7,20 7-5 7,15 7,9 7,2 7,3 7,7 7-2 7,12 7,29 7-9 7,17 7-5 7-1 7,18 7,5 7-4 7,8 7-7 7,13 7,4 7-4 7,20 7,2 7,11 7-4 7,0 7,2 7,15 7,9 7,5 7,9 7-5 7-3 7,30 7,4 7-18 7,25 7-7 7,16 7-9 7,6 7,9 7,1 7,11 7,2 7-3 7,10 7,16 7,6 7,2 7,4 7,3 7,9 7-3 7,8 7,2 7,7 7,1 7,16 7-14 7,12 7,4 7,3 7,1 7,6 7,8 7,7 7,13 7-8 7,7 7,4 7-14 7,33 7-9 7-4 7,5 7,2 7,21 7,1 7-6 7,9 7-9 7,13 7,4 7,2 7,8 7,1 7,9 7-1 7,7 7-2 7,15 7,4 7-10 7,5 7,12 7-2 7,9 7-17 7,27 7-18 7,20 7-5 7,8 7,4 7-6 7,4 7,11 7,7 7-17 7,8 7,11 7,6 7-1 7,4 7-4 7,17 7-4 7,8 7-11 7,0 7,15 7-1 7-3 7,14 7,6 7-10 7,6 7,8 7-9 7,11 7,16 7-12 7,5 7-10 7,15 7,4 7-2 7,4 7,13 7-7 7,5 7-9 7-4 7,25 7,2 7,1 7,1 7,3 7-3 7-4 7,18 7,4 7,4 7-17 7,0 7,22 7,2 7-9 7-4 7,2 7,8 7-1 7,4 7,8 7-14 7,14 7,10 7-3 7,10 7-9 7-5 7,18 7-14 7-5 7,13 7,12 7,0 7-1 7,8 7,1 7-4 7,1 7-4 7,14 7-18 7,7 7,3 7,12 7-15 7,16 7-13 7,7 7,15 7-1 7-14 7,7 7,10 7-1 7,1 7,9 7-3 7,5 7,0 7-4 7,11 7-10 7,6 7-3 7,1 7-1 7,6 7,1 7,7 7-3 7,11 7-3 7-5 7,7 7-2 7,12 7-15 7,15 7-5 7,4 7-5 7,10 7,6 7,7 7-9 7,7 7-10 7-4 7,25 7-4 7-10 7-4 7,7 7,1 7,1 7,1 7-6 7,8 7,14 7-4 7-3 7,8 7-2 7,3 7,2 7-8 7,9 7,6 7-1 7-4 7-13 7,14 7-7 7,8 7,19 7-16 7,10 7,4 7,0 7-18 7,24 7-5 7-11 7,4 7,18 7-10 7,4 7-1 7-5 7,10 7,0 7-11 7,23 7-9 7-4 7,13 7-3 7,6 7-9 7,6 7-8 7,0 7,7 7,4 7-3 7,3 7,9 7-14 7,7 7-3 7,16 7-14 7-7 7,11 7,15 7-9 7,2 7-1 7,4 7-4 7,8 7-4 7,8 7-5 7-5 7,11 7-6 7,11 7-2 7,0 7-9 7,15 7-13 7,19 7-7 7-6 7,2 7,13 7,2 7-13 7,15 7-11 7,8 7-2 7-15 7,6 7,6 7,16 7-10 7,2 7,3 7-9 7,21 7-12 7,2 7,7 7-16 7,21 7-8 7,1 7,16 7-4 7-2 7-11 7,0 7,3 7,4 7,17 7-15 7,5 7-10 7,0 7-5 7,11 7,0 7,13 7-6 7,10 7-14 7,15 7-6 7,5 7-1 7-5 7,7 7-4 7,9 7-15 7,14 7-10 7-7 7,32 7-9 7-4 7-9 7,13 7-5 7,8 7-8 7,13 7-13 7,27 7-7 7-24 7,12 7,8 7-20 7,8 7,1 7,11 7-6 7,1 7,16 7-15 7,6 7-9 7,1 7,14 7,1 7-5 7-2 7,8 7-2 7-4 7,2 7-4 7,7 7,9 7,6 7-16 7,8 7,1 7,0 7,10 7-7 7,15 7-14 7,4 7-17 7,10 7,5 7-2 7-3 7,11 7-3 7,2 7-19 7,17 7,15 7-18 7-12 7,25 7-29 7,25 7-7 7,11 7-1 7,7 7,0 7,8 7-22 7,17 7-10 7,1 7,7 7-4 7,2 7,3 7-3 7,1 7,8 7,3 7-3 7-6 7-8 7,0 7,9 7-4 7,7 7-7 7,8 7-1 7,5 7-1 7-13 7,22 7-7 7,4 7-10 7-5 7,15 7,18 7-23 7,1 7,16 7-9 7-1 7,16 7-19 7,2 7,2 7,9 7-2 7,1 7-7 7,10 7-16 7,8 7,18 7-26 7,11 7,6 7-4 7,14 7-14 7,19 7-9 7-16 7,1 7,12 7,5 7-13 7,8 7-2 7-2 7,12 7-12 7,21 7-25 7,22 7-6 7,1 7-9 7,0 7,3 7,0 7,1 7,4 7,13 7,3 7,1 7-15 7,2 7-1 7-2 7,4 7,6 7,4 7,3 7-21 7,3 7,16 7-7 7-5 7-7 7,16 7-5 7-7 7,21 7-6 7-5 7,5 7-19 7,9 7,5 7,9 7-12 7,2 7,8 7,0 7,8 7-9 7-6 7-1 7,3 7-1 7,10 7,0 7-11 7,6 7,9 7-9 7-2 7,2 7,4 7,5 7-6 7-9 7,12 7,6 7-7 7,11 7-9 7,4 7-9 7,7 7-6 7-9 7,18 7,5 7-9 7,5 7-2 7,6 7-8 7,4 7,16 7-13 7-4 7-5 7,12 7,2 7-13 7,13 7-5 7-2 7-1 7,5 7,8 7-14 7,10 7,1 7-17 7,8 7,14 7-4 7-1 7,4 7,8 7-18 7,0 7,4 7,5 7-4 7-2 7,12 7-5 7,2 7-8 7,3 7,11 7-4 7-16 7,19 7-8 7,6 7-12 7,9 7,3 7,5 7-6 7-7 7,1 7,15 7-20 7,13 7,6 7-8 7,5 7,0 7,1 7-3 7,3 7,8 7-15 7,8 7-12 7,5 7,0 7,3 7-7 7,11 7,5 7-9 7,22 7-16 7-4 7,5 7-12 7,5 7,4 7,4 7-10 7,12 7-1 7-8 7,1 7-9 7,15 7,12 7-17 7-4 7,10 7-11 7-2 7,18 7-1 7,5 7-12 7-1 7,1 7,13 7-3 7,5 7,2 7-2 7,2 7-9 7-4 7-1 7,4 7,5 7-4 7-4 7,6 7-2 7,3 7,2 7-4 7,8 7-14 7,18 7-14 7,13 7-20 7,5 7,12 7-2 7,5 7-7 7-3 7-15 7,27 7-17 7,12 7-5 7-4 7,2 7,2 7,4 7-1 7-1 7-7 7,19 7-7 7,6 7-2 7-1 7-13 7-6 7,5 7,18 7-9 7,9 7-11 7-5 7,5 7-2 7,7 7,13 7,1 7-13 7-4 7-5 7,11 7-2 7-1 7-6 7,8 7,8 7-15 7,5 7,0 7,12 7-9 7,12 7,3 7-12 7,1 7-6 7-6 7,10 7-12 7,17 7-9 7,14 7-10 7,4 7-1 7-5 7,17 7-13 7,6 7-6 7-1 7,5 7,0 7,6 7-12 7,9 7-7 7,13 7-19 7,16 7-14 7,11 7-7 7,5 7-5 7,5 7-9 7,5 7,0 7-7 7,17 7-14 7,9 7,11 7-13 7,4 7-12 7,15 7-4 7-1 7,15 7-16 7,10 7-16 7-1 7,11 7,11 7-11 7,0 7-4 7,7 7,7 7-7 7,5 7-18 7,17 7,0 7-4 7,9 7-6 7-1 7,2 7-1 7-10 7,6 7,12 7-6 7-8 7,10 7-5 7,1 7-4 7,5 7,0 7,6 7-9 7,9 7-18 7,13 7,1 7-6 7,6 7-1 7,1 7,5 7,1 7-1 7-12 7,12 7-1 7,0 7-8 7-8 7,20 7-10 7,3 7,3 7-5 7,12 7-14 7,5 7,8 7-17 7,5 7-2 7,18 7-8 7,2 7-8 7-4 7,22 7-13 7,1 7-7 7,7 7,9 7-7 7,5 7-1 7-6 7,4 7-5 7,13 7-26 7,7 7,4 7,14 7,6 7-9 7-4 7-16 7,6 7,13 7-12 7,0 7,9 7-8 7,6 7,7 7,4 7-7 7-8" stroke="#f8d466" stroke-opacity="0.72" stroke-width="63"/>
<path d="M12495,6180l7,16 7,15 7,16 7,16 7,16 7,16 7,16 7,17 7,16 7,16 7,17 7,16 7,17 7,16 7,17 7,16 7,17 7,16 7,17 7,17 7,16 7,17 7,18 7,17 7,18 7,17 7,17 7,17 7,16 7,16 7,14 7,15 7,14 7,14 7,14 7,14 7,14 7,15 7,16 7,16 7,18 7,17 7,18 7,18 7,18 7,18 7,17 7,17 7,16 7,16 7,16 7,16 7,15 7,16 7,15 7,15 7,15 7,15 7,15 7,15 7,15 7,15 7,15 7,14 7,14 7,14 7,14 7,13 7,13 7,12 7,13 7,12 7,12 7,12 7,12 7,12 7,12 7,12 7,13 7,13 7,13 7,13 7,13 7,14 7,13 7,13 7,14 7,13 7,13 7,13 7,13 7,12 7,13 7,12 7,13 7,12 7,12 7,12 7,12 7,12 7,13 7,12 7,12 7,12 7,12 7,12 7,12 7,12 7,12 7,12 7,12 7,12 7,12 7,11 7,11 7,11 7,11 7,11 7,11 7,10 7,11 7,10 7,11 7,10 7,11 7,10 7,11 7,11 7,11 7,11 7,11 7,11 7,11 7,12 7,11 7,11 7,11 7,11 7,11 7,11 7,11 7,11 7,11 7,11 7,11 7,10 7,11 7,10 7,10 7,11 7,10 7,9 7,10 7,10 7,9 7,9 7,9 7,9 7,9 7,9 7,9 7,8 7,9 7,8 7,9 7,8 7,9 7,8 7,8 7,9 7,8 7,8 7,9 7,8 7,9 7,8 7,9 7,8 7,9 7,9 7,9 7,8 7,9 7,10 7,9 7,10 7,10 7,10 7,10 7,10 7,10 7,10 7,10 7,9 7,9 7,8 7,8 7,8 7,7 7,8 7,7 7,6 7,7 7,6 7,7 7,6 7,6 7,7 7,6 7,7 7,7 7,6 7,8 7,7 7,7 7,8 7,8 7,8 7,8 7,8 7,8 7,8 7,8 7,7 7,8 7,8 7,7 7,8 7,7 7,6 7,7 7,7 7,6 7,7 7,6 7,6 7,6 7,7 7,6 7,6 7,6 7,6 7,6 7,7 7,6 7,6 7,7 7,6 7,7 7,6 7,7 7,6 7,7 7,6 7,7 7,6 7,7 7,6 7,7 7,6 7,7 7,6 7,6 7,6 7,6 7,6 7,6 7,6 7,6 7,6 7,6 7,6 7,5 7,6 7,6 7,6 7,5 7,6 7,6 7,5 7,6 7,6 7,5 7,6 7,5 7,6 7,6 7,5 7,6 7,5 7,6 7,5 7,6 7,5 7,6 7,5 7,5 7,6 7,5 7,5 7,6 7,5 7,5 7,5 7,5 7,6 7,5 7,5 7,5 7,5 7,5 7,5 7,5 7,5 7,5 7,5 7,5 7,5 7,5 7,5 7,5 7,5 7,5 7,4 7,5 7,5 7,5 7,4 7,5 7,5 7,4 7,5 7,5 7,4 7,5 7,4 7,5 7,4 7,5 7,4 7,5 7,4 7,4 7,5 7,4 7,4 7,5 7,4 7,4 7,4 7,5 7,4 7,4 7,4 7,4 7,4 7,4 7,4 7,5 7,4 7,4 7,4 7,4 7,4 7,3 7,4 7,4 7,4 7,4 7,4 7,4 7,4 7,3 7,4 7,4 7,4 7,3 7,4 7,4 7,3 7,4 7,4 7,3 7,4 7,3 7,4 7,4 7,3 7,4 7,3 7,3 7,4 7,3 7,4 7,3 7,4 7,3 7,3 7,4 7,3 7,3 7,3 7,4 7,3 7,3 7,4 7,3 7,3 7,3 7,3 7,4 7,3 7,3 7,3 7,3 7,4 7,3 7,3 7,3 7,3 7,3 7,3 7,4 7,3 7,3 7,3 7,3 7,3 7,3 7,3 7,3 7,3 7,3 7,3 7,3 7,3 7,3 7,3 7,3 7,3 7,3 7,3 7,3 7,3 7,3 7,3 7,3 7,3 7,3 7,3 7,3 7,3 7,2 7,3 7,3 7,3 7,3 7,3 7,3 7,2 7,3 7,3 7,3 7,3 7,2 7,3 7,3 7,3 7,2 7,3 7,3 7,3 7,2 7,3 7,3 7,3 7,2 7,3 7,3 7,3 7,2 7,3 7,3 7,2 7,3 7,3 7,2 7,3 7,2 7,3 7,3 7,2 7,3 7,2 7,3 7,3 7,2 7,3 7,2 7,3 7,2 7,2 7,3 7,2 7,3 7,2 7,3 7,2 7,2 7,3 7,2 7,2 7,2 7,3 7,2 7,2 7,2 7,3 7,2 7,2 7,2 7,3 7,2 7,2 7,2 7,2 7,2 7,3 7,2 7,2 7,2 7,2 7,2 7,2 7,2 7,2 7,2 7,2 7,2 7,2 7,2 7,2 7,2 7,2 7,2 7,2 7,2 7,2 7,2 7,2 7,1 7,2 7,2 7,2 7,2 7,1 7,2 7,2 7,2 7,2 7,1 7,2 7,2 7,2 7,1 7,2 7,2 7,1 7,2 7,2 7,2 7,1 7,2 7,2 7,1 7,2 7,2 7,1 7,2 7,1 7,2 7,2 7,1 7,2 7,1 7,2 7,2 7,1 7,2 7,1 7,2 7,2 7,1 7,2 7,1 7,2 7,1 7,2 7,1 7,2 7,1 7,2 7,1 7,2 7,1 7,2 7,1 7,2 7,1 7,2 7,1 7,1 7,2 7,1 7,2 7,1 7,2 7,1 7,1 7,2 7,1 7,2 7,1 7,1 7,2 7,1 7,1 7,2 7,1 7,1 7,2 7,1 7,2 7,1 7,1 7,1 7,2 7,1 7,1 7,2 7,1 7,1 7,2 7,1 7,1 7,1 7,2 7,1 7,1 7,1 7,2 7,1 7,1 7,1 7,2 7,1 7,1 7,1 7,1 7,2 7,1 7,1 7,1 7,1 7,2 7,1 7,1 7,1 7,1 7,1 7,2 7,1 7,1 7,1 7,1 7,1 7,1 7,2 7,1 7,1 7,1 7,1 7,1 7,1 7,1 7,1 7,2 7,1 7,1 7,1 7,1 7,1 7,1 7,1 7,1 7,1 7,1 7,1 7,1 7,1 7,1 7,1 7,1 7,2 7,1 7,1 7,1 7,1 7,1 7,1 7,1 7,1 7,1 7,1 7,1 7,1 7,1 7,0 7,1 7,1 7,1 7,1 7,1 7,1 7,1 7,1 7,1 7,1 7,1 7,1 7,1 7,1 7,1 7,1 7,1 7,0 7,1 7,1 7,1 7,1 7,1 7,1 7,1 7,1 7,1 7,0 7,1 7,1 7,1 7,1 7,1 7,1 7,1 7,0 7,1 7,1 7,1 7,1 7,1 7,1 7,0 7,1 7,1 7,1 7,1 7,1 7,0 7,1 7,1 7,1 7,1 7,0 7,1 7,1 7,1 7,1 7,0 7,1 7,1 7,1 7,1 7,0 7,1 7,1 7,1 7,0 7,1 7,1 7,1 7,0 7,1 7,1 7,1 7,0 7,1 7,1 7,1 7,0 7,1 7,1 7,1 7,0 7,1 7,1 7,0 7,1 7,1 7,1 7,0 7,1 7,1 7,0 7,1 7,1 7,1 7,0 7,1 7,1 7,0 7,1 7,1 7,0 7,1 7,1 7,0 7,1 7,1 7,0 7,1 7,1 7,0 7,1 7,1 7,0 7,1 7,1 7,0 7,1 7,1 7,0 7,1 7,0 7,1 7,1 7,0 7,1 7,1 7,0 7,1 7,1 7,0 7,1 7,0 7,1 7,1 7,0 7,1 7,0 7,1 7,1 7,0 7,1 7,0 7,1 7,1 7,0 7,1 7,0 7,1 7,1 7,0 7,1 7,0 7,1 7,0 7,1 7,1 7,0 7,1 7,0 7,1 7,0 7,1 7,1 7,0 7,1 7,0 7,1 7,0 7,1 7,0 7,1 7,1 7,0 7,1 7,0 7,1 7,0 7,1 7,0 7,1 7,0 7,1 7,0 7,1 7,0 7,1 7,1 7,0 7,1 7,0 7,1 7,0 7,1 7,0 7,1 7,0 7,1 7,0 7,1 7,0 7,1 7,0 7,1 7,0 7,1 7,0 7,1 7,0 7,1 7,0 7,1 7,0 7,1 7,0 7,1 7,0 7,1 7,0 7,1 7,0 7,0 7,1 7,0 7,1 7,0 7,1 7,0 7,1 7,0 7,1 7,0 7,1 7,0 7,1 7,0 7,0 7,1 7,0 7,1 7,0 7,1 7,0 7,1 7,0 7,1 7,0 7,0 7,1 7,0 7,1 7,0 7,1 7,0 7,1 7,0 7,0 7,1 7,0 7,1 7,0 7,1 7,0 7,0 7,1 7,0 7,1 7,0 7,1 7,0 7,0 7,1 7,0 7,1 7,0 7,0 7,1 7,0 7,1 7,0 7,1 7,0 7,0 7,1 7,0 7,1 7,0 7,0 7,1 7,0 7,1 7,0 7,0 7,1 7,0 7,0 7,1 7,0 7,1 7,0 7,0 7,1 7,0 7,1 7,0 7,0 7,1 7,0 7,0 7,1 7,0 7,1 7,0 7,0 7,1 7,0 7,0 7,1 7,0 7,1 7,0 7,0 7,1 7,0 7,0 7,1 7,0 7,0 7,1 7,0 7,0 7,1 7,0 7,1 7,0 7,0 7,1 7,0 7,0 7,1 7,0 7,0 7,1 7,0 7,0 7,1 7,0 7,0 7,1 7,0 7,0 7,1 7,0 7,0 7,1 7,0 7,0 7,1 7,0 7,0 7,1 7,0 7,0 7,1 7,0 7,0 7,1 7,0 7,0 7,1 7,0 7,0 7,1 7,0 7,0 7,0 7,1 7,0 7,0 7,1 7,0 7,0 7,1 7,0 7,0 7,1 7,0 7,0 7,0 7,1 7,0 7,0 7,1 7,0 7,0 7,1 7,0 7,0 7,0 7,1 7,0 7,0 7,1 7,0 7,0 7,0 7,1" stroke="#000" stroke-width="62" stroke-dasharray="62 102" stroke-linecap="butt"/>
<path d="M12495,6180l7,16 7,16 7,17 7,17 7,18 7,18 7,19 7,19 7,20 7,20 7,20 7,20 7,21 7,21 7,21 7,22 7,21 7,22 7,22 7,22 7,22 7,23 7,22 7,22 7,24 7,24 7,26 7,26 7,26 7,25 7,24 7,24 7,24 7,23 7,23 7,22 7,22 7,21 7,19 7,20 7,19 7,18 7,18 7,18 7,17 7,18 7,17 7,16 7,16 7,16 7,16 7,16 7,16 7,16 7,17 7,18 7,17 7,19 7,18 7,18 7,18 7,18 7,18 7,17 7,16 7,16 7,16 7,15 7,15 7,16 7,15 7,15 7,15 7,15 7,15 7,16 7,15 7,15 7,15 7,15 7,15 7,15 7,14 7,14 7,14 7,14 7,14 7,13 7,14 7,13 7,13 7,14 7,13 7,14 7,14 7,14 7,14 7,14 7,15 7,14 7,15 7,14 7,14 7,15 7,14 7,14 7,14 7,14 7,14 7,14 7,13 7,13 7,13 7,13 7,12 7,13 7,12 7,12 7,11 7,12 7,11 7,12 7,11 7,11 7,11 7,11 7,11 7,10 7,11 7,11 7,10 7,11 7,10 7,10 7,10 7,11 7,10 7,10 7,10 7,10 7,10 7,10 7,10 7,10 7,10 7,10 7,10 7,9 7,10 7,9 7,10 7,10 7,9 7,9 7,10 7,9 7,9 7,9 7,10 7,9 7,9 7,9 7,9 7,9 7,8 7,9 7,9 7,9 7,8 7,9 7,9 7,8 7,9 7,8 7,9 7,8 7,8 7,9 7,8 7,8 7,8 7,8 7,9 7,8 7,8 7,8 7,7 7,8 7,8 7,8 7,8 7,7 7,8 7,8 7,7 7,8 7,7 7,8 7,7 7,7 7,7 7,8 7,7 7,7 7,7 7,7 7,7 7,7 7,7 7,6 7,7 7,7 7,7 7,6 7,7 7,7 7,6 7,7 7,6 7,7 7,6 7,7 7,6 7,7 7,6 7,6 7,7 7,6 7,6 7,6 7,7 7,6 7,6 7,6 7,7 7,6 7,6 7,6 7,6 7,6 7,6 7,6 7,6 7,6 7,6 7,6 7,5 7,6 7,6 7,6 7,6 7,5 7,6 7,6 7,5 7,6 7,6 7,5 7,6 7,6 7,5 7,6 7,6 7,5 7,6 7,5 7,6 7,6 7,5 7,6 7,5 7,6 7,6 7,5 7,6 7,6 7,5 7,6 7,6 7,5 7,6 7,5 7,6 7,6 7,5 7,6 7,5 7,6 7,5 7,6 7,5 7,6 7,5 7,5 7,6 7,5 7,5 7,5 7,5 7,6 7,5 7,5 7,5 7,4 7,5 7,5 7,5 7,4 7,5 7,4 7,5 7,4 7,5 7,4 7,4 7,5 7,4 7,4 7,4 7,4 7,4 7,5 7,4 7,4 7,4 7,3 7,4 7,4 7,4 7,4 7,4 7,4 7,3 7,4 7,4 7,4 7,4 7,3 7,4 7,4 7,4 7,3 7,4 7,4 7,3 7,4 7,4 7,4 7,3 7,4 7,4 7,3 7,4 7,4 7,4 7,3 7,4 7,4 7,3 7,4 7,4 7,3 7,4 7,4 7,3 7,4 7,3 7,4 7,4 7,3 7,4 7,3 7,4 7,3 7,4 7,3 7,4 7,3 7,3 7,4 7,3 7,3 7,4 7,3 7,3 7,4 7,3 7,3 7,3 7,3 7,3 7,4 7,3 7,3 7,3 7,3 7,3 7,2 7,3 7,3 7,3 7,3 7,3 7,3 7,2 7,3 7,3 7,3 7,2 7,3 7,3 7,3 7,2 7,3 7,3 7,2 7,3 7,2 7,3 7,3 7,2 7,3 7,2 7,3 7,3 7,2 7,3 7,2 7,3 7,2 7,3 7,2 7,3 7,2 7,3 7,3 7,2 7,3 7,2 7,3 7,2 7,3 7,2 7,3 7,2 7,3 7,2 7,3 7,2 7,3 7,2 7,3 7,2 7,3 7,2 7,3 7,2 7,3 7,2 7,3 7,2 7,2 7,3 7,2 7,3 7,2 7,2 7,3 7,2 7,2 7,2 7,3 7,2 7,2 7,2 7,2 7,3 7,2 7,2 7,2 7,2 7,2 7,2 7,2 7,2 7,2 7,2 7,2 7,2 7,2 7,2 7,2 7,2 7,2 7,2 7,2 7,2 7,2 7,2 7,1 7,2 7,2 7,2 7,2 7,2 7,2 7,1 7,2 7,2 7,2 7,2 7,1 7,2 7,2 7,2 7,1 7,2 7,2 7,2 7,1 7,2 7,2 7,1 7,2 7,2 7,1 7,2 7,2 7,1 7,2 7,1 7,2 7,2 7,1 7,2 7,1 7,2 7,1 7,2 7,2 7,1 7,2 7,1 7,2 7,1 7,2 7,1 7,2 7,1 7,2 7,1 7,1 7,2 7,1 7,2 7,1 7,2 7,1 7,1 7,2 7,1 7,2 7,1 7,1 7,2 7,1 7,1 7,2 7,1 7,1 7,2 7,1 7,1 7,2 7,1 7,1 7,2 7,1 7,1 7,1 7,2 7,1 7,1 7,1 7,2 7,1 7,1 7,1 7,2 7,1 7,1 7,1 7,1 7,2 7,1 7,1 7,1 7,1 7,1 7,2 7,1 7,1 7,1 7,1 7,1 7,2 7,1 7,1 7,1 7,1 7,1 7,1 7,1 7,1 7,2 7,1 7,1 7,1 7,1 7,1 7,1 7,1 7,1 7,1 7,1 7,1 7,1 7,1 7,1 7,2 7,1 7,1 7,1 7,1 7,1 7,1 7,1 7,1 7,1 7,1 7,1 7,1 7,1 7,1 7,1 7,1 7,1 7,1 7,0 7,1 7,1 7,1 7,1 7,1 7,1 7,1 7,1 7,1 7,1 7,1 7,1 7,1 7,1 7,1 7,0 7,1 7,1 7,1 7,1 7,1 7,1 7,1 7,1 7,0 7,1 7,1 7,1 7,1 7,1 7,1 7,1 7,0 7,1 7,1 7,1 7,1 7,1 7,0 7,1 7,1 7,1 7,1 7,1 7,0 7,1 7,1 7,1 7,1 7,0 7,1 7,1 7,1 7,1 7,0 7,1 7,1 7,1 7,1 7,0 7,1 7,1 7,1 7,0 7,1 7,1 7,1 7,1 7,0 7,1 7,1 7,1 7,0 7,1 7,1 7,0 7,1 7,1 7,1 7,0 7,1 7,1 7,1 7,0 7,1 7,1 7,0 7,1 7,1 7,1 7,0 7,1 7,1 7,0 7,1 7,1 7,0 7,1 7,1 7,1 7,0 7,1 7,1 7,0 7,1 7,1 7,0 7,1 7,1 7,0 7,1 7,1 7,0 7,1 7,1 7,0 7,1 7,0 7,1 7,1 7,0 7,1 7,1 7,0 7,1 7,1 7,0 7,1 7,0 7,1 7,1 7,0 7,1 7,1 7,0 7,1 7,0 7,1 7,1 7,0 7,1 7,0 7,1 7,1 7,0 7,1 7,0 7,1 7,1 7,0 7,1 7,0 7,1 7,1 7,0 7,1 7,0 7,1 7,0 7,1 7,1 7,0 7,1 7,0 7,1 7,0 7,1 7,1 7,0 7,1 7,0 7,1 7,0 7,1 7,0 7,1 7,0 7,1 7,1 7,0 7,1 7,0 7,1 7,0 7,1 7,0 7,1 7,0 7,1 7,0 7,1 7,0 7,1 7,0 7,1 7,1 7,0 7,1 7,0 7,1 7,0 7,1 7,0 7,1 7,0 7,1 7,0 7,1 7,0 7,1 7,0 7,1 7,0 7,1 7,0 7,0 7,1 7,0 7,1 7,0 7,1 7,0 7,1 7,0 7,1 7,0 7,1 7,0 7,1 7,0 7,1 7,0 7,0 7,1 7,0 7,1 7,0 7,1 7,0 7,1 7,0 7,1 7,0 7,0 7,1 7,0 7,1 7,0 7,1 7,0 7,0 7,1 7,0 7,1 7,0 7,1 7,0 7,0 7,1 7,0 7,1 7,0 7,1 7,0 7,0 7,1 7,0 7,1 7,0 7,0 7,1 7,0 7,1 7,0 7,0 7,1 7,0 7,1 7,0 7,0 7,1 7,0 7,1 7,0 7,0 7,1 7,0 7,1 7,0 7,0 7,1 7,0 7,0 7,1 7,0 7,1 7,0 7,0 7,1 7,0 7,0 7,1 7,0 7,0 7,1 7,0 7,1 7,0 7,0 7,1 7,0 7,0 7,1 7,0 7,0 7,1 7,0 7,0 7,1 7,0 7,0 7,1 7,0 7,0 7,1 7,0 7,0 7,1 7,0 7,0 7,1 7,0 7,0 7,1 7,0 7,0 7,1 7,0 7,0 7,1 7,0 7,0 7,1 7,0 7,0 7,1 7,0 7,0 7,0 7,1 7,0 7,0 7,1 7,0 7,0 7,1 7,0 7,0 7,1 7,0 7,0 7,0 7,1 7,0 7,0 7,1 7,0 7,0 7,0 7,1 7,0 7,0 7,1 7,0 7,0 7,0 7,1 7,0 7,0 7,1 7,0 7,0 7,0 7,1 7,0 7,0 7,0 7,1 7,0 7,0 7,1 7,0 7,0 7,0 7,1 7,0 7,0 7,0 7,1 7,0 7,0 7,0 7,1 7,0 7,0 7,0 7,1 7,0 7,0 7,0 7,1 7,0 7,0 7,0 7,1 7,0 7,0 7,0 7,1 7,0 7,0 7,0 7,1 7,0 7,0 7,0 7,1 7,0 7,0 7,0 7,0 7,1 7,0 7,0 7,0 7,1 7,0 7,0 7,0 7,1 7,0 7,0 7,0 7,0 7,1 7,0 7,0 7,0 7,1 7,0 7,0 7,0 7,0 7,1 7,0 7,0 7,0 7,0 7,1 7,0 7,0 7,0 7,1 7,0 7,0 7,0 7,0 7,1 7,0 7,0 7,0 7,0 7,1 7,0 7,0 7,0 7,0 7,1" stroke="#000" stroke-width="62" stroke-dasharray="62 102" stroke-linecap="butt"/>
<path d="M12495,6180l7,30 7,31 7,31 7,32 7,32 7,32 7,32 7,33 7,34 7,33 7,34 7,34 7,35 7,34 7,33 7,30 7,29 7,28 7,28 7,27 7,28 7,27 7,28 7,27 7,28 7,28 7,28 7,28 7,29 7,30 7,29 7,27 7,27 7,26 7,25 7,25 7,24 7,25 7,25 7,25 7,25 7,26 7,25 7,25 7,25 7,23 7,24 7,24 7,23 7,22 7,22 7,21 7,20 7,20 7,19 7,18 7,19 7,17 7,18 7,18 7,19 7,18 7,18 7,19 7,18 7,18 7,18 7,18 7,17 7,18 7,17 7,17 7,17 7,18 7,16 7,17 7,17 7,16 7,17 7,16 7,16 7,16 7,16 7,16 7,15 7,16 7,15 7,15 7,15 7,15 7,15 7,15 7,15 7,14 7,15 7,14 7,14 7,15 7,13 7,14 7,14 7,14 7,13 7,13 7,13 7,13 7,13 7,12 7,12 7,13 7,12 7,11 7,12 7,12 7,11 7,11 7,11 7,11 7,11 7,11 7,11 7,11 7,10 7,11 7,10 7,11 7,10 7,10 7,11 7,10 7,10 7,10 7,10 7,10 7,10 7,10 7,10 7,10 7,10 7,10 7,9 7,10 7,9 7,10 7,9 7,10 7,9 7,9 7,10 7,9 7,9 7,9 7,9 7,9 7,9 7,9 7,9 7,9 7,9 7,9 7,9 7,8 7,9 7,9 7,9 7,9 7,8 7,9 7,9 7,9 7,8 7,9 7,9 7,8 7,9 7,8 7,9 7,8 7,8 7,8 7,9 7,8 7,8 7,8 7,8 7,8 7,7 7,8 7,8 7,7 7,8 7,7 7,7 7,7 7,7 7,7 7,7 7,7 7,7 7,6 7,7 7,6 7,7 7,6 7,7 7,6 7,6 7,7 7,6 7,6 7,7 7,6 7,7 7,6 7,7 7,7 7,6 7,7 7,6 7,7 7,6 7,6 7,7 7,6 7,6 7,6 7,5 7,6 7,6 7,5 7,5 7,5 7,5 7,5 7,5 7,4 7,5 7,5 7,4 7,5 7,4 7,5 7,5 7,4 7,5 7,5 7,5 7,4 7,5 7,5 7,6 7,5 7,5 7,5 7,6 7,5 7,5 7,6 7,5 7,5 7,5 7,6 7,5 7,5 7,5 7,4 7,5 7,5 7,4 7,5 7,4 7,5 7,4 7,4 7,5 7,4 7,4 7,4 7,4 7,5 7,4 7,4 7,4 7,4 7,4 7,4 7,4 7,4 7,3 7,4 7,4 7,4 7,4 7,4 7,3 7,4 7,4 7,3 7,4 7,4 7,3 7,4 7,3 7,4 7,4 7,3 7,4 7,3 7,4 7,3 7,4 7,3 7,4 7,3 7,4 7,3 7,3 7,4 7,3 7,3 7,4 7,3 7,3 7,4 7,3 7,3 7,3 7,3 7,4 7,3 7,3 7,3 7,3 7,3 7,3 7,3 7,3 7,2 7,3 7,3 7,3 7,3 7,3 7,2 7,3 7,3 7,3 7,2 7,3 7,3 7,2 7,3 7,3 7,3 7,2 7,3 7,3 7,2 7,3 7,2 7,3 7,3 7,2 7,3 7,2 7,3 7,2 7,3 7,2 7,3 7,2 7,3 7,2 7,2 7,3 7,2 7,2 7,3 7,2 7,2 7,3 7,2 7,2 7,3 7,2 7,2 7,2 7,2 7,3 7,2 7,2 7,2 7,2 7,2 7,2 7,2 7,3 7,2 7,2 7,2 7,2 7,2 7,2 7,2 7,2 7,2 7,2 7,2 7,2 7,2 7,2 7,1 7,2 7,2 7,2 7,2 7,2 7,2 7,2 7,2 7,2 7,1 7,2 7,2 7,2 7,2 7,2 7,1 7,2 7,2 7,2 7,2 7,1 7,2 7,2 7,2 7,1 7,2 7,2 7,2 7,1 7,2 7,2 7,2 7,1 7,2 7,2 7,1 7,2 7,2 7,1 7,2 7,2 7,1 7,2 7,1 7,2 7,2 7,1 7,2 7,1 7,2 7,2 7,1 7,2 7,1 7,2 7,1 7,2 7,1 7,2 7,1 7,2 7,1 7,2 7,1 7,2 7,1 7,2 7,1 7,2 7,1 7,2 7,1 7,2 7,1 7,1 7,2 7,1 7,2 7,1 7,2 7,1 7,1 7,2 7,1 7,1 7,2 7,1 7,1 7,2 7,1 7,1 7,2 7,1 7,1 7,2 7,1 7,1 7,2 7,1 7,1 7,2 7,1 7,1 7,1 7,2 7,1 7,1 7,1 7,2 7,1 7,1 7,1 7,1 7,2 7,1 7,1 7,1 7,1 7,2 7,1 7,1 7,1 7,1 7,2 7,1 7,1 7,1 7,1 7,1 7,1 7,2 7,1 7,1 7,1 7,1 7,1 7,1 7,1 7,1 7,2 7,1 7,1 7,1 7,1 7,1 7,1 7,1 7,1 7,1 7,1 7,1 7,1 7,1 7,1 7,1 7,1 7,1 7,1 7,1 7,1 7,1 7,1 7,1 7,1 7,1 7,1 7,1 7,1 7,1 7,1 7,1 7,1 7,1 7,1 7,1 7,1 7,1 7,1 7,1 7,1 7,0 7,1 7,1 7,1 7,1 7,1 7,1 7,1 7,1 7,1 7,1 7,0 7,1 7,1 7,1 7,1 7,1 7,1 7,1 7,0 7,1 7,1 7,1 7,1 7,1 7,1 7,0 7,1 7,1 7,1 7,1 7,1 7,0 7,1 7,1 7,1 7,1 7,1 7,0 7,1 7,1 7,1 7,1 7,0 7,1 7,1 7,1 7,0 7,1 7,1 7,1 7,1 7,0 7,1 7,1 7,1 7,0 7,1 7,1 7,1 7,0 7,1 7,1 7,1 7,0 7,1 7,1 7,1 7,0 7,1 7,1 7,0 7,1 7,1 7,0 7,1 7,1 7,1 7,0 7,1 7,1 7,0 7,1 7,1 7,0 7,1 7,1 7,0 7,1 7,1 7,0 7,1 7,1 7,0 7,1 7,1 7,0 7,1 7,1 7,0 7,1 7,1 7,0 7,1 7,0 7,1 7,1 7,0 7,1 7,1 7,0 7,1 7,0 7,1 7,1 7,0 7,1 7,0 7,1 7,1 7,0 7,1 7,0 7,1 7,0 7,1 7,1 7,0 7,1 7,0 7,1 7,0 7,1 7,1 7,0 7,1 7,0 7,1 7,0 7,1 7,0 7,1 7,0 7,1 7,1 7,0 7,1 7,0 7,1 7,0 7,1 7,0 7,1 7,0 7,1 7,0 7,1 7,0 7,1 7,0 7,1 7,0 7,1 7,0 7,1 7,0 7,1 7,0 7,1 7,0 7,1 7,0 7,1 7,0 7,1 7,0 7,0 7,1 7,0 7,1 7,0 7,1 7,0 7,1 7,0 7,1 7,0 7,0 7,1 7,0 7,1 7,0 7,1 7,0 7,0 7,1 7,0 7,1 7,0 7,1 7,0 7,0 7,1 7,0 7,1 7,0 7,0 7,1 7,0 7,1 7,0 7,0 7,1 7,0 7,1 7,0 7,0 7,1 7,0 7,1 7,0 7,0 7,1 7,0 7,0 7,1 7,0 7,1 7,0 7,0 7,1 7,0 7,0 7,1 7,0 7,0 7,1 7,0 7,1 7,0 7,0 7,1 7,0 7,0 7,1 7,0 7,0 7,1 7,0 7,0 7,1 7,0 7,0 7,1 7,0 7,0 7,1 7,0 7,0 7,1 7,0 7,0 7,1 7,0 7,0 7,0 7,1 7,0 7,0 7,1 7,0 7,0 7,1 7,0 7,0 7,1 7,0 7,0 7,1 7,0 7,0 7,0 7,1 7,0 7,0 7,1 7,0 7,0 7,0 7,1 7,0 7,0 7,1 7,0 7,0 7,0 7,1 7,0 7,0 7,1 7,0 7,0 7,0 7,1 7,0 7,0 7,1 7,0 7,0 7,0 7,1 7,0 7,0 7,1 7,0 7,0 7,0 7,1 7,0 7,0 7,0 7,1 7,0 7,0 7,0 7,1 7,0 7,0 7,1 7,0 7,0 7,0 7,1 7,0 7,0 7,0 7,1 7,0 7,0 7,0 7,1 7,0 7,0 7,0 7,1 7,0 7,0 7,0 7,1 7,0 7,0 7,0 7,1 7,0 7,0 7,0 7,1 7,0 7,0 7,1 7,0 7,0 7,0 7,0 7,1 7,0 7,0 7,0 7,1 7,0 7,0 7,0 7,1 7,0 7,0 7,0 7,1 7,0 7,0 7,0 7,1 7,0 7,0 7,0 7,1 7,0 7,0 7,0 7,1 7,0 7,0 7,0 7,1 7,0 7,0 7,0 7,1 7,0 7,0 7,0 7,0 7,1 7,0 7,0 7,0 7,1 7,0 7,0 7,0 7,1 7,0 7,0 7,0 7,1 7,0 7,0 7,0 7,1 7,0 7,0 7,0 7,0 7,1 7,0 7,0 7,0 7,1 7,0 7,0 7,0 7,1 7,0 7,0 7,0 7,0 7,1 7,0 7,0 7,0 7,1 7,0 7,0 7,0 7,0 7,1 7,0 7,0 7,0 7,1 7,0 7,0 7,0 7,0 7,1 7,0 7,0 7,0 7,1 7,0 7,0 7,0 7,0 7,1 7,0 7,0 7,0 7,0 7,1 7,0 7,0 7,0 7,1 7,0 7,0 7,0 7,0 7,1 7,0 7,0 7,0 7,0 7,1 7,0 7,0 7,0 7,0 7,1 7,0 7,0 7,0 7,0 7,1 7,0 7,0 7,0 7,0 7,1 7,0 7,0 7,0 7,0 7,1 7,0 7,0 7,0 7,0 7,1 7,0 7,0 7,0 7,0 7,1 7,0 7,0 7,0 7,0 7,1 7,0 7,0 7,0 7,0 7,0 7,1 7,0 7,0 7,0 7,0 7,1 7,0 7,0 7,0 7,0 7,1 7,0 7,0" stroke="#000" stroke-width="62" stroke-dasharray="62 102" stroke-linecap="butt"/>
</g></g>
<rect x="1210.6" y="592.1" width="865.1" height="497.0" fill="none" stroke="#000" stroke-width="2.1" stroke-linejoin="miter"/>
<path d="M1210.6,1072.9 H1196.0 M1210.6,984.1 H1196.0 M1210.6,895.4 H1196.0 M1210.6,806.6 H1196.0 M1210.6,717.9 H1196.0 M1210.6,629.1 H1196.0 M1249.5,1089.1 V1103.7 M1385.8,1089.1 V1103.7 M1522.1,1089.1 V1103.7 M1658.4,1089.1 V1103.7 M1794.7,1089.1 V1103.7 M1931.0,1089.1 V1103.7 M2067.3,1089.1 V1103.7" stroke="#000" stroke-width="2.8" fill="none"/>
<g font-family="'Liberation Sans', Arial, sans-serif" font-size="29.3" fill="#000">
<text x="1181.6" y="1083.3" text-anchor="end">0.0</text>
<text x="1181.6" y="994.5" text-anchor="end">0.2</text>
<text x="1181.6" y="905.8" text-anchor="end">0.4</text>
<text x="1181.6" y="817.0" text-anchor="end">0.6</text>
<text x="1181.6" y="728.3" text-anchor="end">0.8</text>
<text x="1181.6" y="639.5" text-anchor="end">1.0</text>
<text transform="translate(1118.3,840.6) rotate(-90)" text-anchor="middle">Normalized intensity</text>
<text x="1302.0" y="1035.6">80K</text>
</g>
<text x="1063.0" y="598.7" font-family="'Liberation Sans', Arial, sans-serif" font-weight="bold" font-size="33" fill="#000">f</text>
<rect x="1723.6" y="606.7" width="337.5" height="150.5" rx="4.5" ry="4.5" fill="#fff" fill-opacity="0.8" stroke="#cccccc" stroke-width="2.8"/>
<path d="M1734.2,635.4 H1792.4" stroke="#6f4ab8" stroke-opacity="0.72" stroke-width="6.3" stroke-linecap="square"/>
<text font-family="'DejaVu Sans', sans-serif" fill="#000"><tspan x="1814.60" y="642.70" font-size="29.3">1</tspan><tspan x="1838.91" y="642.70" font-size="29.3">×</tspan><tspan x="1869.12" y="642.70" font-size="29.3">1</tspan><tspan x="1887.72" y="642.70" font-size="29.3">0</tspan><tspan x="1906.61" y="631.60" font-size="20.51">1</tspan><tspan x="1919.64" y="631.60" font-size="20.51">4</tspan><tspan x="1988.88" y="631.60" font-size="20.51">−</tspan><tspan x="2006.03" y="631.60" font-size="20.51">3</tspan><tspan x="1942.96" y="642.70" font-size="29.3" font-style="oblique">c</tspan><tspan x="1959.04" y="642.70" font-size="29.3" font-style="oblique">m</tspan></text>
<path d="M1734.2,683.2 H1792.4" stroke="#d27895" stroke-opacity="0.72" stroke-width="6.3" stroke-linecap="square"/>
<text font-family="'DejaVu Sans', sans-serif" fill="#000"><tspan x="1814.60" y="690.50" font-size="29.3">3</tspan><tspan x="1833.21" y="690.50" font-size="29.3">.</tspan><tspan x="1840.88" y="690.50" font-size="29.3">2</tspan><tspan x="1865.19" y="690.50" font-size="29.3">×</tspan><tspan x="1895.40" y="690.50" font-size="29.3">1</tspan><tspan x="1914.01" y="690.50" font-size="29.3">0</tspan><tspan x="1932.89" y="679.40" font-size="20.51">1</tspan><tspan x="1945.92" y="679.40" font-size="20.51">5</tspan><tspan x="2015.16" y="679.40" font-size="20.51">−</tspan><tspan x="2032.32" y="679.40" font-size="20.51">3</tspan><tspan x="1969.24" y="690.50" font-size="29.3" font-style="oblique">c</tspan><tspan x="1985.32" y="690.50" font-size="29.3" font-style="oblique">m</tspan></text>
<path d="M1734.2,731.0 H1792.4" stroke="#f8d466" stroke-opacity="0.72" stroke-width="6.3" stroke-linecap="square"/>
<text font-family="'DejaVu Sans', sans-serif" fill="#000"><tspan x="1814.60" y="738.30" font-size="29.3">1</tspan><tspan x="1833.21" y="738.30" font-size="29.3">.</tspan><tspan x="1842.51" y="738.30" font-size="29.3">9</tspan><tspan x="1866.82" y="738.30" font-size="29.3">×</tspan><tspan x="1897.02" y="738.30" font-size="29.3">1</tspan><tspan x="1915.63" y="738.30" font-size="29.3">0</tspan><tspan x="1934.52" y="727.20" font-size="20.51">1</tspan><tspan x="1947.55" y="727.20" font-size="20.51">6</tspan><tspan x="2016.79" y="727.20" font-size="20.51">−</tspan><tspan x="2033.94" y="727.20" font-size="20.51">3</tspan><tspan x="1970.86" y="738.30" font-size="29.3" font-style="oblique">c</tspan><tspan x="1986.95" y="738.30" font-size="29.3" font-style="oblique">m</tspan></text>
</g>
<g id="panel-g">
<g clip-path="url(#clipg)"><g transform="scale(0.1)" fill="none" stroke-linejoin="round" stroke-linecap="square">
<path d="M12500,11940l7-3 7-83 7,33 7,87 7-18 7,38 7-189 7,55 7,66 7,42 7-85 7,43 7-22 7,89 7,29 7-171 7,181 7-52 7-80 7,225 7-160 7,54 7,26 7-16 7,110 7,81 7-263 7,158 7-65 7-1 7,67 7,2 7-3 7-44 7,85 7-37 7,115 7,22 7-19 7-7 7,5 7-78 7,87 7,65 7-110 7,122 7,12 7,6 7,68 7,62 7-64 7,42 7,49 7-50 7,34 7,38 7,89 7-89 7-109 7,69 7,1 7,83 7-55 7,122 7,0 7-48 7,135 7-80 7-2 7-73 7,161 7-56 7,79 7,6 7,144 7-95 7-116 7,51 7,34 7-128 7,130 7,120 7-50 7,3 7-88 7,164 7-68 7-21 7,120 7-42 7,138 7-114 7,150 7-97 7-113 7,91 7,33 7,6 7-106 7,107 7-17 7,99 7,12 7,48 7-39 7,42 7-86 7,32 7,56 7,37 7,147 7-121 7-40 7-9 7,227 7-28 7-135 7,79 7-35 7,26 7-48 7,150 7-62 7-74 7,53 7,70 7-61 7,21 7,77 7-78 7,12 7,56 7-50 7,128 7-97 7,63 7,52 7-9 7-88 7,105 7-2 7,27 7,18 7-87 7-58 7,58 7,56 7-4 7,70 7,19 7,47 7-132 7,107 7,30 7,6 7-34 7,50 7-21 7,3 7-53 7,148 7-71 7,62 7-3 7-98 7,63 7,63 7-36 7,37 7-49 7,94 7-41 7,46 7-2 7,18 7,34 7-29 7-36 7,91 7-2 7-30 7,67 7-75 7,17 7,162 7-75 7,30 7-88 7,3 7,117 7-17 7-23 7,24 7-47 7-4 7,28 7-17 7,17 7,58 7,27 7,23 7-69 7,5 7,2 7,75 7,11 7-25 7-40 7,52 7,14 7,60 7-55 7,4 7,80 7-124 7,138 7-82 7,63 7-10 7,53 7-3 7-53 7,51 7,15 7-51 7,16 7,34 7,4 7-63 7,98 7-19 7,6 7,94 7,33 7-90 7-28 7,39 7,42 7,12 7-61 7,59 7,68 7-100 7,27 7,1 7-24 7-6 7,42 7,40 7,96 7-105 7,27 7-60 7,8 7,43 7-34 7,72 7,4 7,43 7-18 7-18 7-32 7,87 7-64 7-63 7,172 7-43 7-7 7-38 7-38 7,40 7,62 7,42 7-29 7,5 7-6 7,56 7-101 7,105 7-56 7,26 7,64 7-45 7,8 7,15 7-38 7,62 7-125 7,67 7,94 7,74 7-156 7,50 7,13 7,52 7,26 7,24 7-184 7,47 7,99 7-98 7,165 7-103 7,6 7,72 7-12 7,31 7-40 7-49 7,19 7,30 7-25 7,127 7-154 7,91 7,58 7-34 7,16 7-27 7-4 7,114 7-144 7-15 7,119 7-99 7,14 7,15 7-21 7,129 7-82 7,76 7-134 7,142 7,15 7-92 7,26 7,28 7,1 7-15 7-40 7,103 7-2 7,6 7-16 7,1 7,57 7-60 7,67 7-33 7,1 7,5 7-65 7-2 7,27 7-16 7,79 7-63 7,62 7-7 7,2 7,68 7-25 7-13 7-17 7,24 7,32 7,16 7-41 7,51 7,4 7-38 7-7 7,44 7,41 7-76 7-16 7,52 7,3 7,79 7-119 7,81 7-66 7,55 7-13 7,5 7,65 7-168 7,167 7-60 7,38 7-18 7-58 7,126 7-62 7-21 7,17 7-7 7,45 7,37 7-10 7-31 7-40 7,28 7-54 7,58 7,0 7,3 7,74 7-82 7,65 7-24 7-97 7,135 7-47 7-3 7,9 7,8 7,23 7-90 7,150 7-33 7-88 7,37 7,51 7,8 7-21 7-101 7,81 7,58 7-43 7,35 7-73 7,46 7-31 7,42 7-64 7,62 7,7 7,50 7-18 7-26 7,35 7-103 7,92 7,29 7-58 7,56 7-29 7,20 7,25 7-70 7,48 7-31 7,53 7,40 7-3 7-22 7-9 7-5 7-12 7,63 7-47 7,52 7-15 7-108 7,47 7,59 7-70 7,15 7,21 7-16 7,61 7-1 7,28 7-46 7,65 7-23 7-29 7,35 7-25 7-47 7,97 7-77 7,73 7,11 7-36 7-24 7,61 7,3 7-6 7,12 7-28 7,33 7-12 7-18 7,28 7-48 7,62 7,6 7-89 7,21 7,49 7-22 7,18 7,31 7-36 7,15 7-29 7,103 7-83 7,23 7,30 7-5 7,1 7,32 7-21 7-41 7,76 7-34 7,65 7-54 7-28 7,16 7,0 7,39 7-51 7,49 7-55 7,24 7,21 7-55 7,60 7-41 7,30 7,6 7-29 7,20 7,16 7,5 7-8 7,7 7,14 7,24 7,50 7-74 7,6 7-42 7,25 7-18 7-16 7,57 7,25 7-48 7,44 7-8 7-49 7,29 7-15 7,75 7-39 7-31 7,74 7-42 7-5 7,83 7-114 7,70 7-15 7-52 7,104 7-64 7,28 7-12 7,27 7-63 7,75 7-42 7-3 7,20 7,7 7,2 7-36 7,18 7,17 7,31 7-34 7-9 7,18 7-41 7,98 7-125 7,79 7,29 7,19 7-73 7,10 7,24 7-3 7-5 7,19 7-44 7,17 7,23 7,44 7-83 7,54 7,17 7-64 7,24 7,72 7-8 7-35 7,26 7-29 7-76 7-9 7,86 7-22 7-1 7,30 7,39 7-70 7,37 7-16 7-6 7,43 7-67 7,46 7-3 7,20 7-30 7-7 7,44 7-29 7,29 7,23 7-23 7-25 7,3 7-13 7,50 7-9 7-9 7-13 7,21 7,24 7,17 7-72 7,4 7,48 7-56 7,43 7-13 7-20 7,48 7,9 7,27 7-53 7-3 7-10 7,8 7,15 7-26 7,59 7-37 7-2 7,18 7-47 7,35 7-23 7,13 7,30 7-54 7,22 7,30 7,5 7,25 7-22 7,4 7-11 7,18 7-25 7,19 7,40 7-27 7,11 7,11 7-25 7-29 7,53 7,24 7-46 7-80 7,93 7-21 7,19 7-32 7-14 7,43 7-34 7,59 7-32 7,39 7-36 7,22 7-21 7,36 7-34 7,4 7,19 7,7 7,10 7-19 7-19 7,15 7-6 7-27 7,41 7-15 7-12 7,9 7,4 7,9 7-46 7,52 7,8 7-23 7-25 7,6 7,36 7-19 7,9 7,12 7-14 7,2 7,13 7-38 7,53 7-43 7-16 7,0 7,46 7,13 7,35 7-37 7-60 7,99 7,0 7-57 7,6 7,61 7-42 7-9 7,46 7-59 7,56 7-59 7,24 7,22 7,23 7-30 7-5 7,2 7,12 7-8 7-25 7,43 7-16 7-15 7,13 7-21 7-15 7,46 7-13 7,76 7-61 7-23 7,43 7-57 7,77 7-76 7,45 7,13 7-12 7-4 7,18 7,10 7-20 7-34 7,14 7-21 7,46 7-5 7,0 7-10 7-7 7-29 7,25 7,14 7-27 7,50 7,13 7-45 7,12 7,2 7-18 7,30 7-4 7-11 7-5 7-7 7,20 7-2 7,62 7-83 7,65 7-34 7-58 7,66 7,29 7-72 7,50 7-8 7,1 7-20 7,0 7,21 7-28 7,47 7-35 7,30 7-29 7,31 7-4 7-43 7,59 7,2 7-38 7,19 7,5 7-6 7-50 7,71 7-16 7-10 7,26 7-20 7-11 7,32 7-44 7,51 7-22 7-10 7-63 7,110 7-44 7-49 7,70 7-37 7,20 7,37 7-40 7,29 7-21 7,36 7-48 7,69 7-49 7-31 7,18 7,19 7-2 7,5 7-68 7,61 7,0 7,16 7-5 7-23 7,27 7,5 7-5 7-4 7-11 7,15 7-5 7,12 7-42 7,25 7,9 7-12 7,8 7,33 7-29 7-39 7,25 7-14 7,40 7,18 7-16 7-43 7,51 7-4 7-40 7,29 7,0 7-12 7,7 7,8 7-11 7,21 7-14 7-14 7,37 7-17 7,20 7-40 7,4 7-7 7-1 7,1 7,7 7,31 7-35 7,39 7-67 7,43 7-6 7,39 7-48 7-1 7,57 7-20 7-2 7,5 7-42 7-16 7,68 7-44 7,28 7-33 7,79 7-41 7-34 7,41 7-39 7,35 7-33 7,12 7,21 7,7 7-12 7-26 7,24 7,14 7-81 7,101 7-28 7-15 7,33 7-21 7,9 7,22 7-39 7,33 7-7 7-40 7,48 7-35 7-11 7,4 7,11 7,15 7,24 7-31 7-6 7,20 7,10 7-37 7,39 7-29 7,19 7,24 7-66 7,21 7,2 7,40 7-26 7-8 7,21 7-47 7,74 7-55 7,53 7-6 7-6 7-36 7,26 7-1 7,6 7,11 7-11 7,2 7-12 7,1 7,41 7-35 7-36 7,34 7-8 7,13 7,0 7-12 7,26 7-23 7,30 7-39 7,38 7-43 7-7 7,52 7-45 7,22 7-30 7,33 7-4 7,0 7-30 7,63 7-52 7,13 7,12 7-5 7-22 7,2 7-16 7,46 7,24 7-25 7-7 7,5 7-32 7-20 7,37 7,43 7-55 7,33 7-13 7-15 7,10 7,8 7-6 7-9 7,3 7-28 7,98 7-42 7-4 7-26 7,12 7-12 7,44 7-23 7-16 7,13 7,7 7-12 7-26 7,72 7-70 7,25 7,22 7-29 7,12 7-22 7,39 7-33 7,36 7-23 7-7 7,15 7-14 7,24 7-31 7,30 7,4 7-11 7-1 7,15 7-30 7,17 7-13 7,40 7-3 7-20 7,14 7-16 7-12 7-11 7-6 7,13 7,28 7-23 7,20 7-19 7,30 7-45 7,18 7,13 7,21 7-31 7,16 7-15 7,19 7-3 7-22 7-15 7,51 7-20 7-10 7,10 7,6 7-48 7,55 7-22 7,16 7-7 7,41 7-58 7,20 7,14 7-48 7,36 7,7 7,4 7-35 7,20" stroke="#6f4ab8" stroke-opacity="0.72" stroke-width="63"/>
<path d="M12500,11940l7-53 7,11 7-20 7-24 7-45 7,55 7,8 7-19 7-11 7,64 7-8 7,38 7-28 7,34 7,28 7,27 7,26 7,16 7,36 7,27 7,27 7,4 7,37 7-6 7,74 7-24 7,23 7,10 7,46 7,42 7,11 7-14 7,44 7,22 7,22 7,11 7,21 7,41 7,2 7-8 7,11 7,44 7,25 7-12 7,45 7,35 7,2 7,6 7,4 7,51 7,1 7,31 7-7 7,30 7,17 7,36 7,6 7,16 7,70 7-54 7,32 7,22 7,20 7,12 7,15 7,42 7-6 7,16 7,17 7,39 7-6 7,33 7-11 7,0 7,21 7,34 7,17 7,16 7,1 7,30 7,13 7,45 7-10 7,14 7,11 7-12 7,54 7,14 7-15 7,38 7,2 7,10 7,16 7,26 7-11 7,5 7,52 7,3 7-5 7,31 7,26 7,5 7-5 7,40 7-5 7,12 7,28 7-4 7,12 7,9 7,15 7,49 7-21 7,18 7,8 7,40 7-11 7,21 7,35 7-22 7,42 7,16 7-8 7,26 7-2 7,20 7,4 7,4 7,24 7-2 7,12 7,36 7-12 7,16 7,20 7-1 7,6 7,26 7,45 7-13 7,22 7,15 7,5 7,23 7-14 7,31 7,16 7,1 7,12 7,6 7,19 7,21 7,8 7,43 7,1 7-23 7,29 7-18 7,11 7,51 7-10 7-24 7,59 7-6 7,19 7,10 7,10 7,6 7,0 7,30 7-8 7,26 7-7 7,12 7,24 7-2 7,21 7,11 7-17 7,49 7-21 7,7 7,27 7-13 7,12 7,38 7-14 7,10 7,24 7-8 7,7 7,28 7,25 7-23 7,24 7,21 7-9 7,34 7-18 7-15 7,63 7-34 7,26 7,1 7,14 7-12 7,16 7,18 7,14 7-4 7-12 7,37 7-13 7,8 7,36 7-31 7,21 7-21 7,13 7,32 7,6 7,17 7,11 7-20 7,20 7,9 7,4 7-4 7,3 7,19 7,9 7,3 7-18 7,57 7-5 7-13 7,10 7-7 7,6 7-2 7,40 7-11 7,16 7-9 7,16 7-2 7,25 7-5 7,14 7,3 7,8 7,13 7-20 7,15 7-4 7,31 7,17 7-10 7-1 7-6 7,3 7,3 7,1 7,15 7,12 7,16 7-12 7,19 7,8 7-12 7,10 7-3 7,23 7-17 7,14 7,11 7,12 7,9 7,8 7-28 7,38 7-19 7,16 7,8 7,4 7,1 7-6 7,9 7,11 7,21 7,10 7-37 7,38 7,11 7-26 7,35 7-21 7,3 7,12 7-4 7,32 7,2 7-7 7,3 7,5 7-2 7,18 7,20 7-24 7,12 7-8 7-10 7,27 7-1 7,21 7-16 7,10 7,5 7-3 7,27 7-15 7,5 7-8 7,42 7-15 7-22 7,33 7,4 7-20 7-4 7,30 7,13 7,2 7,2 7,8 7,4 7-7 7,5 7-1 7,8 7,17 7-17 7,9 7,12 7,0 7-3 7,6 7,6 7-6 7,0 7,18 7,1 7,15 7-7 7-4 7-1 7,11 7,6 7,10 7-7 7,17 7-10 7,4 7,13 7-10 7,9 7-6 7,15 7-7 7-9 7,18 7-4 7,18 7,0 7,19 7-15 7,13 7-10 7,25 7-9 7-7 7-1 7,24 7-10 7-28 7,21 7,9 7,33 7-16 7-12 7,5 7,1 7-3 7,12 7-6 7,30 7-41 7,31 7,6 7-19 7,11 7-1 7,19 7-7 7-2 7,21 7-7 7,3 7,3 7,7 7,8 7-15 7,4 7-7 7,15 7,8 7,11 7-14 7,7 7-21 7-1 7,9 7,28 7,7 7-10 7,9 7-21 7,15 7,8 7-2 7-10 7,24 7-13 7,21 7-9 7,6 7-7 7,3 7-8 7,7 7,15 7,9 7-3 7-2 7,0 7,7 7-16 7,4 7,14 7,4 7-1 7,0 7,2 7,17 7-9 7,16 7-17 7-4 7,18 7-10 7,10 7,2 7-24 7,13 7,5 7,11 7-6 7,7 7-4 7,15 7-7 7,5 7,12 7-28 7,10 7,17 7,8 7-5 7,3 7-1 7,10 7-4 7-7 7-2 7,25 7-18 7,11 7,3 7-6 7,5 7-11 7,2 7,11 7,5 7-22 7,1 7,16 7,6 7-9 7-3 7,20 7-20 7,20 7-10 7,16 7-3 7,6 7-3 7-8 7,20 7-5 7-6 7,11 7-22 7,34 7-36 7,32 7-14 7-5 7,12 7,19 7-8 7-2 7-4 7-2 7,0 7-2 7,24 7-17 7,27 7-16 7,13 7,8 7-24 7,10 7-8 7,25 7-2 7-9 7,7 7-6 7,8 7-1 7,8 7-21 7,16 7,10 7-16 7,3 7,4 7,1 7,7 7-1 7,20 7-5 7-1 7-13 7-7 7,14 7,2 7-12 7,15 7-8 7,3 7,18 7-14 7,2 7,14 7,0 7,3 7-23 7-5 7,14 7-7 7,28 7-24 7-4 7,5 7,24 7-17 7,12 7-10 7,17 7-5 7,6 7-8 7,6 7-9 7,3 7,5 7,5 7,4 7-2 7-5 7,6 7,0 7,4 7,1 7,7 7,12 7-21 7,1 7,15 7-25 7,29 7-18 7,7 7,1 7-6 7,3 7,9 7,10 7,3 7-12 7-11 7,7 7,9 7-2 7-2 7-8 7,23 7-12 7,5 7,10 7,3 7-19 7,9 7,6 7-2 7-7 7,9 7-12 7,17 7,6 7-5 7,8 7-4 7-13 7-3 7,10 7,5 7,10 7,2 7-11 7,3 7,7 7,0 7-16 7,6 7,9 7-1 7-8 7,9 7,2 7,16 7,2 7,3 7,4 7-19 7-2 7,11 7-10 7,1 7,5 7,13 7-24 7,2 7,17 7-21 7,18 7,7 7-2 7,13 7-12 7,12 7-23 7,8 7,16 7-16 7,20 7-15 7-2 7,4 7,11 7-8 7,2 7-1 7-12 7,0 7,1 7,20 7,2 7-6 7-3 7,22 7-11 7-20 7,26 7-3 7,1 7-10 7,6 7,3 7,10 7-17 7,6 7,7 7-5 7-6 7,20 7,1 7-4 7,0 7,19 7-20 7-13 7,12 7-10 7,33 7-22 7-12 7-1 7,18 7,4 7-10 7,14 7-6 7,11 7-13 7,1 7-13 7,11 7,10 7-4 7,10 7-10 7,3 7-5 7-3 7,24 7-18 7-3 7,17 7-25 7,22 7-25 7,14 7-1 7,7 7-6 7,18 7-1 7,10 7-20 7,11 7-11 7,1 7,17 7-16 7,4 7,1 7-1 7,4 7,1 7-8 7,17 7,2 7-2 7-14 7,11 7-17 7,41 7-19 7-1 7-5 7-8 7,12 7,8 7-15 7-5 7,34 7-25 7,3 7,10 7-2 7-6 7,3 7,3 7,8 7-12 7,9 7-6 7,6 7-5 7-4 7,4 7-2 7,17 7-15 7,2 7,8 7-3 7,22 7-23 7,5 7,15 7-21 7,9 7-6 7,4 7-5 7,4 7,3 7-5 7-2 7,25 7-18 7,6 7,4 7-18 7,3 7,16 7,1 7-14 7,12 7-2 7,13 7-14 7-9 7,13 7-2 7-14 7,7 7-4 7,7 7-4 7,23 7-6 7,7 7-30 7,17 7,3 7,5 7,3 7,14 7-39 7,19 7-1 7,12 7-10 7-3 7,4 7-5 7,12 7-8 7-4 7,3 7,2 7,4 7,7 7-11 7,7 7,5 7-13 7,19 7-7 7-10 7-1 7,11 7-3 7-4 7,6 7,6 7-9 7,2 7,1 7-7 7,6 7,7 7-5 7-13 7,21 7-3 7,5 7-9 7,13 7-13 7-2 7,13 7,1 7,5 7-11 7,9 7-3 7-2 7,3 7-11 7-6 7,29 7-10 7-7 7,10 7-3 7-6 7-8 7,2 7,11 7-2 7,4 7-1 7,8 7,5 7-11 7-9 7,2 7,20 7-12 7,3 7-6 7,10 7-14 7,8 7-5 7-2 7,22 7-13 7-13 7,12 7-7 7,5 7,7 7-6 7-5 7-1 7-1 7,19 7-14 7,17 7-9 7,1 7-6 7,3 7-7 7,14 7-10 7,4 7,3 7,9 7-13 7,2 7-3 7,7 7,2 7-5 7,0 7-1 7-9 7,19 7-19 7,37 7-29 7,14 7-21 7,22 7-14 7,15 7,2 7-14 7-1 7,12 7-22 7,20 7-14 7,20 7,0 7-8 7,9 7-11 7,20 7-17 7,5 7,4 7-9 7,4 7,2 7-9 7,4 7-1 7-6 7,10 7-6 7,9 7-7 7,1 7,8 7,7 7-1 7-2 7-11 7,5 7,2 7-6 7-1 7-5 7,15 7-8 7-1 7,12 7-7 7,8 7-5 7-5 7,16 7-6 7,0 7-6 7,6 7-8 7,9 7-2 7-8 7,3 7,1 7,2 7-8 7-2 7,13 7,3 7,2 7-20 7,19 7,4 7-11 7-6 7,17 7-8 7,10 7-5 7-17 7,11 7,3 7-2 7-1 7,3 7,8 7,0 7-23 7,20 7-14 7,14 7-14 7,5 7,6 7-15 7,21 7-5 7,5 7-1 7-2 7,4 7-4 7-14 7,24 7-3 7-2 7-3 7-11 7,3 7,2 7,2 7-16 7,26 7,0 7-8 7-1 7,3 7,5 7,3 7-7 7,3 7-1 7,4 7-17 7,7 7-10 7,17 7-4 7,3 7-2 7,2 7-1 7,13 7-11 7-7 7,19 7-11 7-7 7-4 7,9 7-3 7-9 7,3 7,13 7,1 7-11 7,5 7,6 7-2 7-4 7,4 7,1 7,0 7,9 7-23 7,4 7-2 7,12 7-2 7-3 7-2 7,19 7-15 7,10 7-7 7,5 7-17 7,9 7,4 7-10 7,10 7,5 7-4 7,2 7-3 7-5 7,7 7-1" stroke="#d27895" stroke-opacity="0.72" stroke-width="63"/>
<path d="M12500,11940l7-25 7-22 7,3 7,6 7-2 7,10 7-1 7,37 7,15 7,26 7,18 7,41 7,26 7,35 7,36 7,34 7,31 7,20 7,42 7,37 7,34 7,36 7,28 7,31 7,26 7,27 7,44 7,15 7,18 7,41 7,20 7,23 7,20 7,31 7,33 7,23 7,23 7,31 7,16 7,33 7,34 7,22 7,19 7,24 7,20 7,27 7,16 7,32 7,21 7,39 7,23 7,16 7,28 7,20 7,26 7,28 7,8 7,26 7,40 7,16 7,18 7,17 7,26 7,30 7,7 7,28 7,12 7,26 7,16 7,22 7,21 7,29 7,11 7,26 7,30 7,15 7,21 7,15 7,19 7,32 7,8 7,25 7,26 7,7 7,29 7,22 7,6 7,17 7,28 7,7 7,18 7,27 7,1 7,30 7,15 7,33 7-3 7,24 7,8 7,30 7-3 7,13 7,12 7,47 7-8 7,17 7,36 7,0 7,11 7,5 7,29 7,8 7,16 7,11 7,19 7,6 7,13 7,29 7-2 7,26 7,10 7,5 7,20 7,10 7,12 7,15 7,20 7,15 7,2 7,11 7,15 7,16 7,5 7,17 7,20 7,1 7,10 7,9 7,21 7,10 7,4 7,15 7,7 7,4 7,13 7,0 7,19 7,0 7,13 7,0 7,25 7,9 7,0 7,20 7,8 7,4 7,7 7,20 7-2 7,11 7,7 7,6 7,10 7,0 7,12 7,12 7,6 7,1 7,10 7,4 7,17 7,5 7-4 7,21 7-4 7,13 7,16 7,14 7-5 7,16 7,7 7,14 7-11 7,14 7,8 7,5 7,8 7,8 7,5 7,12 7,21 7-14 7,9 7,9 7-4 7,26 7,16 7-22 7,13 7,20 7-2 7,0 7,18 7-6 7-4 7,11 7,15 7,4 7,14 7-1 7,9 7,10 7,8 7-15 7,17 7,13 7,2 7-7 7,5 7,20 7,0 7,2 7,13 7,11 7,4 7-1 7,10 7,9 7-2 7-2 7,7 7,11 7-9 7,23 7,0 7,14 7-9 7,11 7,14 7,0 7-12 7,12 7,8 7,0 7,21 7-1 7,8 7,2 7,1 7-1 7,2 7,4 7-6 7,24 7,2 7,1 7,13 7,0 7,0 7,13 7-5 7-1 7,20 7,11 7-11 7,11 7-4 7,8 7,0 7-2 7,6 7,11 7,9 7,13 7,1 7-5 7-2 7,9 7,3 7,10 7,4 7,5 7-12 7,20 7-13 7,14 7-6 7,5 7,0 7,1 7,16 7,5 7,0 7,5 7-5 7,8 7,2 7,1 7,9 7-7 7,22 7-10 7,2 7,11 7,2 7-7 7,11 7,13 7,0 7-12 7,15 7-11 7,2 7,13 7-2 7,12 7,0 7,5 7-6 7,15 7-5 7,2 7,0 7,19 7,1 7-4 7-1 7,0 7,2 7-9 7,11 7,3 7,10 7-6 7,3 7,3 7,7 7-2 7-4 7,18 7,11 7-17 7,3 7,8 7,4 7-18 7,23 7,7 7-3 7-4 7,9 7,1 7-2 7,7 7-2 7,3 7,9 7-5 7,10 7-12 7,14 7-2 7,12 7-7 7,7 7-16 7,13 7-3 7,17 7-2 7-5 7,10 7-14 7,11 7-2 7,1 7,5 7-4 7,11 7-5 7-4 7,8 7,2 7,5 7-1 7-2 7,7 7,11 7-10 7,4 7-3 7,5 7-8 7,19 7,0 7-9 7,12 7-7 7,4 7,14 7-15 7-3 7,9 7,11 7-12 7,13 7-4 7-2 7,9 7,7 7-8 7,1 7,6 7,1 7-8 7,7 7,3 7,3 7-4 7,2 7,3 7,9 7-5 7,3 7-3 7-5 7,2 7,3 7,5 7,4 7-3 7,7 7,0 7,5 7-4 7,1 7-10 7,9 7,7 7-6 7,9 7-8 7,3 7-12 7,26 7-5 7,1 7-1 7-2 7,12 7,0 7-5 7-3 7,14 7,4 7-16 7,3 7,0 7,14 7-4 7-1 7-1 7,5 7,1 7-6 7,10 7,2 7,0 7,2 7-3 7,3 7,3 7-11 7,8 7,5 7-8 7,12 7-2 7,1 7,4 7,0 7-2 7,11 7-6 7-3 7,1 7,1 7-12 7,12 7,6 7,1 7,0 7-2 7,6 7-10 7,17 7-10 7,2 7,11 7-10 7,1 7,9 7-18 7,11 7,8 7,1 7,3 7-5 7,2 7,10 7-1 7-2 7-1 7,1 7,3 7-7 7-1 7,6 7,15 7-12 7-3 7,5 7-2 7,2 7,11 7,7 7-18 7,8 7-5 7,5 7,0 7-9 7,17 7-6 7,7 7-6 7-2 7,0 7,4 7,10 7-9 7-3 7,0 7-6 7,10 7,11 7-3 7-3 7-5 7,15 7-12 7,2 7,10 7-8 7,9 7-4 7,3 7-3 7,10 7-10 7,17 7-10 7,2 7-12 7,7 7,7 7,3 7-5 7,5 7-17 7,31 7-16 7,16 7-21 7,12 7-14 7,14 7-9 7,6 7-5 7,8 7,19 7-14 7,6 7-14 7,3 7,4 7-2 7,2 7,5 7-14 7,11 7,3 7,9 7-5 7-3 7,2 7,2 7-2 7,7 7-6 7,10 7-3 7,0 7-9 7,3 7,3 7,8 7-4 7-7 7-2 7,17 7-5 7-3 7-1 7,3 7-4 7,14 7-18 7,17 7-6 7-2 7-4 7,2 7,1 7-2 7,10 7-5 7-4 7,14 7,5 7-2 7-14 7,1 7,11 7-3 7-1 7-3 7,18 7-7 7-1 7-3 7,2 7,3 7-3 7,18 7-34 7,14 7,0 7,10 7-6 7-9 7,2 7,11 7,9 7-8 7,3 7-7 7,14 7-6 7-2 7,5 7-9 7,14 7,1 7-5 7-7 7,8 7,2 7-8 7,4 7,5 7-3 7,3 7-5 7,3 7,7 7-2 7,0 7-4 7,0 7,8 7-3 7-3 7-4 7,6 7-10 7,12 7-4 7,7 7,5 7-7 7-1 7,1 7,2 7,3 7,3 7-2 7-5 7-2 7,27 7-24 7-3 7,0 7,6 7-2 7,8 7-2 7-3 7,10 7-1 7-6 7,10 7-8 7,10 7-10 7,1 7,4 7,3 7-2 7,11 7-11 7-3 7-6 7,11 7-2 7-9 7-2 7,14 7-9 7,0 7,4 7,10 7,0 7-9 7-10 7,15 7-10 7-2 7,20 7-3 7-13 7,4 7,3 7,3 7-3 7,8 7-19 7,23 7,4 7-11 7-8 7,12 7-2 7,6 7-5 7,6 7,0 7,3 7-5 7-15 7,13 7-2 7-12 7,18 7,3 7-9 7,11 7-9 7-5 7,14 7-3 7-14 7,18 7-2 7-6 7,4 7,4 7-15 7,14 7-6 7,5 7-1 7,8 7-14 7,8 7-10 7,16 7-4 7-6 7,3 7,5 7-3 7,7 7-8 7,17 7-17 7-7 7,3 7,0 7,8 7-5 7,6 7-2 7,1 7,20 7-26 7,3 7-2 7,11 7-10 7,2 7,17 7-3 7-11 7,5 7-4 7,4 7-13 7,21 7-3 7-2 7,3 7-5 7-3 7,8 7-10 7-6 7,2 7-6 7,6 7,7 7-11 7,7 7-7 7,13 7,12 7-6 7-8 7-2 7,5 7-7 7,13 7-2 7-11 7,6 7,0 7-8 7,3 7,11 7-6 7,12 7-10 7-2 7,13 7-20 7-3 7,10 7-3 7-3 7,11 7-8 7,5 7,12 7-4 7-2 7-10 7,6 7-5 7,9 7,5 7-20 7-4 7,14 7,4 7-8 7,14 7-5 7,8 7-12 7,1 7,5 7,1 7,6 7-4 7-13 7,10 7-10 7,14 7-5 7,3 7-2 7-6 7,18 7-17 7,0 7,5 7-1 7,2 7-5 7,4 7,6 7-6 7-5 7,4 7,2 7-1 7,5 7,0 7,9 7-11 7-7 7,9 7,3 7-11 7,5 7,0 7-2 7-1 7,5 7,5 7-16 7,11 7,5 7-6 7-6 7,16 7-16 7,9 7-13 7,8 7,5 7-8 7,0 7,10 7-3 7,5 7-9 7,14 7-7 7,12 7-16 7,17 7-7 7-8 7,4 7,1 7,3 7-3 7,8 7-12 7-3 7,1 7,5 7-8 7,5 7-3 7,4 7,2 7,5 7,12 7-20 7,5 7-13 7,25 7-18 7,12 7-6 7,6 7-8 7,3 7-6 7,5 7-2 7-4 7,4 7,5 7-9 7,9 7-3 7,4 7,3 7,14 7-22 7,11 7-11 7-6 7,19 7-13 7,6 7-3 7,10 7-7 7-1 7-7 7-5 7,12 7,4 7-15 7,14 7,0 7-1 7-2 7-1 7,8 7-3 7-12 7,2 7,8 7,1 7,3 7-7 7,9 7-3 7,3 7,2 7-4 7,0 7,4 7-3 7-1 7,4 7,1 7-3 7-5 7-2 7,6 7,3 7-1 7-12 7,6 7,12 7-5 7,3 7-1 7,8 7-10 7,9 7-5 7-12 7,3 7,12 7,1 7,0 7,6 7-6 7-4 7,5 7-11 7,6 7,3 7-14 7,7 7,4 7-11 7,4 7,12 7-6 7,5 7,6 7-20 7,3 7,17 7-11 7,14 7-17 7,7 7,2 7-9 7,8 7,2 7-7 7,7 7-7 7,6 7-5 7,2 7-1 7,11 7-17 7,12 7-11 7,14 7-1 7,0 7-9 7,10 7-5 7,13 7-7 7-4 7,2 7,12 7-15 7,9 7-17 7,13 7-15 7,10 7,2 7,6 7-2 7-4 7,15 7-18 7,14 7-5 7,15 7-19 7-2 7,3 7,0 7,5 7-3 7-7 7,11 7-6 7-1 7,6 7-3 7,1 7,4 7-18 7,18 7-13 7,4 7,20 7-14 7-5 7,2 7,11 7-7 7,9 7-1 7-4 7-3 7-9" stroke="#f8d466" stroke-opacity="0.72" stroke-width="63"/>
<path d="M12500,11683l7,12 7,16 7,20 7,22 7,24 7,24 7,23 7,21 7,18 7,17 7,16 7,16 7,15 7,15 7,14 7,14 7,14 7,13 7,13 7,13 7,13 7,13 7,13 7,13 7,13 7,13 7,13 7,13 7,14 7,14 7,14 7,13 7,14 7,14 7,14 7,14 7,14 7,14 7,15 7,14 7,15 7,14 7,15 7,15 7,16 7,15 7,15 7,15 7,15 7,14 7,15 7,14 7,14 7,14 7,14 7,14 7,13 7,14 7,14 7,14 7,13 7,14 7,14 7,14 7,13 7,14 7,14 7,13 7,14 7,13 7,14 7,13 7,13 7,13 7,12 7,13 7,13 7,12 7,13 7,13 7,12 7,13 7,12 7,13 7,12 7,13 7,12 7,13 7,12 7,12 7,13 7,12 7,12 7,12 7,13 7,12 7,12 7,12 7,12 7,12 7,12 7,12 7,12 7,12 7,12 7,12 7,11 7,12 7,12 7,11 7,12 7,11 7,12 7,11 7,11 7,12 7,11 7,11 7,11 7,11 7,11 7,11 7,11 7,11 7,11 7,11 7,11 7,11 7,10 7,11 7,10 7,10 7,10 7,10 7,10 7,10 7,9 7,9 7,10 7,9 7,9 7,10 7,9 7,9 7,10 7,9 7,10 7,9 7,10 7,9 7,10 7,9 7,10 7,10 7,9 7,10 7,9 7,10 7,9 7,10 7,10 7,9 7,10 7,10 7,9 7,10 7,10 7,9 7,10 7,9 7,10 7,9 7,9 7,9 7,9 7,9 7,9 7,8 7,9 7,8 7,8 7,9 7,8 7,8 7,8 7,8 7,8 7,9 7,8 7,8 7,8 7,8 7,8 7,8 7,8 7,8 7,8 7,8 7,8 7,8 7,8 7,8 7,8 7,7 7,8 7,8 7,8 7,7 7,8 7,7 7,8 7,7 7,8 7,7 7,8 7,7 7,8 7,7 7,7 7,8 7,7 7,8 7,7 7,8 7,7 7,8 7,7 7,8 7,7 7,8 7,7 7,8 7,7 7,7 7,8 7,7 7,7 7,7 7,7 7,7 7,6 7,7 7,7 7,6 7,7 7,7 7,6 7,7 7,6 7,7 7,6 7,6 7,7 7,6 7,6 7,6 7,6 7,6 7,6 7,6 7,6 7,6 7,6 7,6 7,5 7,6 7,6 7,6 7,5 7,6 7,6 7,6 7,6 7,6 7,5 7,6 7,6 7,6 7,6 7,5 7,6 7,6 7,6 7,6 7,5 7,6 7,6 7,6 7,6 7,6 7,5 7,6 7,6 7,6 7,6 7,6 7,6 7,6 7,6 7,6 7,6 7,6 7,6 7,5 7,6 7,6 7,5 7,6 7,5 7,5 7,5 7,5 7,5 7,5 7,5 7,5 7,5 7,4 7,5 7,5 7,4 7,5 7,5 7,4 7,5 7,4 7,5 7,5 7,4 7,5 7,5 7,4 7,5 7,5 7,4 7,5 7,5 7,4 7,5 7,4 7,5 7,5 7,4 7,5 7,4 7,5 7,4 7,4 7,5 7,4 7,4 7,5 7,4 7,4 7,4 7,5 7,4 7,4 7,4 7,4 7,4 7,5 7,4 7,4 7,4 7,4 7,4 7,4 7,5 7,4 7,4 7,5 7,4 7,4 7,5 7,4 7,5 7,4 7,4 7,5 7,4 7,4 7,4 7,4 7,4 7,4 7,4 7,4 7,3 7,4 7,3 7,3 7,4 7,3 7,3 7,3 7,3 7,3 7,2 7,3 7,3 7,3 7,3 7,3 7,3 7,2 7,3 7,3 7,3 7,3 7,4 7,3 7,3 7,3 7,3 7,3 7,3 7,4 7,3 7,3 7,3 7,3 7,4 7,3 7,3 7,3 7,3 7,4 7,3 7,3 7,3 7,3 7,4 7,3 7,3 7,3 7,3 7,4 7,3 7,3 7,3 7,3 7,4 7,3 7,3 7,3 7,3 7,4 7,3 7,3 7,3 7,3 7,3 7,4 7,3 7,3 7,3 7,3 7,3 7,3 7,4 7,3 7,3 7,3 7,3 7,3 7,3 7,3 7,3 7,3 7,3 7,3 7,3 7,3 7,4 7,3 7,3 7,3 7,3 7,2 7,3 7,3 7,3 7,3 7,3 7,3 7,3 7,3 7,3 7,3 7,3 7,2 7,3 7,3 7,3 7,3 7,3 7,2 7,3 7,3 7,3 7,2 7,3 7,3 7,3 7,2 7,3 7,3 7,2 7,3 7,3 7,2 7,3 7,2 7,3 7,3 7,2 7,3 7,2 7,3 7,2 7,3 7,2 7,3 7,2 7,3 7,2 7,3 7,2 7,2 7,3 7,2 7,2 7,3 7,2 7,2 7,3 7,2 7,2 7,3 7,2 7,2 7,2 7,2 7,3 7,2 7,2 7,2 7,2 7,2 7,2 7,3 7,2 7,2 7,2 7,2 7,2 7,2 7,2 7,2 7,2 7,2 7,1 7,2 7,2 7,2 7,2 7,2 7,2 7,2 7,2 7,1 7,2 7,2 7,2 7,2 7,1 7,2 7,2 7,2 7,2 7,1 7,2 7,2 7,2 7,1 7,2 7,2 7,2 7,1 7,2 7,2 7,1 7,2 7,2 7,2 7,1 7,2 7,1 7,2 7,2 7,1 7,2 7,2 7,1 7,2 7,2 7,1 7,2 7,1 7,2 7,1 7,2 7,2 7,1 7,2 7,1 7,2 7,1 7,2 7,1 7,2 7,1 7,2 7,1 7,2 7,1 7,2 7,1 7,2 7,1 7,2 7,1 7,2 7,1 7,1 7,2 7,1 7,2 7,1 7,1 7,2 7,1 7,2 7,1 7,1 7,2 7,1 7,2 7,1 7,1 7,2 7,1 7,1 7,2 7,1 7,1 7,2 7,1 7,1 7,1 7,2 7,1 7,1 7,2 7,1 7,1 7,1 7,2 7,1 7,1 7,1 7,2 7,1 7,1 7,1 7,2 7,1 7,1 7,1 7,1 7,2 7,1 7,1 7,1 7,1 7,1 7,2 7,1 7,1 7,1 7,1 7,1 7,2 7,1 7,1 7,1 7,1 7,1 7,1 7,1 7,2 7,1 7,1 7,1 7,1 7,1 7,1 7,1 7,1 7,1 7,1 7,1 7,1 7,1 7,2 7,1 7,1 7,1 7,1 7,1 7,1 7,1 7,1 7,1 7,1 7,1 7,1 7,1 7,1 7,1 7,1 7,1 7,1 7,1 7,1 7,1 7,1 7,1 7,0 7,1 7,1 7,1 7,1 7,1 7,1 7,1 7,1 7,1 7,1 7,1 7,1 7,1 7,0 7,1 7,1 7,1 7,1 7,1 7,1 7,1 7,1 7,0 7,1 7,1 7,1 7,1 7,1 7,1 7,0 7,1 7,1 7,1 7,1 7,1 7,0 7,1 7,1 7,1 7,1 7,0 7,1 7,1 7,1 7,1 7,1 7,0 7,1 7,1 7,1 7,1 7,0 7,1 7,1 7,1 7,0 7,1 7,1 7,1 7,0 7,1 7,1 7,1 7,1 7,0 7,1 7,1 7,0 7,1 7,1 7,1 7,0 7,1 7,1 7,1 7,0 7,1 7,1 7,1 7,0 7,1 7,1 7,0 7,1 7,1 7,0 7,1 7,1 7,1 7,0 7,1 7,1 7,0 7,1 7,1 7,0 7,1 7,1 7,0 7,1 7,1 7,0 7,1 7,1 7,0 7,1 7,1 7,0 7,1 7,1 7,0 7,1 7,0 7,1 7,1 7,0 7,1 7,1 7,0 7,1 7,1 7,0 7,1 7,0 7,1 7,1 7,0 7,1 7,0 7,1 7,1 7,0 7,1 7,0 7,1 7,1 7,0 7,1 7,0 7,1 7,1 7,0 7,1 7,0 7,1 7,0 7,1 7,1 7,0 7,1 7,0 7,1 7,0 7,1 7,0 7,1 7,1 7,0 7,1 7,0 7,1 7,0 7,1 7,0 7,1 7,0 7,1 7,0 7,1 7,0 7,1 7,1 7,0 7,1 7,0 7,1 7,0 7,1 7,0 7,1 7,0 7,1 7,0 7,1 7,0 7,1 7,0 7,1 7,0 7,1 7,0 7,1 7,0 7,1 7,0 7,1 7,0 7,0 7,1 7,0 7,1 7,0 7,1 7,0 7,1 7,0 7,1 7,0 7,1 7,0 7,1 7,0 7,0 7,1 7,0 7,1 7,0 7,1 7,0 7,1 7,0 7,0 7,1 7,0 7,1 7,0 7,1 7,0 7,0 7,1 7,0 7,1 7,0 7,1 7,0 7,0 7,1 7,0 7,1 7,0 7,0 7,1 7,0 7,1 7,0 7,0 7,1 7,0 7,1 7,0 7,0 7,1 7,0 7,1 7,0 7,0 7,1 7,0 7,1 7,0 7,0 7,1 7,0 7,0 7,1 7,0 7,1 7,0 7,0 7,1 7,0 7,0 7,1 7,0 7,1 7,0 7,0 7,1 7,0 7,0 7,1 7,0 7,0 7,1 7,0 7,1 7,0 7,0 7,1 7,0 7,0 7,1 7,0 7,0 7,1 7,0 7,0 7,1 7,0 7,0 7,1 7,0 7,0 7,1 7,0 7,0 7,1 7,0 7,0 7,1 7,0 7,0 7,1 7,0 7,0 7,1 7,0 7,0 7,1 7,0 7,0 7,0 7,1 7,0 7,0 7,1 7,0 7,0 7,1 7,0 7,0 7,1 7,0 7,0 7,0 7,1 7,0 7,0 7,1 7,0 7,0 7,1 7,0 7,0 7,0 7,1 7,0 7,0 7,1 7,0 7,0 7,0 7,1 7,0 7,0 7,0 7,1 7,0 7,0 7,1 7,0 7,0 7,0 7,1 7,0 7,0 7,1 7,0 7,0 7,0 7,1 7,0 7,0 7,0 7,1 7,0 7,0 7,0 7,1 7,0 7,0 7,0 7,1 7,0 7,0 7,0 7,1 7,0 7,0 7,0 7,1 7,0 7,0 7,0 7,1 7,0 7,0" stroke="#000" stroke-width="62" stroke-dasharray="62 102" stroke-linecap="butt"/>
<path d="M12500,11683l7,17 7,19 7,19 7,20 7,20 7,21 7,22 7,22 7,23 7,24 7,25 7,26 7,26 7,26 7,26 7,25 7,26 7,25 7,26 7,26 7,25 7,25 7,25 7,25 7,25 7,24 7,23 7,24 7,23 7,22 7,23 7,22 7,21 7,22 7,21 7,20 7,21 7,20 7,19 7,20 7,20 7,20 7,20 7,20 7,21 7,20 7,21 7,20 7,20 7,19 7,19 7,18 7,18 7,17 7,18 7,17 7,18 7,18 7,18 7,18 7,20 7,19 7,19 7,19 7,19 7,18 7,18 7,17 7,16 7,16 7,16 7,15 7,15 7,15 7,15 7,15 7,16 7,15 7,15 7,15 7,15 7,16 7,15 7,15 7,14 7,15 7,15 7,14 7,14 7,14 7,14 7,14 7,14 7,14 7,13 7,14 7,13 7,14 7,13 7,13 7,13 7,13 7,12 7,13 7,12 7,13 7,12 7,13 7,12 7,13 7,12 7,13 7,13 7,12 7,13 7,12 7,12 7,12 7,12 7,12 7,11 7,11 7,11 7,10 7,10 7,10 7,10 7,10 7,10 7,10 7,10 7,10 7,10 7,11 7,11 7,12 7,11 7,12 7,12 7,12 7,12 7,12 7,12 7,12 7,11 7,11 7,11 7,10 7,10 7,10 7,10 7,9 7,10 7,10 7,9 7,9 7,9 7,9 7,9 7,9 7,9 7,9 7,9 7,9 7,8 7,9 7,8 7,8 7,8 7,9 7,8 7,8 7,8 7,9 7,8 7,8 7,9 7,8 7,9 7,8 7,9 7,8 7,9 7,8 7,8 7,9 7,8 7,8 7,8 7,8 7,8 7,8 7,8 7,7 7,8 7,8 7,7 7,8 7,7 7,8 7,7 7,7 7,8 7,7 7,7 7,7 7,7 7,7 7,7 7,7 7,7 7,7 7,6 7,7 7,7 7,6 7,7 7,6 7,7 7,6 7,7 7,6 7,7 7,6 7,6 7,7 7,6 7,6 7,7 7,6 7,6 7,6 7,7 7,6 7,6 7,6 7,6 7,6 7,6 7,6 7,6 7,5 7,6 7,6 7,6 7,5 7,6 7,6 7,5 7,6 7,6 7,5 7,6 7,5 7,6 7,5 7,5 7,5 7,6 7,5 7,5 7,5 7,5 7,5 7,5 7,5 7,4 7,5 7,5 7,4 7,5 7,5 7,4 7,5 7,5 7,4 7,5 7,5 7,5 7,4 7,5 7,5 7,5 7,5 7,5 7,5 7,5 7,5 7,4 7,5 7,5 7,5 7,5 7,5 7,5 7,4 7,5 7,5 7,4 7,5 7,4 7,5 7,4 7,4 7,5 7,4 7,5 7,4 7,4 7,5 7,4 7,4 7,4 7,4 7,5 7,4 7,4 7,4 7,4 7,4 7,4 7,4 7,4 7,4 7,4 7,4 7,4 7,4 7,4 7,4 7,4 7,3 7,4 7,4 7,4 7,4 7,3 7,4 7,4 7,3 7,4 7,3 7,4 7,4 7,3 7,4 7,3 7,4 7,3 7,4 7,3 7,3 7,4 7,3 7,3 7,4 7,3 7,3 7,3 7,4 7,3 7,3 7,3 7,3 7,4 7,3 7,3 7,3 7,3 7,3 7,3 7,3 7,3 7,3 7,3 7,3 7,3 7,3 7,3 7,3 7,3 7,3 7,3 7,2 7,3 7,3 7,3 7,3 7,3 7,2 7,3 7,3 7,3 7,3 7,2 7,3 7,3 7,2 7,3 7,3 7,2 7,3 7,3 7,2 7,3 7,3 7,2 7,3 7,2 7,3 7,2 7,3 7,2 7,3 7,2 7,3 7,2 7,3 7,2 7,3 7,2 7,3 7,2 7,3 7,2 7,2 7,3 7,2 7,2 7,3 7,2 7,2 7,3 7,2 7,2 7,3 7,2 7,2 7,2 7,3 7,2 7,2 7,2 7,2 7,3 7,2 7,2 7,2 7,2 7,2 7,3 7,2 7,2 7,2 7,2 7,2 7,2 7,2 7,2 7,2 7,2 7,2 7,3 7,2 7,2 7,2 7,2 7,2 7,1 7,2 7,2 7,2 7,2 7,2 7,2 7,2 7,2 7,2 7,2 7,2 7,2 7,1 7,2 7,2 7,2 7,2 7,2 7,1 7,2 7,2 7,2 7,2 7,1 7,2 7,2 7,2 7,2 7,1 7,2 7,2 7,1 7,2 7,2 7,2 7,1 7,2 7,2 7,1 7,2 7,2 7,1 7,2 7,2 7,1 7,2 7,2 7,1 7,2 7,1 7,2 7,2 7,1 7,2 7,1 7,2 7,1 7,2 7,1 7,2 7,2 7,1 7,2 7,1 7,2 7,1 7,2 7,1 7,2 7,1 7,1 7,2 7,1 7,2 7,1 7,2 7,1 7,2 7,1 7,1 7,2 7,1 7,2 7,1 7,1 7,2 7,1 7,2 7,1 7,1 7,2 7,1 7,1 7,2 7,1 7,1 7,2 7,1 7,1 7,2 7,1 7,1 7,1 7,2 7,1 7,1 7,2 7,1 7,1 7,1 7,2 7,1 7,1 7,1 7,2 7,1 7,1 7,1 7,1 7,2 7,1 7,1 7,1 7,1 7,2 7,1 7,1 7,1 7,1 7,1 7,2 7,1 7,1 7,1 7,1 7,1 7,1 7,1 7,2 7,1 7,1 7,1 7,1 7,1 7,1 7,1 7,1 7,1 7,2 7,1 7,1 7,1 7,1 7,1 7,1 7,1 7,1 7,1 7,1 7,1 7,1 7,1 7,1 7,1 7,1 7,1 7,1 7,1 7,1 7,1 7,1 7,1 7,1 7,1 7,1 7,1 7,1 7,1 7,1 7,1 7,1 7,1 7,1 7,1 7,1 7,1 7,0 7,1 7,1 7,1 7,1 7,1 7,1 7,1 7,1 7,1 7,1 7,0 7,1 7,1 7,1 7,1 7,1 7,1 7,1 7,0 7,1 7,1 7,1 7,1 7,1 7,1 7,0 7,1 7,1 7,1 7,1 7,1 7,0 7,1 7,1 7,1 7,1 7,1 7,0 7,1 7,1 7,1 7,1 7,0 7,1 7,1 7,1 7,1 7,0 7,1 7,1 7,1 7,0 7,1 7,1 7,1 7,1 7,0 7,1 7,1 7,1 7,0 7,1 7,1 7,1 7,0 7,1 7,1 7,0 7,1 7,1 7,1 7,0 7,1 7,1 7,0 7,1 7,1 7,1 7,0 7,1 7,1 7,0 7,1 7,1 7,0 7,1 7,1 7,1 7,0 7,1 7,1 7,0 7,1 7,1 7,0 7,1 7,1 7,0 7,1 7,1 7,0 7,1 7,1 7,0 7,1 7,0 7,1 7,1 7,0 7,1 7,1 7,0 7,1 7,1 7,0 7,1 7,0 7,1 7,1 7,0 7,1 7,0 7,1 7,1 7,0 7,1 7,1 7,0 7,1 7,0 7,1 7,1 7,0 7,1 7,0 7,1 7,1 7,0 7,1 7,0 7,1 7,0 7,1 7,1 7,0 7,1 7,0 7,1 7,0 7,1 7,1 7,0 7,1 7,0 7,1 7,0 7,1 7,1 7,0 7,1 7,0 7,1 7,0 7,1 7,0 7,1 7,1 7,0 7,1 7,0 7,1 7,0 7,1 7,0 7,1 7,0 7,1 7,0 7,1 7,0 7,1 7,0 7,1 7,0 7,1 7,1 7,0 7,1 7,0 7,1 7,0 7,1 7,0 7,1 7,0 7,1 7,0 7,1 7,0 7,0 7,1 7,0 7,1 7,0 7,1 7,0 7,1 7,0 7,1 7,0 7,1 7,0 7,1 7,0 7,1 7,0 7,1 7,0 7,0 7,1 7,0 7,1 7,0 7,1 7,0 7,1 7,0 7,0 7,1 7,0 7,1 7,0 7,1 7,0 7,0 7,1 7,0 7,1 7,0 7,1 7,0 7,0 7,1 7,0 7,1 7,0 7,0 7,1 7,0 7,1 7,0 7,0 7,1 7,0 7,1 7,0 7,0 7,1 7,0 7,1 7,0 7,0 7,1 7,0 7,1 7,0 7,0 7,1 7,0 7,0 7,1 7,0 7,0 7,1 7,0 7,1 7,0 7,0 7,1 7,0 7,0 7,1 7,0 7,0 7,1 7,0 7,0 7,1 7,0 7,0 7,1 7,0 7,0 7,1 7,0 7,0 7,1 7,0 7,0 7,1 7,0 7,0 7,1 7,0 7,0 7,1 7,0 7,0 7,1 7,0 7,0 7,0 7,1 7,0 7,0 7,1 7,0 7,0 7,1 7,0 7,0 7,0 7,1 7,0 7,0 7,1 7,0 7,0 7,0 7,1 7,0 7,0 7,0 7,1 7,0 7,0 7,1 7,0 7,0 7,0 7,1 7,0 7,0 7,0 7,1 7,0 7,0 7,0 7,1 7,0 7,0 7,0 7,1 7,0 7,0 7,0 7,1 7,0 7,0 7,0 7,1 7,0 7,0 7,0 7,1 7,0 7,0 7,0 7,1 7,0 7,0 7,0 7,0 7,1 7,0 7,0 7,0 7,1 7,0 7,0 7,0 7,1 7,0 7,0 7,0 7,0 7,1 7,0 7,0 7,0 7,1 7,0 7,0 7,0 7,0 7,1 7,0 7,0 7,0 7,0 7,1 7,0 7,0 7,0 7,0 7,1 7,0 7,0 7,0 7,1 7,0 7,0 7,0 7,0 7,0 7,1 7,0 7,0 7,0 7,0 7,1 7,0 7,0 7,0 7,0 7,1 7,0 7,0 7,0 7,0 7,1 7,0 7,0 7,0 7,0 7,0 7,1 7,0 7,0 7,0 7,0 7,1 7,0 7,0 7,0 7,0 7,0 7,1 7,0 7,0 7,0 7,0 7,0 7,1 7,0 7,0 7,0 7,0 7,0 7,1 7,0 7,0 7,0 7,0 7,0 7,1 7,0 7,0 7,0 7,0 7,0 7,0 7,1 7,0 7,0 7,0 7,0 7,0 7,1 7,0 7,0" stroke="#000" stroke-width="62" stroke-dasharray="62 102" stroke-linecap="butt"/>
<path d="M12500,11691l7,37 7,36 7,37 7,37 7,37 7,38 7,37 7,38 7,37 7,38 7,37 7,37 7,38 7,37 7,38 7,38 7,39 7,38 7,39 7,39 7,38 7,36 7,35 7,34 7,33 7,32 7,31 7,29 7,28 7,27 7,28 7,27 7,29 7,29 7,29 7,29 7,29 7,27 7,27 7,25 7,25 7,24 7,25 7,24 7,25 7,25 7,26 7,25 7,26 7,24 7,24 7,24 7,23 7,22 7,22 7,22 7,22 7,21 7,20 7,21 7,20 7,19 7,20 7,19 7,19 7,18 7,19 7,18 7,18 7,18 7,18 7,18 7,18 7,17 7,18 7,18 7,17 7,18 7,17 7,17 7,17 7,16 7,16 7,16 7,16 7,15 7,15 7,15 7,15 7,15 7,14 7,14 7,14 7,14 7,13 7,14 7,13 7,12 7,13 7,13 7,12 7,12 7,13 7,12 7,13 7,12 7,12 7,13 7,12 7,12 7,13 7,12 7,12 7,12 7,12 7,12 7,12 7,12 7,12 7,12 7,12 7,12 7,12 7,12 7,11 7,12 7,11 7,12 7,11 7,11 7,11 7,10 7,11 7,11 7,10 7,10 7,11 7,10 7,10 7,9 7,10 7,9 7,10 7,9 7,9 7,8 7,9 7,8 7,9 7,8 7,8 7,9 7,8 7,8 7,8 7,8 7,7 7,8 7,8 7,8 7,7 7,8 7,8 7,7 7,7 7,8 7,7 7,7 7,8 7,7 7,7 7,8 7,7 7,7 7,7 7,8 7,7 7,7 7,8 7,7 7,7 7,7 7,8 7,7 7,7 7,7 7,7 7,7 7,6 7,7 7,7 7,6 7,7 7,6 7,6 7,7 7,6 7,6 7,6 7,6 7,6 7,6 7,6 7,6 7,6 7,5 7,6 7,6 7,6 7,5 7,6 7,6 7,5 7,6 7,5 7,6 7,5 7,6 7,5 7,5 7,6 7,5 7,5 7,6 7,5 7,5 7,5 7,5 7,6 7,5 7,5 7,5 7,5 7,5 7,4 7,5 7,5 7,5 7,5 7,4 7,5 7,5 7,4 7,5 7,5 7,4 7,5 7,4 7,5 7,4 7,4 7,5 7,4 7,4 7,4 7,5 7,4 7,4 7,4 7,4 7,4 7,4 7,4 7,4 7,4 7,4 7,4 7,4 7,4 7,4 7,4 7,4 7,3 7,4 7,4 7,4 7,3 7,4 7,4 7,3 7,4 7,4 7,3 7,4 7,3 7,4 7,3 7,4 7,3 7,4 7,3 7,3 7,4 7,3 7,4 7,3 7,3 7,4 7,3 7,3 7,3 7,4 7,3 7,3 7,3 7,3 7,3 7,4 7,3 7,3 7,3 7,3 7,3 7,3 7,3 7,3 7,3 7,3 7,2 7,3 7,3 7,3 7,3 7,3 7,2 7,3 7,3 7,2 7,3 7,3 7,3 7,2 7,3 7,2 7,3 7,3 7,2 7,3 7,2 7,3 7,2 7,3 7,2 7,3 7,2 7,3 7,2 7,2 7,3 7,2 7,3 7,2 7,2 7,3 7,2 7,2 7,2 7,3 7,2 7,2 7,2 7,3 7,2 7,2 7,2 7,2 7,2 7,2 7,3 7,2 7,2 7,2 7,2 7,2 7,2 7,2 7,2 7,2 7,2 7,2 7,2 7,2 7,2 7,1 7,2 7,2 7,2 7,2 7,2 7,2 7,2 7,2 7,1 7,2 7,2 7,2 7,2 7,2 7,1 7,2 7,2 7,2 7,1 7,2 7,2 7,2 7,1 7,2 7,2 7,2 7,1 7,2 7,2 7,1 7,2 7,2 7,1 7,2 7,2 7,1 7,2 7,2 7,1 7,2 7,1 7,2 7,2 7,1 7,2 7,1 7,2 7,1 7,2 7,2 7,1 7,2 7,1 7,2 7,1 7,2 7,1 7,2 7,1 7,1 7,2 7,1 7,2 7,1 7,2 7,1 7,2 7,1 7,1 7,2 7,1 7,2 7,1 7,1 7,2 7,1 7,1 7,2 7,1 7,1 7,2 7,1 7,1 7,2 7,1 7,1 7,2 7,1 7,1 7,1 7,2 7,1 7,1 7,2 7,1 7,1 7,1 7,1 7,2 7,1 7,1 7,1 7,1 7,2 7,1 7,1 7,1 7,1 7,2 7,1 7,1 7,1 7,1 7,1 7,1 7,2 7,1 7,1 7,1 7,1 7,1 7,1 7,1 7,1 7,1 7,2 7,1 7,1 7,1 7,1 7,1 7,1 7,1 7,1 7,1 7,1 7,1 7,1 7,1 7,1 7,1 7,1 7,1 7,1 7,1 7,1 7,1 7,1 7,1 7,1 7,1 7,1 7,1 7,1 7,0 7,1 7,1 7,1 7,1 7,1 7,1 7,1 7,1 7,1 7,1 7,0 7,1 7,1 7,1 7,1 7,1 7,1 7,0 7,1 7,1 7,1 7,1 7,1 7,1 7,0 7,1 7,1 7,1 7,1 7,0 7,1 7,1 7,1 7,1 7,0 7,1 7,1 7,1 7,0 7,1 7,1 7,1 7,0 7,1 7,1 7,1 7,0 7,1 7,1 7,1 7,0 7,1 7,1 7,1 7,0 7,1 7,1 7,0 7,1 7,1 7,0 7,1 7,1 7,1 7,0 7,1 7,1 7,0 7,1 7,1 7,0 7,1 7,1 7,0 7,1 7,1 7,0 7,1 7,1 7,0 7,1 7,1 7,0 7,1 7,1 7,0 7,1 7,1 7,0 7,1 7,0 7,1 7,1 7,0 7,1 7,1 7,0 7,1 7,0 7,1 7,1 7,0 7,1 7,0 7,1 7,1 7,0 7,1 7,0 7,1 7,1 7,0 7,1 7,0 7,1 7,0 7,1 7,1 7,0 7,1 7,0 7,1 7,0 7,1 7,0 7,1 7,0 7,1 7,1 7,0 7,1 7,0 7,1 7,0 7,1 7,0 7,1 7,0 7,1 7,0 7,1 7,0 7,1 7,0 7,1 7,0 7,1 7,0 7,1 7,0 7,1 7,0 7,1 7,0 7,1 7,0 7,1 7,0 7,1 7,0 7,1 7,0 7,0 7,1 7,0 7,1 7,0 7,1 7,0 7,1 7,0 7,0 7,1 7,0 7,1 7,0 7,1 7,0 7,1 7,0 7,0 7,1 7,0 7,1 7,0 7,0 7,1 7,0 7,1 7,0 7,0 7,1 7,0 7,1 7,0 7,0 7,1 7,0 7,1 7,0 7,0 7,1 7,0 7,0 7,1 7,0 7,1 7,0 7,0 7,1 7,0 7,0 7,1 7,0 7,0 7,1 7,0 7,0 7,1 7,0 7,0 7,1 7,0 7,0 7,1 7,0 7,0 7,1 7,0 7,0 7,1 7,0 7,0 7,1 7,0 7,0 7,1 7,0 7,0 7,1 7,0 7,0 7,0 7,1 7,0 7,0 7,1 7,0 7,0 7,0 7,1 7,0 7,0 7,1 7,0 7,0 7,0 7,1 7,0 7,0 7,0 7,1 7,0 7,0 7,1 7,0 7,0 7,0 7,1 7,0 7,0 7,0 7,0 7,1 7,0 7,0 7,0 7,1 7,0 7,0 7,0 7,1 7,0 7,0 7,0 7,0 7,1 7,0 7,0 7,0 7,1 7,0 7,0 7,0 7,0 7,1 7,0 7,0 7,0 7,0 7,1 7,0 7,0 7,0 7,0 7,1 7,0 7,0 7,0 7,0 7,0 7,1 7,0 7,0 7,0 7,0 7,1 7,0 7,0 7,0 7,0 7,1 7,0 7,0 7,0 7,0 7,0 7,1 7,0 7,0 7,0 7,0 7,0 7,1 7,0 7,0 7,0 7,0 7,1 7,0 7,0 7,0 7,0 7,0 7,1 7,0 7,0 7,0 7,0 7,0 7,1 7,0 7,0 7,0 7,0 7,0 7,1 7,0 7,0 7,0 7,0 7,0 7,1 7,0 7,0 7,0 7,0 7,0 7,1 7,0 7,0 7,0 7,0 7,0 7,1 7,0 7,0 7,0 7,0 7,0 7,1 7,0 7,0 7,0 7,0 7,0 7,1 7,0 7,0 7,0 7,0 7,0 7,1 7,0 7,0 7,0 7,0 7,0 7,1 7,0 7,0 7,0 7,0 7,0 7,1 7,0 7,0 7,0 7,0 7,1 7,0 7,0 7,0 7,0 7,0 7,1 7,0 7,0 7,0 7,0 7,1 7,0 7,0 7,0 7,0 7,0 7,1 7,0 7,0 7,0 7,0 7,1 7,0 7,0 7,0 7,0 7,1 7,0 7,0 7,0 7,0 7,1 7,0 7,0 7,0 7,0 7,1 7,0 7,0 7,0 7,0 7,1 7,0 7,0 7,0 7,0 7,1 7,0 7,0 7,0 7,0 7,1 7,0 7,0 7,0 7,0 7,1 7,0 7,0 7,0 7,1 7,0 7,0 7,0 7,0 7,1 7,0 7,0 7,0 7,1 7,0 7,0 7,0 7,0 7,1 7,0 7,0 7,0 7,1 7,0 7,0 7,0 7,0 7,1 7,0 7,0 7,0 7,1 7,0 7,0 7,0 7,0 7,1 7,0 7,0 7,0 7,1 7,0 7,0 7,0 7,0 7,1 7,0 7,0 7,0 7,1 7,0 7,0 7,0 7,0 7,1 7,0 7,0 7,0 7,1 7,0 7,0 7,0 7,0 7,1 7,0 7,0 7,0 7,1 7,0 7,0 7,0 7,1 7,0 7,0 7,0 7,0 7,1 7,0 7,0 7,0 7,1 7,0 7,0 7,0 7,0 7,1 7,0 7,0 7,0 7,1 7,0 7,0 7,0 7,0 7,1 7,0 7,0 7,0 7,1 7,0 7,0 7,0 7,0 7,1 7,0 7,0 7,0 7,0 7,1 7,0 7,0 7,0 7,1 7,0 7,0 7,0 7,0 7,1 7,0 7,0 7,0 7,0 7,1 7,0 7,0 7,0 7,1 7,0 7,0 7,0 7,0 7,1" stroke="#000" stroke-width="62" stroke-dasharray="62 102" stroke-linecap="butt"/>
</g></g>
<rect x="1210.5" y="1144.0" width="873.5" height="496.9" fill="none" stroke="#000" stroke-width="2.1" stroke-linejoin="miter"/>
<path d="M1210.5,1622.9 H1195.9 M1210.5,1537.1 H1195.9 M1210.5,1451.3 H1195.9 M1210.5,1365.6 H1195.9 M1210.5,1279.8 H1195.9 M1210.5,1194.0 H1195.9 M1250.0,1640.9 V1655.5 M1383.6,1640.9 V1655.5 M1517.2,1640.9 V1655.5 M1650.8,1640.9 V1655.5 M1784.4,1640.9 V1655.5 M1918.0,1640.9 V1655.5 M2051.6,1640.9 V1655.5" stroke="#000" stroke-width="2.8" fill="none"/>
<g font-family="'Liberation Sans', Arial, sans-serif" font-size="29.3" fill="#000">
<text x="1181.5" y="1633.3" text-anchor="end">0.0</text>
<text x="1181.5" y="1547.5" text-anchor="end">0.2</text>
<text x="1181.5" y="1461.7" text-anchor="end">0.4</text>
<text x="1181.5" y="1376.0" text-anchor="end">0.6</text>
<text x="1181.5" y="1290.2" text-anchor="end">0.8</text>
<text x="1181.5" y="1204.4" text-anchor="end">1.0</text>
<text transform="translate(1118.2,1392.5) rotate(-90)" text-anchor="middle">Normalized intensity</text>
<text x="1302.0" y="1592.2">120K</text>
</g>
<text x="1063.0" y="1164.0" font-family="'Liberation Sans', Arial, sans-serif" font-weight="bold" font-size="33" fill="#000">g</text>
<rect x="1731.9" y="1158.6" width="337.5" height="150.5" rx="4.5" ry="4.5" fill="#fff" fill-opacity="0.8" stroke="#cccccc" stroke-width="2.8"/>
<path d="M1742.5,1187.3 H1800.8" stroke="#6f4ab8" stroke-opacity="0.72" stroke-width="6.3" stroke-linecap="square"/>
<text font-family="'DejaVu Sans', sans-serif" fill="#000"><tspan x="1822.90" y="1194.60" font-size="29.3">1</tspan><tspan x="1847.21" y="1194.60" font-size="29.3">×</tspan><tspan x="1877.42" y="1194.60" font-size="29.3">1</tspan><tspan x="1896.03" y="1194.60" font-size="29.3">0</tspan><tspan x="1914.91" y="1183.50" font-size="20.51">1</tspan><tspan x="1927.94" y="1183.50" font-size="20.51">4</tspan><tspan x="1997.18" y="1183.50" font-size="20.51">−</tspan><tspan x="2014.33" y="1183.50" font-size="20.51">3</tspan><tspan x="1951.26" y="1194.60" font-size="29.3" font-style="oblique">c</tspan><tspan x="1967.34" y="1194.60" font-size="29.3" font-style="oblique">m</tspan></text>
<path d="M1742.5,1235.1 H1800.8" stroke="#d27895" stroke-opacity="0.72" stroke-width="6.3" stroke-linecap="square"/>
<text font-family="'DejaVu Sans', sans-serif" fill="#000"><tspan x="1822.90" y="1242.40" font-size="29.3">3</tspan><tspan x="1841.51" y="1242.40" font-size="29.3">.</tspan><tspan x="1849.18" y="1242.40" font-size="29.3">2</tspan><tspan x="1873.49" y="1242.40" font-size="29.3">×</tspan><tspan x="1903.70" y="1242.40" font-size="29.3">1</tspan><tspan x="1922.31" y="1242.40" font-size="29.3">0</tspan><tspan x="1941.19" y="1231.30" font-size="20.51">1</tspan><tspan x="1954.22" y="1231.30" font-size="20.51">5</tspan><tspan x="2023.46" y="1231.30" font-size="20.51">−</tspan><tspan x="2040.62" y="1231.30" font-size="20.51">3</tspan><tspan x="1977.54" y="1242.40" font-size="29.3" font-style="oblique">c</tspan><tspan x="1993.62" y="1242.40" font-size="29.3" font-style="oblique">m</tspan></text>
<path d="M1742.5,1282.9 H1800.8" stroke="#f8d466" stroke-opacity="0.72" stroke-width="6.3" stroke-linecap="square"/>
<text font-family="'DejaVu Sans', sans-serif" fill="#000"><tspan x="1822.90" y="1290.20" font-size="29.3">1</tspan><tspan x="1841.51" y="1290.20" font-size="29.3">.</tspan><tspan x="1850.81" y="1290.20" font-size="29.3">9</tspan><tspan x="1875.12" y="1290.20" font-size="29.3">×</tspan><tspan x="1905.32" y="1290.20" font-size="29.3">1</tspan><tspan x="1923.93" y="1290.20" font-size="29.3">0</tspan><tspan x="1942.82" y="1279.10" font-size="20.51">1</tspan><tspan x="1955.85" y="1279.10" font-size="20.51">6</tspan><tspan x="2025.09" y="1279.10" font-size="20.51">−</tspan><tspan x="2042.24" y="1279.10" font-size="20.51">3</tspan><tspan x="1979.16" y="1290.20" font-size="29.3" font-style="oblique">c</tspan><tspan x="1995.25" y="1290.20" font-size="29.3" font-style="oblique">m</tspan></text>
</g>
<g id="panel-h">
<g clip-path="url(#cliph)"><g transform="scale(0.1)" fill="none" stroke-linejoin="round" stroke-linecap="square">
<path d="M12461,17250l7-45 7-120 7,110 7,6 7,27 7,31 7,26 7,105 7-199 7,144 7-79 7,210 7-132 7,136 7,23 7-94 7-38 7-8 7,18 7,126 7-58 7,111 7,11 7-38 7,41 7-50 7,199 7-186 7,134 7-122 7,41 7,173 7-56 7-31 7,117 7,13 7-12 7-54 7,5 7,104 7-68 7-27 7,51 7,124 7,22 7-59 7-20 7,41 7,68 7,51 7-128 7,107 7-115 7,209 7-38 7,35 7-145 7,54 7,125 7,106 7-182 7,79 7,94 7,38 7-106 7,52 7-8 7-2 7,62 7,7 7-44 7,61 7,24 7-43 7,176 7-186 7,63 7,89 7-22 7-73 7,56 7,156 7-33 7-59 7-83 7,75 7,72 7-34 7,47 7,32 7-28 7,163 7-176 7,41 7,71 7,37 7,34 7-75 7,20 7,11 7-77 7,243 7-74 7,17 7-88 7,83 7,53 7-54 7,1 7-58 7,90 7,52 7,15 7,29 7-64 7-8 7,71 7,6 7-76 7,84 7-11 7,101 7-16 7,97 7-32 7-86 7-38 7,96 7,63 7-60 7-47 7,84 7-49 7,67 7,76 7-6 7-24 7-127 7,105 7,58 7-16 7,17 7,48 7-6 7,20 7-42 7-32 7,24 7,100 7-36 7,79 7,30 7-52 7-18 7,46 7-37 7,10 7,13 7,58 7,74 7-157 7,129 7-54 7,22 7,53 7-104 7,69 7,45 7,29 7,38 7,24 7-87 7,62 7,9 7-40 7,53 7-42 7,75 7,3 7-63 7,91 7-56 7,16 7,35 7,93 7-7 7-1 7,19 7-98 7,96 7,27 7-28 7-11 7,86 7-104 7,3 7,73 7-61 7,124 7-41 7-11 7-3 7-45 7,80 7,41 7-51 7,11 7-7 7,46 7-16 7,43 7-46 7,67 7,5 7-77 7,100 7-29 7-19 7,50 7-50 7,77 7-68 7,129 7-3 7-59 7-56 7-2 7,122 7-31 7,28 7,83 7-126 7,58 7-74 7,57 7,44 7,14 7-17 7-22 7,49 7-143 7,125 7,68 7-49 7-41 7,39 7,41 7,22 7,13 7,24 7-23 7-29 7,44 7-91 7,62 7,43 7-12 7-60 7,147 7-80 7-101 7,80 7,89 7-39 7,22 7-126 7,157 7-12 7,9 7,53 7,87 7-127 7-27 7,47 7-34 7-5 7,8 7,109 7-131 7,34 7,8 7,40 7,7 7,28 7-34 7-15 7,69 7-53 7,60 7-39 7,37 7-36 7-39 7,77 7,35 7,3 7-38 7,52 7-56 7,34 7-20 7,65 7,22 7-3 7-42 7,53 7-55 7,117 7-51 7-16 7,73 7-45 7,41 7-52 7,11 7-34 7,68 7,37 7-39 7-22 7,7 7,2 7-37 7,67 7-1 7,30 7-5 7-60 7,32 7,121 7-146 7,130 7-57 7-50 7,37 7-13 7-8 7,27 7,64 7-59 7,45 7,70 7-78 7-29 7,21 7,8 7-63 7,60 7-20 7,26 7-46 7,80 7-55 7-20 7,87 7-49 7,95 7-59 7-12 7,63 7,41 7-65 7,18 7-15 7,0 7-16 7-23 7,47 7,76 7-77 7,14 7,13 7-49 7,52 7,26 7-26 7,79 7-90 7,36 7-56 7,40 7,15 7,10 7,53 7-36 7-11 7-21 7,23 7-6 7,4 7,46 7-26 7,22 7,40 7,12 7-80 7-18 7,4 7,83 7-80 7,1 7,85 7-41 7-40 7,60 7-35 7,66 7-7 7-39 7,39 7-7 7,4 7,42 7-85 7,60 7,9 7,7 7-15 7,38 7-59 7,44 7-36 7,60 7,7 7,0 7-37 7,56 7-71 7,42 7-39 7,47 7-38 7,65 7,5 7-55 7,41 7-51 7,61 7-38 7,48 7,33 7-104 7,58 7-37 7,29 7,65 7-67 7-21 7-4 7-9 7,44 7,18 7-3 7,43 7-60 7,3 7,14 7,40 7-45 7,42 7-57 7,63 7,0 7-4 7,25 7-2 7-18 7,73 7-142 7,55 7,5 7,40 7-33 7,9 7-1 7,52 7-41 7,59 7-52 7,24 7-7 7-7 7-35 7-10 7,40 7,37 7-79 7,94 7-25 7-9 7,19 7-63 7,31 7-19 7,45 7-35 7,34 7,2 7-12 7-1 7-3 7,26 7,42 7-35 7,76 7-73 7,19 7-49 7,111 7-144 7,75 7,40 7-60 7,0 7,3 7-52 7,95 7-33 7,6 7,28 7-28 7-28 7,66 7-38 7-15 7,13 7,70 7-55 7,22 7-47 7,42 7-61 7,98 7-50 7,43 7-78 7,8 7,76 7-48 7,25 7,49 7-15 7-33 7-10 7,28 7-18 7,1 7,2 7,45 7-37 7-10 7,61 7-87 7,4 7,39 7-54 7,86 7,6 7-8 7,4 7-73 7,54 7,5 7-11 7-34 7,43 7,17 7-17 7-27 7,44 7-45 7,33 7,16 7-18 7-41 7,65 7-44 7,24 7,14 7,4 7-20 7,7 7,9 7-7 7,44 7-4 7,11 7-17 7-2 7,6 7-24 7,43 7-18 7-30 7-21 7,47 7-31 7-3 7,68 7-34 7,37 7-16 7-21 7,48 7-49 7,20 7,4 7-20 7,39 7,25 7-46 7,22 7-13 7,26 7-3 7,4 7,8 7-11 7,0 7-20 7-84 7,104 7,27 7-57 7,50 7-8 7-13 7-9 7,1 7-4 7,11 7-31 7,8 7,38 7-7 7,31 7-52 7,24 7-54 7,69 7-56 7,65 7,21 7-20 7-30 7-17 7,51 7-47 7,40 7,1 7-4 7-50 7,40 7-2 7,48 7-42 7-2 7-34 7,66 7-3 7,6 7-5 7-33 7,39 7-52 7,33 7,25 7-5 7,19 7,3 7-65 7,8 7,49 7-13 7-51 7,60 7-22 7-7 7,19 7,1 7,5 7-10 7,43 7-39 7-3 7,39 7-43 7,36 7,43 7-16 7-50 7-10 7,25 7,27 7-31 7-26 7,25 7,36 7-47 7,18 7,0 7-4 7-12 7,18 7,22 7-20 7-5 7-25 7,60 7-25 7,19 7-27 7,20 7,63 7-97 7,40 7,12 7,11 7-10 7,6 7-26 7-7 7,7 7-10 7,30 7-34 7,18 7-12 7-3 7,24 7-37 7,11 7,30 7-51 7,4 7,77 7,18 7-38 7-25 7-10 7,7 7,17 7-22 7,7 7,28 7-14 7-20 7,41 7,1 7,5 7-53 7,20 7-3 7,29 7-7 7-28 7,35 7-33 7,29 7,1 7-13 7-6 7-20 7,50 7-46 7,57 7,3 7,32 7-69 7-14 7,62 7-19 7-1 7,30 7-36 7-4 7,19 7,12 7-25 7-10 7,47 7-29 7-14 7,77 7-70 7-31 7,68 7-57 7,37 7-20 7,18 7,23 7,14 7-92 7,85 7-23 7-38 7,26 7,4 7,49 7-30 7,17 7,11 7-48 7-9 7,36 7-2 7-23 7-9 7,43 7-48 7,6 7,21 7,25 7-36 7-2 7-23 7,53 7-47 7,43 7-19 7,15 7-4 7-29 7,48 7-33 7,25 7-4 7,15 7-19 7,48 7-37 7-27 7,5 7,54 7-10 7-15 7-49 7,50 7-8 7,6 7-11 7,27 7-25 7-4 7-12 7,42 7-37 7-21 7,25 7,2 7,68 7-80 7-12 7,16 7,15 7-6 7-45 7,79 7-6 7-31 7,19 7,52 7-50 7-2 7,27 7-27 7,4 7,43 7-48 7-34 7,9 7,62 7,4 7-28 7-4 7,34 7-12 7-43 7,24 7-16 7,23 7-22 7,34 7,0 7,9 7,21 7-31 7,21 7-18 7-12 7,0 7-4 7,17 7-7 7-25 7,28 7-3 7,52 7-27 7-45 7,41 7,5 7-42 7,46 7-45 7,23 7,11 7,30 7-69 7,65 7-11 7-41 7,42 7-35 7,12 7,5 7,16 7-7 7-19 7,27 7-33 7,9 7-6 7,7 7-6 7,4 7-8 7,9 7,2 7,25 7,17 7-35 7-18 7,39 7,13 7-20 7-18 7-9 7,24 7,18 7-22 7-15 7,16 7-21 7,31 7-27 7-15 7,53 7-2 7-30 7-48 7,52 7,11 7-26 7,29 7,30 7-13 7-45 7,61 7-5 7-44 7,14 7-20 7,45 7-6 7-7 7,18 7-20 7,0 7-20 7,19 7,7 7-17 7-12 7,2 7,15 7,14 7,2 7,16 7-26 7,2 7-31 7,28 7-10 7-10 7,61 7-23 7-7 7-7 7,25 7-38 7,0 7,8 7-3 7,34 7-42 7,34 7,25 7-38 7-5 7,21 7,19 7-9 7-19 7,46 7-67 7,1 7,23 7-23 7,23 7,19 7-33 7,2 7,28 7,10 7-8 7-40 7,28 7-57 7,65 7-23 7,5 7,11 7-19 7,32 7-15 7,21 7,19 7-41 7,23 7,3 7-34 7,14 7-10 7-24 7,29 7-5 7,31 7-37 7,0 7,35 7-30 7,6 7,10 7-5 7-42 7,56 7-5 7-8 7,6 7,30 7-44 7-5 7-14 7,42 7,13 7-34 7,30 7-18 7,8 7-10 7,11 7-20 7,30 7-59 7,29 7,25 7,7 7-14 7,6 7,7 7-40 7,8 7,37 7-29 7,10 7-13 7,26 7-49 7,37 7-34 7,44 7-32 7,26 7-31 7,33 7,16 7,1 7-8 7-21 7,4 7,5 7-16 7-10 7,47 7-35 7-22 7,51 7,0 7-17 7,3 7,14 7-8 7-29 7,13 7,30 7,16 7-10 7-22 7,17 7,1 7-26 7,17 7,2 7-10 7-21 7,21 7-7 7,11 7-25 7,48 7-1 7-11 7-43 7,9 7,46 7-11 7-17 7,9 7-14 7,24 7,20 7-39 7-10 7,48" stroke="#6f4ab8" stroke-opacity="0.72" stroke-width="63"/>
<path d="M12461,17250l7-7 7,12 7-11 7,6 7,20 7,23 7,18 7,50 7-23 7,54 7,27 7,13 7,30 7,2 7,18 7,14 7,47 7,32 7,19 7,39 7,17 7-22 7,71 7,20 7,6 7,32 7,18 7,55 7,30 7-13 7,57 7,12 7,15 7,52 7-9 7,26 7-1 7,31 7,50 7-30 7,73 7-16 7,24 7,17 7,10 7,3 7,48 7,14 7-2 7,22 7,16 7,24 7,27 7,22 7,16 7-5 7,6 7,7 7,62 7,3 7,11 7,18 7,31 7-35 7,28 7,43 7,23 7,11 7,37 7,4 7,1 7,4 7,28 7,11 7,52 7,49 7-53 7,34 7,20 7-10 7,56 7,15 7,13 7-19 7,26 7,56 7-35 7,40 7,9 7,33 7-24 7,37 7,1 7,49 7-11 7,23 7,19 7,22 7,13 7,20 7,7 7,5 7,5 7,45 7,6 7,8 7,29 7-5 7,13 7,13 7,5 7,6 7,16 7,21 7,9 7,33 7,16 7-9 7,14 7-10 7,48 7,23 7-4 7,23 7,20 7-18 7,6 7,35 7,28 7,1 7,19 7,32 7-17 7,20 7,1 7,38 7,5 7,14 7,34 7-46 7,74 7-1 7,0 7,28 7-16 7,22 7,4 7,9 7,13 7,10 7,15 7,3 7,6 7,26 7,14 7,11 7,1 7,21 7,11 7,27 7-35 7,53 7-28 7,23 7,8 7,20 7,7 7,13 7,6 7,7 7,1 7,43 7-10 7-5 7,12 7,41 7-8 7,10 7,9 7,42 7-32 7,41 7-40 7,28 7,19 7-1 7,14 7,17 7,3 7,3 7,22 7-11 7,3 7,9 7,6 7,7 7,15 7,1 7,23 7,4 7-5 7,1 7,37 7,21 7-37 7,20 7-1 7,19 7,16 7,19 7,11 7-23 7,14 7,15 7,25 7,0 7,9 7,3 7,39 7-31 7-9 7,33 7,0 7,4 7,22 7-10 7,22 7,2 7-2 7,11 7,4 7,19 7-13 7,28 7-17 7,23 7,14 7-7 7,18 7,0 7,1 7-5 7,6 7,10 7,15 7,20 7-10 7,7 7,3 7,10 7,6 7-11 7,31 7-11 7-10 7,29 7,7 7-4 7,6 7-2 7-8 7,22 7-3 7,18 7,4 7-4 7,16 7-17 7,23 7,3 7,15 7-2 7,11 7-1 7,20 7-16 7-15 7,47 7-37 7,27 7-7 7,27 7-30 7,40 7-6 7-14 7,37 7,17 7-21 7,13 7,7 7,4 7,11 7-28 7,7 7,34 7-10 7,9 7-13 7,26 7-23 7,23 7,13 7-3 7,10 7-28 7,28 7,12 7-2 7-12 7,32 7,12 7-29 7,12 7,16 7,0 7-10 7,47 7-41 7,20 7-5 7,12 7-31 7,45 7-16 7,45 7-26 7-4 7,29 7,9 7-19 7-7 7,2 7,24 7-8 7,23 7-31 7,29 7-17 7,20 7,4 7-18 7,31 7-20 7,21 7,9 7,3 7-18 7,16 7,6 7,16 7-26 7,4 7,11 7-2 7,47 7-26 7-5 7,4 7,10 7-6 7,14 7,2 7,9 7-12 7,12 7,0 7-17 7,18 7,3 7,18 7-8 7-13 7,7 7,8 7,5 7,0 7,0 7,10 7,25 7-44 7,11 7,16 7-14 7,31 7-25 7,14 7-4 7,15 7-3 7-2 7-2 7,8 7,3 7,13 7-22 7,18 7,7 7,3 7,12 7-3 7,10 7-15 7,5 7-1 7,17 7-6 7,4 7-14 7,27 7,3 7-27 7,12 7,22 7-28 7,1 7,5 7,35 7-20 7,12 7-4 7,15 7-32 7,27 7-8 7-3 7,4 7,4 7,10 7-5 7,7 7,22 7-31 7,18 7,1 7,1 7,12 7,0 7,7 7-20 7-6 7,13 7,14 7-23 7,18 7,15 7,4 7-18 7-11 7,20 7,4 7-2 7,8 7-2 7-6 7,11 7-14 7,20 7-15 7,6 7,8 7,1 7,2 7-18 7,26 7-18 7,4 7,14 7-17 7,40 7-24 7,3 7,3 7-7 7,14 7-1 7-11 7,14 7,10 7-14 7,8 7,6 7-9 7,14 7,4 7-6 7,1 7-1 7,14 7-27 7,12 7,6 7,1 7,27 7-31 7,20 7-13 7,17 7-19 7,16 7-2 7-15 7,7 7,24 7-5 7-7 7,5 7-9 7,16 7,13 7-8 7-6 7-5 7-1 7-3 7,11 7,5 7-7 7,9 7,5 7,1 7-12 7-4 7,3 7,29 7-24 7,22 7-6 7-7 7,19 7,0 7-3 7-21 7,7 7,19 7-8 7,1 7,0 7,10 7-18 7,18 7-10 7,24 7-18 7,4 7-10 7,37 7-27 7-1 7,11 7-13 7-6 7,12 7,2 7-4 7,10 7-6 7,7 7,12 7,5 7-19 7,6 7,13 7-5 7-12 7,30 7-6 7-14 7,0 7,20 7-1 7-9 7-10 7,14 7,22 7-29 7,10 7,5 7,8 7-20 7,9 7,0 7,2 7,0 7-2 7-7 7,26 7-8 7,5 7-18 7,18 7,13 7-13 7,7 7,2 7-2 7,9 7,6 7-33 7,20 7,8 7-13 7-5 7,28 7-10 7-6 7,11 7-10 7,16 7-4 7-4 7-4 7,5 7,7 7-2 7,16 7-36 7,24 7,0 7-4 7-2 7,3 7,10 7,9 7-12 7,7 7-1 7-4 7-1 7-8 7,13 7,15 7-19 7-2 7,23 7-19 7,5 7,7 7-5 7-1 7-1 7-4 7,11 7,1 7-20 7,31 7-6 7,2 7-9 7-2 7,22 7-21 7,21 7-31 7,29 7-15 7,13 7-7 7,13 7-7 7,2 7,0 7-5 7,11 7,0 7,10 7-10 7,4 7-10 7,2 7,13 7-9 7-7 7,14 7,9 7-30 7,17 7,0 7-15 7,29 7-9 7,19 7-19 7,2 7,11 7,1 7-5 7,1 7-14 7,16 7,0 7,1 7,13 7-9 7,8 7-11 7,20 7-9 7-10 7,20 7-4 7-20 7,20 7-10 7-2 7,12 7,6 7-26 7,18 7-8 7,11 7-8 7,14 7,1 7-2 7-2 7,0 7-1 7-6 7,9 7-12 7,14 7-10 7-5 7-2 7,31 7-30 7,29 7-25 7,12 7-2 7,11 7-14 7,2 7,11 7,1 7-11 7-1 7,3 7,10 7-3 7-6 7,1 7-2 7,9 7,7 7-7 7-1 7,9 7-7 7,11 7-9 7,8 7-21 7,8 7,8 7,13 7,0 7-15 7,8 7-3 7,15 7,0 7-12 7,3 7,9 7-3 7-12 7,10 7-7 7-8 7,11 7,2 7,6 7-13 7,21 7-2 7-8 7,12 7-19 7,13 7-8 7,7 7,0 7-1 7,16 7-7 7-4 7-20 7,11 7,1 7,15 7-15 7-2 7,4 7-14 7,32 7-2 7-6 7,6 7-7 7-3 7,4 7,0 7-2 7-2 7,11 7,1 7-14 7,12 7,5 7-8 7,5 7-3 7,2 7-5 7-2 7,14 7,4 7-22 7,18 7,7 7,4 7-14 7,5 7,9 7-6 7,1 7-15 7,7 7,2 7,10 7-8 7-6 7,4 7-6 7,8 7-4 7,2 7,8 7-14 7,8 7-3 7,15 7,0 7-6 7,5 7-10 7,2 7-6 7,5 7,13 7-15 7,13 7,1 7-6 7,1 7-7 7-13 7,18 7-7 7,13 7-4 7,7 7-1 7-12 7,7 7,0 7,10 7-19 7,15 7,4 7-5 7-4 7,0 7-5 7,19 7-5 7-14 7-5 7,22 7-4 7,12 7-5 7,0 7-5 7,8 7-15 7,8 7,2 7-9 7,9 7,8 7-9 7-15 7,15 7-3 7,6 7,1 7-5 7,23 7-10 7-4 7-2 7-13 7-7 7,14 7,2 7-2 7-5 7,18 7-3 7-4 7-1 7,16 7-16 7,15 7-17 7,0 7,23 7-20 7,2 7,7 7-11 7-8 7,12 7,11 7,3 7-1 7-1 7-15 7,6 7,3 7-6 7,6 7,0 7,7 7-1 7-5 7,9 7-20 7,12 7,5 7-11 7,15 7-15 7,7 7-12 7,18 7-1 7,3 7,3 7-10 7,10 7-10 7,7 7-11 7,26 7-21 7,3 7,0 7,5 7-17 7,16 7-6 7,6 7,1 7-3 7-4 7,13 7-4 7,7 7-13 7,9 7,0 7-10 7,5 7-2 7,4 7-4 7,3 7,8 7-9 7,5 7-1 7-3 7,6 7,4 7-16 7-4 7,16 7-11 7,6 7,7 7,2 7-3 7,1 7-1 7-1 7,8 7-14 7,14 7,0 7-14 7,2 7-5 7,10 7,5 7-12 7,9 7,1 7,5 7-9 7,20 7-20 7,18 7-20 7,17 7-15 7-12 7,19 7,7 7-22 7,17 7,5 7-16 7,29 7-10 7,0 7-5 7,10 7-20 7-1 7,8 7,3 7,8 7-14 7,9 7-9 7-3 7,7 7,15 7-8 7-15 7,8 7-8 7,25 7-14 7,1 7,10 7-7 7-11 7,4 7,7 7-5 7-6 7,16 7-9 7-5 7,12 7-14 7,10 7-8 7,2 7,4 7,4 7,3 7-5 7,0 7-8 7,10 7-3 7-9 7,10 7-1 7-7 7,10 7-2 7-2 7,6 7,7 7,3 7-8 7-9 7,1 7-4 7,5 7,11 7,5 7-6 7-1 7,3 7-11 7,12 7-9 7-1 7,17 7-9 7-11 7,3 7,5 7,9 7-3 7-5 7-8 7,6 7,4 7-2 7-4 7,17 7-4 7-7 7-8 7,1 7,13 7-5 7,5 7-2 7-3 7,3 7,2 7,4 7,3 7-9 7-3 7-2 7,9 7,0 7-13 7,6 7-3 7,10 7,1 7,3 7-14 7,14" stroke="#d27895" stroke-opacity="0.72" stroke-width="63"/>
<path d="M12461,17250l7,16 7,11 7,10 7,25 7,37 7,19 7,21 7,13 7,52 7,40 7,11 7,40 7,37 7,20 7,39 7,37 7,35 7,22 7,29 7,42 7,11 7,45 7,13 7,38 7,34 7,26 7,34 7,23 7,14 7,39 7,16 7,37 7,21 7,21 7,43 7,18 7,44 7,20 7,20 7,16 7,25 7,34 7,18 7,22 7,36 7,12 7,20 7,26 7,38 7,23 7,28 7,20 7,21 7,16 7,26 7,28 7,10 7,21 7,32 7,20 7,21 7,32 7,10 7,19 7,13 7,34 7,25 7,21 7,17 7,20 7,33 7,14 7,18 7,39 7-1 7,31 7,14 7,27 7,22 7,19 7,17 7,17 7,27 7,25 7,17 7,21 7,7 7,30 7,2 7,28 7,19 7,9 7,28 7,17 7,10 7,17 7,27 7-7 7,28 7,28 7,8 7,8 7,20 7,11 7,5 7,25 7,8 7,24 7,24 7,0 7,30 7,4 7,17 7,24 7,14 7,11 7,10 7,8 7,23 7,2 7,21 7,24 7,14 7,9 7,18 7,10 7,7 7,17 7,7 7,24 7,13 7,15 7,14 7,3 7,8 7,13 7,9 7-3 7,32 7,4 7,12 7,13 7-5 7,19 7,0 7,26 7-11 7,6 7,30 7,3 7,9 7,4 7,21 7-3 7,7 7,17 7,19 7-2 7,6 7,0 7,18 7,11 7-4 7,9 7,6 7,12 7,1 7,11 7,23 7-6 7,4 7,12 7-2 7,20 7,0 7,21 7-1 7,11 7,11 7,9 7-3 7,7 7,14 7,11 7,5 7-4 7,20 7-9 7,26 7-7 7,4 7,3 7,17 7,9 7,11 7-10 7,14 7,8 7,6 7,1 7,8 7-2 7,28 7-14 7,15 7,3 7,7 7,4 7,0 7,9 7,17 7-4 7,6 7,2 7,8 7,6 7-3 7,20 7-17 7,24 7,8 7-7 7,3 7,3 7,4 7,11 7,8 7,3 7,7 7,8 7-10 7,4 7,16 7,6 7,6 7,13 7-3 7,4 7,1 7,10 7,11 7-13 7-3 7,30 7-10 7-2 7,17 7,6 7-6 7,6 7,6 7-11 7,5 7,9 7,9 7,5 7-4 7,11 7-8 7,5 7,16 7-5 7-2 7,10 7,14 7-1 7,4 7,1 7,4 7,6 7-5 7,1 7,16 7,9 7-8 7,6 7,0 7,11 7-3 7,11 7-10 7,0 7,20 7,15 7-11 7,3 7-2 7,5 7,0 7-12 7,25 7,2 7-3 7,19 7-15 7,12 7,9 7-1 7-6 7,0 7,1 7,8 7,10 7-5 7,7 7-13 7,32 7-22 7,9 7,5 7,6 7,6 7,6 7,7 7-21 7,10 7,5 7,5 7,18 7-8 7,0 7-4 7,17 7-5 7,6 7,1 7,9 7-5 7,5 7,16 7-18 7-3 7,23 7-10 7,17 7,1 7-12 7,13 7-5 7,12 7-2 7,12 7-7 7,1 7,11 7,12 7,2 7,7 7-6 7,4 7,12 7-8 7,14 7-12 7,10 7-2 7,19 7,5 7,9 7-13 7,15 7-13 7,11 7-1 7,17 7-2 7-2 7-1 7,16 7-8 7,11 7-9 7,10 7,3 7-3 7-2 7,11 7-7 7,17 7-6 7,11 7-7 7,10 7-4 7-2 7,13 7,7 7-8 7-3 7,4 7,10 7-10 7,10 7-5 7,12 7-6 7-3 7,14 7-1 7-4 7,2 7,3 7,5 7,12 7-9 7,10 7-7 7,18 7-24 7-1 7,11 7,11 7-2 7-7 7,4 7,10 7-11 7,5 7,3 7,7 7-1 7,7 7-5 7,7 7-10 7,9 7,0 7,1 7,1 7,13 7-16 7,9 7,6 7,4 7-1 7,1 7-3 7,7 7-5 7,2 7,6 7-17 7,16 7-1 7,2 7,3 7-4 7-3 7,11 7,6 7-8 7,19 7-14 7,4 7-3 7,14 7-6 7,5 7-2 7-6 7,6 7,4 7-11 7,9 7,15 7-6 7-8 7,1 7,2 7,1 7,9 7-4 7,8 7-1 7,2 7,0 7-2 7,0 7,5 7-11 7,11 7-12 7,5 7,15 7-13 7,16 7-17 7,8 7,10 7,9 7-11 7,7 7-15 7,17 7-6 7-4 7,4 7,0 7,4 7-5 7,11 7-8 7,12 7-8 7,10 7-6 7-4 7-3 7,21 7-6 7,2 7-13 7,14 7-9 7,9 7,7 7-9 7,9 7-12 7,1 7-3 7,17 7-17 7,5 7,19 7-25 7,4 7,19 7-8 7,12 7-7 7-2 7-1 7,10 7-5 7,7 7-7 7-1 7,4 7-6 7,3 7,4 7-5 7,17 7-7 7,12 7-10 7,3 7-7 7,9 7,2 7-3 7,1 7-3 7,10 7,5 7,1 7-17 7,17 7-5 7,5 7-12 7,10 7-11 7,14 7-6 7-2 7-1 7,15 7-4 7-2 7,13 7-16 7,3 7,0 7,13 7-10 7,0 7-4 7,11 7-7 7-7 7,16 7,1 7,0 7,8 7-6 7-13 7,18 7-4 7-8 7,4 7,3 7,5 7-1 7,0 7-4 7,5 7-5 7,19 7-17 7,10 7-3 7,4 7-6 7,5 7-4 7,10 7-6 7-6 7,2 7,10 7-2 7,4 7-1 7,0 7-8 7,5 7-5 7,0 7,19 7-9 7,5 7,9 7-3 7-3 7-14 7,11 7,3 7-1 7,6 7-6 7,3 7,11 7-7 7-25 7,19 7,5 7-4 7,11 7-6 7-5 7,17 7-5 7-1 7-1 7,3 7-5 7-4 7,5 7-4 7,0 7,12 7-5 7,4 7-6 7,8 7-1 7-12 7,13 7,10 7-11 7,0 7,6 7-4 7-5 7,10 7-1 7,4 7-6 7,3 7,6 7-5 7-12 7,24 7-2 7-11 7,12 7-21 7,23 7-1 7-4 7-10 7,2 7,2 7,2 7-6 7,21 7-13 7-7 7,17 7-9 7-5 7,0 7,10 7-13 7,10 7-4 7,15 7-2 7,1 7-16 7,27 7-3 7-17 7,5 7,21 7-16 7-1 7-9 7,21 7-9 7-10 7,3 7,11 7-4 7,9 7-18 7,12 7-11 7,3 7,12 7-5 7-4 7,1 7-6 7,3 7,5 7-2 7,10 7,0 7-8 7,2 7,10 7-6 7,5 7-1 7-12 7,15 7-2 7-7 7,3 7,0 7,11 7-9 7,3 7,3 7-1 7-2 7-7 7-6 7,12 7-9 7,9 7,11 7-10 7-7 7-1 7,16 7-20 7,19 7,1 7-1 7-13 7,7 7-3 7,21 7-14 7,1 7-5 7,8 7-11 7,13 7,5 7,1 7-18 7,4 7,10 7-12 7,8 7,0 7,9 7-5 7-4 7-1 7,6 7-10 7-3 7,15 7-8 7,13 7-12 7,9 7-5 7-2 7,3 7-8 7,12 7-2 7-5 7,3 7-2 7,4 7,4 7-10 7,4 7-5 7-2 7,11 7,3 7-2 7,2 7,8 7-23 7,8 7-12 7,19 7-7 7,2 7,3 7-7 7,6 7,1 7-1 7,15 7-9 7,0 7-15 7,7 7-1 7,1 7,6 7-12 7,12 7,8 7-13 7-3 7,7 7-1 7-4 7-4 7,7 7-7 7,9 7-11 7,22 7-15 7,5 7,1 7,9 7-15 7,9 7,5 7-2 7-3 7-2 7,7 7,0 7-8 7,3 7-13 7,16 7-8 7-6 7,13 7-8 7,5 7,2 7-10 7,17 7-3 7,8 7-10 7-7 7,8 7-7 7,10 7-12 7,8 7,3 7-13 7,10 7-3 7,3 7-4 7,4 7,9 7-10 7-1 7,1 7,4 7-13 7,17 7-6 7,0 7,8 7,1 7-12 7,0 7,4 7,11 7-8 7-3 7-2 7-4 7,5 7-3 7-5 7,26 7-21 7,9 7-5 7,1 7,8 7,0 7-9 7,4 7-5 7,7 7-16 7,16 7-15 7,18 7-8 7-4 7,16 7-2 7-9 7-4 7-2 7,6 7-3 7,14 7-5 7-11 7,12 7-1 7,9 7-9 7,9 7-13 7-7 7,8 7,1 7,4 7-6 7,10 7-4 7-16 7,22 7-4 7,5 7-17 7,10 7,7 7,0 7-15 7,3 7-1 7,6 7-6 7-3 7,4 7,15 7,2 7-3 7-11 7,12 7-3 7-7 7,6 7,3 7-14 7,3 7-2 7-1 7-3 7,10 7,1 7,10 7-9 7,2 7-10 7,2 7-5 7,3 7-1 7,5 7,2 7,4 7-3 7,7 7-9 7,3 7,13 7,4 7-12 7-2 7-1 7-10 7,13 7,4 7-10 7-4 7-4 7,17 7-5 7,1 7-12 7,5 7,5 7-5 7,8 7-1 7-1 7,3 7-2 7-3 7,0 7-7 7,4 7,6 7,13 7-4 7-6 7-1 7,6 7-6 7-3 7,5 7-3 7,0 7,4 7,1 7-4 7-3 7,9 7,6 7-6 7-10 7,14 7-16 7,10 7-5 7,6 7-8 7,3 7-2 7,15 7-17 7,16 7-9 7-5 7,4 7-4 7,2 7,1 7,6 7-12 7,0 7,10 7,3 7-7 7,6 7-5 7-5 7,1 7-5 7,7 7,10 7-1 7-9 7-9 7,15 7,3 7-14 7,10 7-6 7-2 7,13 7-4 7,2 7-7 7-1 7,8 7-7 7,15 7-13 7,0 7,2 7,9 7-8 7,6 7-16 7,11 7,0 7,0 7-4 7,3 7-3 7,9 7-13 7,11 7-8 7,3 7-5 7,7 7,9 7-2 7-5 7-10 7,11 7-3 7-7 7,11 7-5 7,0 7,6 7-5 7-5 7,0 7,8 7-20 7,16 7,4 7,3 7,2 7-11 7,23 7-17 7,8 7-8 7-1 7,9 7-2 7-14" stroke="#f8d466" stroke-opacity="0.72" stroke-width="63"/>
<path d="M12461,17175l7,19 7,19 7,18 7,18 7,17 7,18 7,16 7,17 7,16 7,17 7,16 7,15 7,16 7,16 7,15 7,16 7,15 7,16 7,15 7,16 7,16 7,16 7,16 7,16 7,16 7,17 7,17 7,17 7,18 7,18 7,18 7,19 7,19 7,19 7,19 7,18 7,17 7,16 7,17 7,16 7,16 7,15 7,16 7,15 7,16 7,16 7,16 7,15 7,16 7,16 7,15 7,16 7,16 7,15 7,15 7,16 7,15 7,15 7,15 7,15 7,15 7,15 7,14 7,15 7,15 7,14 7,14 7,15 7,14 7,14 7,14 7,14 7,14 7,14 7,14 7,13 7,15 7,14 7,14 7,14 7,14 7,14 7,14 7,14 7,14 7,14 7,13 7,13 7,13 7,13 7,13 7,13 7,12 7,13 7,12 7,13 7,12 7,13 7,13 7,13 7,13 7,13 7,13 7,12 7,13 7,13 7,13 7,12 7,12 7,11 7,12 7,11 7,11 7,11 7,11 7,10 7,11 7,10 7,11 7,10 7,11 7,11 7,10 7,11 7,11 7,11 7,10 7,11 7,11 7,11 7,11 7,11 7,10 7,12 7,11 7,11 7,11 7,12 7,12 7,12 7,12 7,12 7,12 7,11 7,12 7,11 7,11 7,11 7,10 7,10 7,10 7,10 7,10 7,10 7,9 7,9 7,10 7,9 7,9 7,9 7,9 7,9 7,9 7,8 7,9 7,8 7,9 7,8 7,8 7,8 7,8 7,8 7,9 7,8 7,8 7,9 7,8 7,9 7,9 7,9 7,9 7,10 7,9 7,9 7,10 7,9 7,9 7,10 7,9 7,8 7,9 7,8 7,9 7,8 7,8 7,8 7,8 7,7 7,8 7,8 7,7 7,8 7,8 7,7 7,8 7,7 7,8 7,8 7,7 7,8 7,7 7,8 7,8 7,7 7,8 7,7 7,8 7,7 7,8 7,7 7,7 7,7 7,8 7,7 7,7 7,6 7,7 7,7 7,7 7,6 7,7 7,6 7,7 7,6 7,7 7,6 7,7 7,6 7,7 7,6 7,7 7,7 7,6 7,7 7,6 7,7 7,7 7,6 7,7 7,6 7,7 7,7 7,6 7,7 7,6 7,6 7,7 7,6 7,6 7,6 7,6 7,6 7,6 7,6 7,6 7,5 7,6 7,6 7,6 7,5 7,6 7,6 7,6 7,6 7,5 7,6 7,6 7,6 7,6 7,6 7,6 7,6 7,6 7,6 7,6 7,6 7,6 7,6 7,6 7,5 7,6 7,6 7,5 7,6 7,6 7,5 7,5 7,6 7,5 7,5 7,6 7,5 7,5 7,5 7,5 7,6 7,5 7,5 7,5 7,5 7,5 7,5 7,5 7,5 7,5 7,5 7,4 7,5 7,5 7,5 7,5 7,5 7,5 7,5 7,5 7,4 7,5 7,5 7,4 7,5 7,4 7,5 7,4 7,4 7,4 7,4 7,5 7,3 7,4 7,4 7,4 7,4 7,4 7,4 7,3 7,4 7,4 7,4 7,4 7,4 7,3 7,4 7,4 7,4 7,4 7,5 7,4 7,4 7,4 7,4 7,5 7,4 7,4 7,4 7,4 7,5 7,4 7,4 7,4 7,4 7,4 7,3 7,4 7,4 7,3 7,4 7,4 7,3 7,4 7,3 7,4 7,3 7,4 7,3 7,3 7,4 7,3 7,4 7,3 7,3 7,4 7,3 7,3 7,3 7,4 7,3 7,3 7,3 7,3 7,4 7,3 7,3 7,3 7,3 7,3 7,3 7,3 7,3 7,3 7,3 7,3 7,3 7,3 7,3 7,3 7,3 7,3 7,3 7,3 7,2 7,3 7,3 7,3 7,3 7,2 7,3 7,3 7,3 7,2 7,3 7,3 7,3 7,2 7,3 7,3 7,2 7,3 7,3 7,2 7,3 7,2 7,3 7,2 7,3 7,3 7,2 7,3 7,2 7,3 7,2 7,3 7,2 7,3 7,2 7,2 7,3 7,2 7,3 7,2 7,2 7,3 7,2 7,2 7,3 7,2 7,2 7,3 7,2 7,2 7,3 7,2 7,2 7,2 7,3 7,2 7,2 7,2 7,3 7,2 7,2 7,2 7,2 7,2 7,3 7,2 7,2 7,2 7,2 7,2 7,2 7,2 7,3 7,2 7,2 7,2 7,2 7,2 7,2 7,2 7,2 7,2 7,2 7,2 7,2 7,2 7,2 7,2 7,2 7,2 7,2 7,2 7,2 7,2 7,2 7,2 7,1 7,2 7,2 7,2 7,2 7,2 7,2 7,2 7,2 7,1 7,2 7,2 7,2 7,2 7,2 7,1 7,2 7,2 7,2 7,2 7,1 7,2 7,2 7,2 7,2 7,1 7,2 7,2 7,2 7,1 7,2 7,2 7,2 7,1 7,2 7,2 7,1 7,2 7,2 7,1 7,2 7,2 7,1 7,2 7,2 7,1 7,2 7,2 7,1 7,2 7,2 7,1 7,2 7,2 7,1 7,2 7,1 7,2 7,2 7,1 7,2 7,1 7,2 7,2 7,1 7,2 7,1 7,2 7,1 7,2 7,1 7,2 7,1 7,2 7,2 7,1 7,2 7,1 7,2 7,1 7,1 7,2 7,1 7,2 7,1 7,2 7,1 7,2 7,1 7,2 7,1 7,1 7,2 7,1 7,2 7,1 7,1 7,2 7,1 7,2 7,1 7,1 7,2 7,1 7,1 7,2 7,1 7,1 7,2 7,1 7,2 7,1 7,1 7,1 7,2 7,1 7,1 7,2 7,1 7,1 7,2 7,1 7,1 7,1 7,2 7,1 7,1 7,1 7,2 7,1 7,1 7,1 7,2 7,1 7,1 7,1 7,2 7,1 7,1 7,1 7,1 7,2 7,1 7,1 7,1 7,1 7,2 7,1 7,1 7,1 7,1 7,1 7,1 7,2 7,1 7,1 7,1 7,1 7,1 7,1 7,2 7,1 7,1 7,1 7,1 7,1 7,1 7,1 7,1 7,2 7,1 7,1 7,1 7,1 7,1 7,1 7,1 7,1 7,1 7,1 7,1 7,1 7,1 7,1 7,2 7,1 7,1 7,1 7,1 7,1 7,1 7,1 7,1 7,1 7,1 7,1 7,1 7,1 7,1 7,1 7,1 7,1 7,1 7,1 7,1 7,1 7,1 7,1 7,1 7,1 7,0 7,1 7,1 7,1 7,1 7,1 7,1 7,1 7,1 7,1 7,1 7,1 7,1 7,1 7,1 7,1 7,0 7,1 7,1 7,1 7,1 7,1 7,1 7,1 7,1 7,1 7,0 7,1 7,1 7,1 7,1 7,1 7,1 7,1 7,0 7,1 7,1 7,1 7,1 7,1 7,1 7,0 7,1 7,1 7,1 7,1 7,1 7,0 7,1 7,1 7,1 7,1 7,1 7,0 7,1 7,1 7,1 7,1 7,1 7,0 7,1 7,1 7,1 7,1 7,0 7,1 7,1 7,1 7,0 7,1 7,1 7,1 7,1 7,0 7,1 7,1 7,1 7,0 7,1 7,1 7,1 7,0 7,1 7,1 7,1 7,0 7,1 7,1 7,0 7,1 7,1 7,1 7,0 7,1 7,1 7,1 7,0 7,1 7,1 7,0 7,1 7,1 7,0 7,1 7,1 7,1 7,0 7,1 7,1 7,0 7,1 7,1 7,0 7,1 7,1 7,0 7,1 7,1 7,0 7,1 7,1 7,0 7,1 7,1 7,0 7,1 7,1 7,0 7,1 7,0 7,1 7,1 7,0 7,1 7,1 7,0 7,1 7,1 7,0 7,1 7,0 7,1 7,1 7,0 7,1 7,0 7,1 7,1 7,0 7,1 7,1 7,0 7,1 7,0 7,1 7,1 7,0 7,1 7,0 7,1 7,0 7,1 7,1 7,0 7,1 7,0 7,1 7,1 7,0 7,1 7,0 7,1 7,0 7,1 7,1 7,0 7,1 7,0 7,1 7,0 7,1 7,0 7,1 7,1 7,0 7,1 7,0 7,1 7,0 7,1 7,0 7,1 7,1 7,0 7,1 7,0 7,1 7,0 7,1 7,0 7,1 7,0 7,1 7,0 7,1 7,0 7,1 7,0 7,1 7,0 7,1 7,1 7,0 7,1 7,0 7,1 7,0 7,1 7,0 7,1 7,0 7,1 7,0 7,1 7,0 7,1 7,0 7,1 7,0 7,1 7,0 7,1 7,0 7,1 7,0 7,1 7,0 7,1 7,0 7,1 7,0 7,0 7,1 7,0 7,1 7,0 7,1 7,0 7,1 7,0 7,1 7,0 7,1 7,0 7,1 7,0 7,1 7,0 7,1 7,0 7,0 7,1 7,0 7,1 7,0 7,1 7,0 7,1 7,0 7,1 7,0 7,1 7,0 7,0 7,1 7,0 7,1 7,0 7,1 7,0 7,1 7,0 7,0 7,1 7,0 7,1 7,0 7,1 7,0 7,0 7,1 7,0 7,1 7,0 7,1 7,0 7,0 7,1 7,0 7,1 7,0 7,1 7,0 7,0 7,1 7,0 7,1 7,0 7,0 7,1 7,0 7,1 7,0 7,1 7,0 7,0 7,1 7,0 7,1 7,0 7,0 7,1 7,0 7,1 7,0 7,0 7,1 7,0 7,1 7,0 7,0 7,1 7,0 7,0 7,1 7,0 7,1 7,0 7,0 7,1 7,0 7,1 7,0 7,0 7,1 7,0 7,0 7,1 7,0 7,1 7,0 7,0 7,1 7,0 7,0 7,1 7,0 7,1 7,0 7,0 7,1 7,0 7,0 7,1 7,0 7,0 7,1 7,0 7,0 7,1 7,0 7,1 7,0 7,0 7,1 7,0 7,0 7,1 7,0 7,0 7,1 7,0 7,0 7,1 7,0 7,0 7,1 7,0 7,0 7,1 7,0 7,0 7,1 7,0 7,0 7,1 7,0 7,0 7,1 7,0 7,0 7,1 7,0 7,0 7,1 7,0 7,0 7,1 7,0 7,0 7,1" stroke="#000" stroke-width="62" stroke-dasharray="62 102" stroke-linecap="butt"/>
<path d="M12461,17175l7,24 7,24 7,24 7,24 7,25 7,25 7,25 7,25 7,25 7,26 7,25 7,25 7,26 7,25 7,26 7,26 7,25 7,26 7,26 7,26 7,26 7,26 7,27 7,26 7,27 7,27 7,28 7,30 7,28 7,28 7,25 7,23 7,22 7,21 7,20 7,19 7,20 7,20 7,20 7,20 7,21 7,20 7,21 7,20 7,20 7,21 7,20 7,20 7,20 7,21 7,20 7,19 7,20 7,18 7,18 7,17 7,17 7,16 7,16 7,16 7,16 7,17 7,17 7,17 7,18 7,18 7,19 7,19 7,19 7,18 7,19 7,17 7,18 7,17 7,17 7,16 7,17 7,16 7,17 7,16 7,16 7,16 7,16 7,16 7,15 7,16 7,15 7,16 7,15 7,15 7,14 7,14 7,14 7,14 7,14 7,13 7,14 7,13 7,13 7,13 7,13 7,13 7,13 7,13 7,13 7,12 7,13 7,13 7,12 7,13 7,12 7,13 7,12 7,12 7,12 7,12 7,12 7,12 7,11 7,12 7,11 7,12 7,11 7,12 7,12 7,11 7,12 7,12 7,12 7,12 7,12 7,12 7,12 7,12 7,11 7,12 7,11 7,10 7,11 7,10 7,9 7,10 7,9 7,10 7,9 7,9 7,9 7,9 7,9 7,10 7,9 7,9 7,10 7,10 7,9 7,10 7,10 7,10 7,10 7,9 7,10 7,10 7,9 7,9 7,10 7,9 7,8 7,9 7,9 7,9 7,8 7,9 7,8 7,8 7,9 7,8 7,8 7,8 7,8 7,8 7,8 7,8 7,8 7,7 7,8 7,7 7,8 7,7 7,8 7,7 7,7 7,8 7,7 7,7 7,7 7,8 7,7 7,7 7,7 7,7 7,7 7,8 7,7 7,7 7,7 7,7 7,7 7,7 7,7 7,7 7,7 7,7 7,6 7,7 7,7 7,7 7,7 7,7 7,6 7,7 7,7 7,7 7,6 7,7 7,6 7,7 7,6 7,7 7,6 7,7 7,6 7,6 7,6 7,6 7,6 7,6 7,6 7,6 7,6 7,6 7,6 7,6 7,5 7,6 7,5 7,6 7,5 7,6 7,5 7,5 7,5 7,5 7,5 7,5 7,5 7,5 7,4 7,5 7,5 7,4 7,5 7,4 7,5 7,5 7,4 7,5 7,5 7,4 7,5 7,5 7,5 7,4 7,5 7,5 7,5 7,5 7,5 7,4 7,5 7,5 7,5 7,5 7,4 7,5 7,5 7,5 7,5 7,4 7,5 7,5 7,4 7,5 7,5 7,4 7,5 7,5 7,4 7,5 7,4 7,5 7,4 7,5 7,4 7,5 7,4 7,4 7,5 7,4 7,4 7,4 7,5 7,4 7,4 7,4 7,4 7,4 7,4 7,4 7,4 7,4 7,3 7,4 7,4 7,4 7,4 7,3 7,4 7,4 7,3 7,4 7,4 7,3 7,4 7,4 7,3 7,4 7,3 7,4 7,3 7,4 7,3 7,4 7,3 7,3 7,4 7,3 7,4 7,3 7,3 7,3 7,4 7,3 7,3 7,3 7,3 7,4 7,3 7,3 7,3 7,3 7,3 7,3 7,3 7,3 7,3 7,3 7,3 7,3 7,3 7,3 7,3 7,2 7,3 7,3 7,3 7,3 7,2 7,3 7,3 7,3 7,2 7,3 7,3 7,2 7,3 7,3 7,2 7,3 7,2 7,3 7,3 7,2 7,3 7,2 7,3 7,2 7,3 7,2 7,3 7,2 7,3 7,2 7,2 7,3 7,2 7,3 7,2 7,2 7,3 7,2 7,2 7,3 7,2 7,2 7,2 7,3 7,2 7,2 7,3 7,2 7,2 7,2 7,2 7,3 7,2 7,2 7,2 7,2 7,2 7,2 7,3 7,2 7,2 7,2 7,2 7,2 7,2 7,2 7,2 7,2 7,2 7,2 7,2 7,2 7,2 7,2 7,2 7,2 7,2 7,2 7,2 7,2 7,2 7,2 7,2 7,1 7,2 7,2 7,2 7,2 7,2 7,2 7,1 7,2 7,2 7,2 7,2 7,1 7,2 7,2 7,2 7,2 7,1 7,2 7,2 7,2 7,1 7,2 7,2 7,1 7,2 7,2 7,2 7,1 7,2 7,2 7,1 7,2 7,2 7,1 7,2 7,1 7,2 7,2 7,1 7,2 7,2 7,1 7,2 7,1 7,2 7,1 7,2 7,2 7,1 7,2 7,1 7,2 7,1 7,2 7,1 7,2 7,1 7,2 7,1 7,2 7,1 7,2 7,1 7,2 7,1 7,2 7,1 7,1 7,2 7,1 7,2 7,1 7,2 7,1 7,1 7,2 7,1 7,2 7,1 7,1 7,2 7,1 7,2 7,1 7,1 7,2 7,1 7,1 7,2 7,1 7,1 7,2 7,1 7,1 7,2 7,1 7,1 7,2 7,1 7,1 7,1 7,2 7,1 7,1 7,2 7,1 7,1 7,1 7,2 7,1 7,1 7,1 7,2 7,1 7,1 7,1 7,1 7,2 7,1 7,1 7,1 7,2 7,1 7,1 7,1 7,1 7,1 7,2 7,1 7,1 7,1 7,1 7,2 7,1 7,1 7,1 7,1 7,1 7,1 7,1 7,2 7,1 7,1 7,1 7,1 7,1 7,1 7,1 7,1 7,2 7,1 7,1 7,1 7,1 7,1 7,1 7,1 7,1 7,1 7,1 7,1 7,1 7,1 7,1 7,1 7,1 7,1 7,1 7,1 7,1 7,1 7,1 7,1 7,1 7,1 7,1 7,1 7,1 7,1 7,1 7,1 7,1 7,1 7,1 7,1 7,1 7,1 7,1 7,1 7,1 7,1 7,1 7,1 7,1 7,0 7,1 7,1 7,1 7,1 7,1 7,1 7,1 7,1 7,1 7,0 7,1 7,1 7,1 7,1 7,1 7,1 7,1 7,0 7,1 7,1 7,1 7,1 7,1 7,0 7,1 7,1 7,1 7,1 7,1 7,0 7,1 7,1 7,1 7,1 7,1 7,0 7,1 7,1 7,1 7,0 7,1 7,1 7,1 7,1 7,0 7,1 7,1 7,1 7,0 7,1 7,1 7,1 7,0 7,1 7,1 7,1 7,0 7,1 7,1 7,1 7,0 7,1 7,1 7,1 7,0 7,1 7,1 7,0 7,1 7,1 7,1 7,0 7,1 7,1 7,0 7,1 7,1 7,0 7,1 7,1 7,0 7,1 7,1 7,0 7,1 7,1 7,0 7,1 7,1 7,0 7,1 7,1 7,0 7,1 7,1 7,0 7,1 7,0 7,1 7,1 7,0 7,1 7,1 7,0 7,1 7,0 7,1 7,1 7,0 7,1 7,1 7,0 7,1 7,0 7,1 7,0 7,1 7,1 7,0 7,1 7,0 7,1 7,1 7,0 7,1 7,0 7,1 7,0 7,1 7,1 7,0 7,1 7,0 7,1 7,0 7,1 7,0 7,1 7,0 7,1 7,1 7,0 7,1 7,0 7,1 7,0 7,1 7,0 7,1 7,0 7,1 7,0 7,1 7,0 7,1 7,0 7,1 7,0 7,1 7,0 7,1 7,0 7,1 7,0 7,1 7,0 7,1 7,0 7,1 7,0 7,1 7,0 7,0 7,1 7,0 7,1 7,0 7,1 7,0 7,1 7,0 7,1 7,0 7,0 7,1 7,0 7,1 7,0 7,1 7,0 7,1 7,0 7,0 7,1 7,0 7,1 7,0 7,1 7,0 7,0 7,1 7,0 7,1 7,0 7,0 7,1 7,0 7,1 7,0 7,0 7,1 7,0 7,1 7,0 7,0 7,1 7,0 7,1 7,0 7,0 7,1 7,0 7,1 7,0 7,0 7,1 7,0 7,0 7,1 7,0 7,1 7,0 7,0 7,1 7,0 7,0 7,1 7,0 7,1 7,0 7,0 7,1 7,0 7,0 7,1 7,0 7,0 7,1 7,0 7,1 7,0 7,0 7,1 7,0 7,0 7,1 7,0 7,0 7,1 7,0 7,0 7,1 7,0 7,0 7,1 7,0 7,0 7,1 7,0 7,0 7,1 7,0 7,0 7,1 7,0 7,0 7,1 7,0 7,0 7,1 7,0 7,0 7,1 7,0 7,0 7,1 7,0 7,0 7,1 7,0 7,0 7,1 7,0 7,0 7,1 7,0 7,0 7,1 7,0 7,0 7,0 7,1 7,0 7,0 7,1 7,0 7,0 7,1 7,0 7,0 7,0 7,1 7,0 7,0 7,1 7,0 7,0 7,1 7,0 7,0 7,0 7,1 7,0 7,0 7,1 7,0 7,0 7,1 7,0 7,0 7,0 7,1 7,0 7,0 7,1 7,0 7,0 7,0 7,1 7,0 7,0 7,1 7,0 7,0 7,0 7,1 7,0 7,0 7,1 7,0 7,0 7,0 7,1 7,0 7,0 7,0 7,1 7,0 7,0 7,1 7,0 7,0 7,0 7,1 7,0 7,0 7,0 7,1 7,0 7,0 7,0 7,1 7,0 7,0 7,0 7,1 7,0 7,0 7,1 7,0 7,0 7,0 7,1 7,0 7,0 7,0 7,1 7,0 7,0 7,0 7,1 7,0 7,0 7,0 7,1 7,0 7,0 7,0 7,0 7,1 7,0 7,0 7,0 7,1 7,0 7,0 7,0 7,1 7,0 7,0 7,0 7,1 7,0 7,0 7,0 7,0 7,1 7,0 7,0 7,0 7,1 7,0 7,0 7,0 7,1 7,0 7,0 7,0 7,0 7,1 7,0 7,0 7,0 7,0 7,1 7,0 7,0 7,0 7,1 7,0 7,0 7,0 7,0 7,1 7,0 7,0 7,0 7,0 7,1 7,0 7,0 7,0 7,0 7,1 7,0 7,0 7,0 7,0 7,1 7,0 7,0 7,0 7,0 7,1 7,0 7,0 7,0 7,0 7,1 7,0 7,0 7,0 7,0 7,1 7,0 7,0 7,0 7,0 7,0 7,1 7,0 7,0 7,0 7,0 7,1" stroke="#000" stroke-width="62" stroke-dasharray="62 102" stroke-linecap="butt"/>
<path d="M12461,17175l7,42 7,42 7,42 7,41 7,40 7,40 7,40 7,39 7,38 7,38 7,38 7,37 7,38 7,38 7,37 7,38 7,35 7,35 7,34 7,33 7,33 7,33 7,34 7,34 7,33 7,33 7,30 7,29 7,28 7,27 7,26 7,28 7,28 7,30 7,30 7,30 7,29 7,28 7,26 7,25 7,24 7,25 7,24 7,24 7,24 7,26 7,25 7,25 7,25 7,24 7,23 7,22 7,22 7,21 7,20 7,20 7,20 7,20 7,20 7,20 7,20 7,20 7,19 7,20 7,19 7,19 7,19 7,19 7,18 7,19 7,18 7,19 7,18 7,17 7,18 7,18 7,17 7,17 7,17 7,17 7,16 7,17 7,16 7,16 7,16 7,15 7,16 7,15 7,15 7,15 7,14 7,15 7,14 7,14 7,14 7,13 7,13 7,13 7,12 7,13 7,12 7,13 7,12 7,13 7,12 7,13 7,13 7,13 7,12 7,13 7,13 7,12 7,13 7,12 7,13 7,13 7,12 7,13 7,12 7,13 7,13 7,12 7,13 7,12 7,12 7,12 7,12 7,12 7,11 7,11 7,11 7,11 7,10 7,11 7,10 7,10 7,10 7,10 7,10 7,10 7,9 7,9 7,10 7,9 7,8 7,9 7,9 7,8 7,8 7,9 7,8 7,8 7,8 7,8 7,8 7,8 7,8 7,8 7,7 7,8 7,8 7,7 7,7 7,8 7,7 7,8 7,7 7,7 7,7 7,7 7,8 7,7 7,7 7,7 7,7 7,8 7,7 7,7 7,7 7,8 7,7 7,7 7,7 7,7 7,7 7,6 7,7 7,7 7,6 7,6 7,7 7,6 7,6 7,6 7,6 7,6 7,6 7,6 7,6 7,6 7,5 7,6 7,6 7,5 7,6 7,6 7,5 7,5 7,6 7,5 7,5 7,6 7,5 7,5 7,5 7,5 7,5 7,5 7,5 7,5 7,5 7,5 7,5 7,4 7,5 7,5 7,4 7,5 7,5 7,4 7,5 7,4 7,4 7,5 7,4 7,4 7,5 7,4 7,4 7,4 7,4 7,4 7,4 7,4 7,4 7,4 7,4 7,4 7,3 7,4 7,4 7,4 7,3 7,4 7,4 7,4 7,3 7,4 7,3 7,4 7,4 7,3 7,4 7,3 7,4 7,3 7,4 7,4 7,3 7,4 7,3 7,4 7,3 7,4 7,3 7,4 7,3 7,4 7,3 7,3 7,4 7,3 7,3 7,3 7,4 7,3 7,3 7,3 7,3 7,4 7,3 7,3 7,3 7,3 7,3 7,3 7,3 7,3 7,3 7,3 7,3 7,3 7,3 7,3 7,3 7,3 7,3 7,3 7,3 7,3 7,3 7,3 7,3 7,3 7,3 7,3 7,3 7,4 7,3 7,3 7,3 7,3 7,3 7,3 7,3 7,3 7,4 7,3 7,3 7,3 7,3 7,4 7,3 7,3 7,4 7,3 7,4 7,3 7,4 7,3 7,4 7,4 7,4 7,3 7,4 7,4 7,4 7,4 7,4 7,4 7,3 7,4 7,4 7,4 7,4 7,3 7,4 7,4 7,3 7,4 7,3 7,4 7,3 7,4 7,3 7,3 7,4 7,3 7,3 7,3 7,3 7,3 7,2 7,3 7,3 7,2 7,3 7,2 7,3 7,2 7,3 7,2 7,3 7,2 7,3 7,2 7,2 7,3 7,2 7,2 7,3 7,2 7,2 7,2 7,3 7,2 7,2 7,2 7,2 7,2 7,3 7,2 7,2 7,2 7,2 7,2 7,2 7,2 7,2 7,2 7,2 7,2 7,2 7,1 7,2 7,2 7,2 7,2 7,2 7,2 7,1 7,2 7,2 7,2 7,1 7,2 7,2 7,2 7,1 7,2 7,2 7,1 7,2 7,2 7,1 7,2 7,1 7,2 7,2 7,1 7,2 7,1 7,2 7,1 7,2 7,1 7,2 7,1 7,2 7,1 7,2 7,1 7,2 7,1 7,2 7,1 7,1 7,2 7,1 7,2 7,1 7,1 7,2 7,1 7,1 7,2 7,1 7,1 7,2 7,1 7,1 7,2 7,1 7,1 7,1 7,2 7,1 7,1 7,1 7,2 7,1 7,1 7,1 7,1 7,2 7,1 7,1 7,1 7,1 7,2 7,1 7,1 7,1 7,1 7,1 7,1 7,2 7,1 7,1 7,1 7,1 7,1 7,1 7,1 7,1 7,1 7,1 7,2 7,1 7,1 7,1 7,1 7,1 7,1 7,1 7,1 7,1 7,1 7,1 7,1 7,1 7,1 7,1 7,1 7,1 7,1 7,1 7,1 7,1 7,1 7,1 7,1 7,1 7,1 7,1 7,1 7,0 7,1 7,1 7,1 7,1 7,1 7,1 7,1 7,1 7,1 7,1 7,1 7,1 7,0 7,1 7,1 7,1 7,1 7,1 7,1 7,1 7,1 7,0 7,1 7,1 7,1 7,1 7,1 7,1 7,0 7,1 7,1 7,1 7,1 7,1 7,0 7,1 7,1 7,1 7,1 7,1 7,0 7,1 7,1 7,1 7,1 7,1 7,0 7,1 7,1 7,1 7,1 7,0 7,1 7,1 7,1 7,0 7,1 7,1 7,1 7,1 7,0 7,1 7,1 7,1 7,0 7,1 7,1 7,1 7,0 7,1 7,1 7,1 7,0 7,1 7,1 7,1 7,0 7,1 7,1 7,1 7,0 7,1 7,1 7,0 7,1 7,1 7,1 7,0 7,1 7,1 7,0 7,1 7,1 7,0 7,1 7,1 7,0 7,1 7,1 7,0 7,1 7,1 7,0 7,1 7,1 7,0 7,1 7,1 7,0 7,1 7,0 7,1 7,1 7,0 7,1 7,1 7,0 7,1 7,0 7,1 7,1 7,0 7,1 7,0 7,1 7,1 7,0 7,1 7,0 7,1 7,0 7,1 7,1 7,0 7,1 7,0 7,1 7,0 7,1 7,0 7,1 7,1 7,0 7,1 7,0 7,1 7,0 7,1 7,0 7,1 7,0 7,1 7,0 7,1 7,0 7,1 7,0 7,1 7,0 7,1 7,0 7,1 7,0 7,1 7,0 7,1 7,0 7,1 7,0 7,1 7,0 7,0 7,1 7,0 7,1 7,0 7,1 7,0 7,1 7,0 7,0 7,1 7,0 7,1 7,0 7,1 7,0 7,0 7,1 7,0 7,1 7,0 7,0 7,1 7,0 7,1 7,0 7,0 7,1 7,0 7,1 7,0 7,0 7,1 7,0 7,0 7,1 7,0 7,1 7,0 7,0 7,1 7,0 7,0 7,1 7,0 7,0 7,1 7,0 7,0 7,1 7,0 7,0 7,1 7,0 7,0 7,1 7,0 7,0 7,1 7,0 7,0 7,1 7,0 7,0 7,0 7,1 7,0 7,0 7,1 7,0 7,0 7,1 7,0 7,0 7,0 7,1 7,0 7,0 7,0 7,1 7,0 7,0 7,1 7,0 7,0 7,0 7,1 7,0 7,0 7,0 7,1 7,0 7,0 7,0 7,1 7,0 7,0 7,0 7,1 7,0 7,0 7,0 7,0 7,1 7,0 7,0 7,0 7,1 7,0 7,0 7,0 7,0 7,1 7,0 7,0 7,0 7,0 7,1 7,0 7,0 7,0 7,1 7,0 7,0 7,0 7,0 7,1 7,0 7,0 7,0 7,0 7,0 7,1 7,0 7,0 7,0 7,0 7,1 7,0 7,0 7,0 7,0 7,0 7,1 7,0 7,0 7,0 7,0 7,1 7,0 7,0 7,0 7,0 7,0 7,1 7,0 7,0 7,0 7,0 7,0 7,1 7,0 7,0 7,0 7,0 7,0 7,1 7,0 7,0 7,0 7,0 7,0 7,0 7,1 7,0 7,0 7,0 7,0 7,0 7,1 7,0 7,0 7,0 7,0 7,0 7,0 7,1 7,0 7,0 7,0 7,0 7,0 7,0 7,1 7,0 7,0 7,0 7,0 7,0 7,0 7,1 7,0 7,0 7,0 7,0 7,0 7,0 7,1 7,0 7,0 7,0 7,0 7,0 7,0 7,1 7,0 7,0 7,0 7,0 7,0 7,0 7,1 7,0 7,0 7,0 7,0 7,0 7,0 7,0 7,1 7,0 7,0 7,0 7,0 7,0 7,0 7,0 7,1 7,0 7,0 7,0 7,0 7,0 7,0 7,1 7,0 7,0 7,0 7,0 7,0 7,0 7,0 7,1 7,0 7,0 7,0 7,0 7,0 7,0 7,0 7,1 7,0 7,0 7,0 7,0 7,0 7,0 7,1 7,0 7,0 7,0 7,0 7,0 7,0 7,0 7,1 7,0 7,0 7,0 7,0 7,0 7,0 7,0 7,1 7,0 7,0 7,0 7,0 7,0 7,0 7,0 7,1 7,0 7,0 7,0 7,0 7,0 7,0 7,0 7,1 7,0 7,0 7,0 7,0 7,0 7,0 7,0 7,1 7,0 7,0 7,0 7,0 7,0 7,0 7,0 7,1 7,0 7,0 7,0 7,0 7,0 7,0 7,0 7,0 7,1 7,0 7,0 7,0 7,0 7,0 7,0 7,0 7,1 7,0 7,0 7,0 7,0 7,0 7,0 7,0 7,0 7,1 7,0 7,0 7,0 7,0 7,0 7,0 7,0 7,0 7,1 7,0 7,0 7,0 7,0 7,0 7,0 7,0 7,0 7,1 7,0 7,0 7,0 7,0 7,0 7,0 7,0 7,0 7,1 7,0 7,0 7,0 7,0 7,0 7,0 7,0 7,0 7,0 7,1 7,0 7,0 7,0 7,0 7,0 7,0 7,0 7,0 7,0 7,1 7,0 7,0 7,0 7,0 7,0 7,0 7,0 7,0 7,0 7,1 7,0 7,0 7,0 7,0 7,0 7,0 7,0 7,0 7,0 7,1 7,0 7,0 7,0 7,0 7,0 7,0 7,0 7,0 7,0 7,0 7,1 7,0 7,0 7,0 7,0 7,0 7,0 7,0 7,0" stroke="#000" stroke-width="62" stroke-dasharray="62 102" stroke-linecap="butt"/>
</g></g>
<rect x="1206.1" y="1691.9" width="873.8" height="497.4" fill="none" stroke="#000" stroke-width="2.1" stroke-linejoin="miter"/>
<path d="M1206.1,2169.0 H1191.5 M1206.1,2080.2 H1191.5 M1206.1,1991.4 H1191.5 M1206.1,1902.6 H1191.5 M1206.1,1813.8 H1191.5 M1206.1,1725.0 H1191.5 M1246.1,2189.3 V2203.9 M1375.0,2189.3 V2203.9 M1503.8,2189.3 V2203.9 M1632.7,2189.3 V2203.9 M1761.5,2189.3 V2203.9 M1890.4,2189.3 V2203.9 M2019.3,2189.3 V2203.9" stroke="#000" stroke-width="2.8" fill="none"/>
<g font-family="'Liberation Sans', Arial, sans-serif" font-size="29.3" fill="#000">
<text x="1177.1" y="2179.4" text-anchor="end">0.0</text>
<text x="1177.1" y="2090.6" text-anchor="end">0.2</text>
<text x="1177.1" y="2001.8" text-anchor="end">0.4</text>
<text x="1177.1" y="1913.0" text-anchor="end">0.6</text>
<text x="1177.1" y="1824.2" text-anchor="end">0.8</text>
<text x="1177.1" y="1735.4" text-anchor="end">1.0</text>
<text x="1246.1" y="2239.6" text-anchor="middle">0</text>
<text x="1375.0" y="2239.6" text-anchor="middle">2</text>
<text x="1503.8" y="2239.6" text-anchor="middle">4</text>
<text x="1632.7" y="2239.6" text-anchor="middle">6</text>
<text x="1761.5" y="2239.6" text-anchor="middle">8</text>
<text x="1890.4" y="2239.6" text-anchor="middle">10</text>
<text x="2019.3" y="2239.6" text-anchor="middle">12</text>
<text x="1643.0" y="2282.8" text-anchor="middle">Time (ns)</text>
<text transform="translate(1113.8,1940.6) rotate(-90)" text-anchor="middle">Normalized intensity</text>
<text x="1302.0" y="2145.1">240K</text>
</g>
<text x="1063.0" y="1657.7" font-family="'Liberation Sans', Arial, sans-serif" font-weight="bold" font-size="33" fill="#000">h</text>
<rect x="1727.8" y="1706.5" width="337.5" height="150.5" rx="4.5" ry="4.5" fill="#fff" fill-opacity="0.8" stroke="#cccccc" stroke-width="2.8"/>
<path d="M1738.4,1735.2 H1796.7" stroke="#6f4ab8" stroke-opacity="0.72" stroke-width="6.3" stroke-linecap="square"/>
<text font-family="'DejaVu Sans', sans-serif" fill="#000"><tspan x="1818.80" y="1742.50" font-size="29.3">1</tspan><tspan x="1843.11" y="1742.50" font-size="29.3">×</tspan><tspan x="1873.32" y="1742.50" font-size="29.3">1</tspan><tspan x="1891.93" y="1742.50" font-size="29.3">0</tspan><tspan x="1910.81" y="1731.40" font-size="20.51">1</tspan><tspan x="1923.84" y="1731.40" font-size="20.51">4</tspan><tspan x="1993.08" y="1731.40" font-size="20.51">−</tspan><tspan x="2010.23" y="1731.40" font-size="20.51">3</tspan><tspan x="1947.16" y="1742.50" font-size="29.3" font-style="oblique">c</tspan><tspan x="1963.24" y="1742.50" font-size="29.3" font-style="oblique">m</tspan></text>
<path d="M1738.4,1783.0 H1796.7" stroke="#d27895" stroke-opacity="0.72" stroke-width="6.3" stroke-linecap="square"/>
<text font-family="'DejaVu Sans', sans-serif" fill="#000"><tspan x="1818.80" y="1790.30" font-size="29.3">3</tspan><tspan x="1837.41" y="1790.30" font-size="29.3">.</tspan><tspan x="1845.08" y="1790.30" font-size="29.3">2</tspan><tspan x="1869.39" y="1790.30" font-size="29.3">×</tspan><tspan x="1899.60" y="1790.30" font-size="29.3">1</tspan><tspan x="1918.21" y="1790.30" font-size="29.3">0</tspan><tspan x="1937.09" y="1779.20" font-size="20.51">1</tspan><tspan x="1950.12" y="1779.20" font-size="20.51">5</tspan><tspan x="2019.36" y="1779.20" font-size="20.51">−</tspan><tspan x="2036.52" y="1779.20" font-size="20.51">3</tspan><tspan x="1973.44" y="1790.30" font-size="29.3" font-style="oblique">c</tspan><tspan x="1989.52" y="1790.30" font-size="29.3" font-style="oblique">m</tspan></text>
<path d="M1738.4,1830.8 H1796.7" stroke="#f8d466" stroke-opacity="0.72" stroke-width="6.3" stroke-linecap="square"/>
<text font-family="'DejaVu Sans', sans-serif" fill="#000"><tspan x="1818.80" y="1838.10" font-size="29.3">1</tspan><tspan x="1837.41" y="1838.10" font-size="29.3">.</tspan><tspan x="1846.71" y="1838.10" font-size="29.3">9</tspan><tspan x="1871.02" y="1838.10" font-size="29.3">×</tspan><tspan x="1901.22" y="1838.10" font-size="29.3">1</tspan><tspan x="1919.83" y="1838.10" font-size="29.3">0</tspan><tspan x="1938.72" y="1827.00" font-size="20.51">1</tspan><tspan x="1951.75" y="1827.00" font-size="20.51">6</tspan><tspan x="2020.99" y="1827.00" font-size="20.51">−</tspan><tspan x="2038.14" y="1827.00" font-size="20.51">3</tspan><tspan x="1975.06" y="1838.10" font-size="29.3" font-style="oblique">c</tspan><tspan x="1991.15" y="1838.10" font-size="29.3" font-style="oblique">m</tspan></text>
</g>
</svg>
</body></html>
